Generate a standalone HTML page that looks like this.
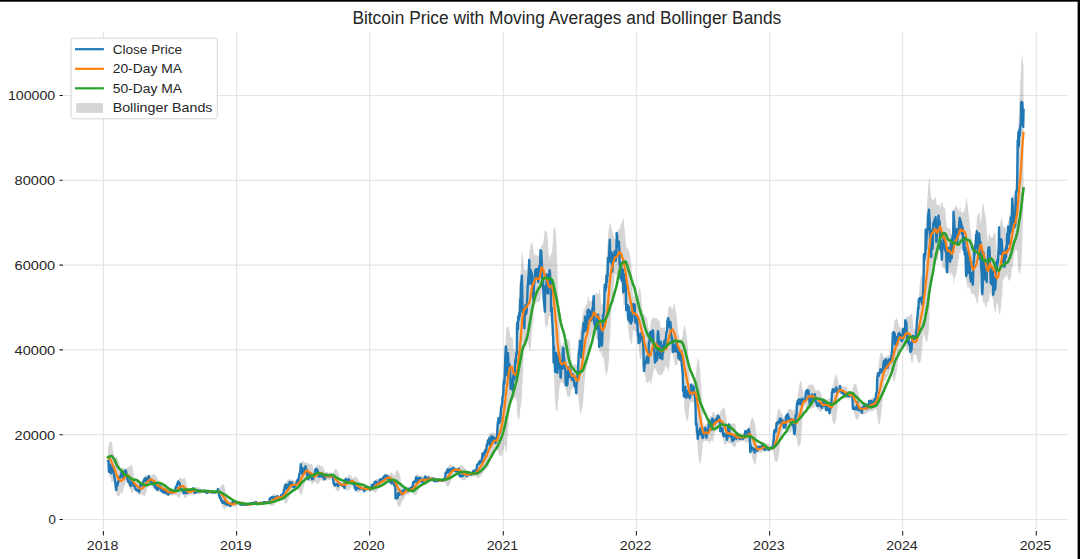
<!DOCTYPE html>
<html><head><meta charset="utf-8"><title>Bitcoin Price with Moving Averages and Bollinger Bands</title>
<style>
html,body{margin:0;padding:0;background:#fff;overflow:hidden}
svg{display:block}
text{font-family:"Liberation Sans",sans-serif;fill:#262626}
</style></head><body>
<svg width="1080" height="559" viewBox="0 0 1080 559">
<rect width="1080" height="559" fill="#fff"/>

<path d="M103.4,31.8V529 M236.6,31.8V529 M369.7,31.8V529 M503.3,31.8V529 M636.4,31.8V529 M769.6,31.8V529 M902.7,31.8V529 M1036.3,31.8V529 M64,519.50H1068 M64,434.70H1068 M64,349.90H1068 M64,265.10H1068 M64,180.30H1068 M64,95.50H1068" stroke="#e5e5e5" stroke-width="1.2" fill="none"/>
<polygon points="108.1,446.2 108.5,446.3 108.9,444.5 109.2,443.1 109.6,442.2 110.0,442.0 110.3,442.0 110.7,441.8 111.1,441.2 111.4,441.2 111.8,441.7 112.2,443.0 112.5,447.0 112.9,449.9 113.3,451.7 113.6,452.8 114.0,454.5 114.3,457.2 114.7,458.0 115.1,457.6 115.4,458.2 115.8,458.5 116.2,456.7 116.5,456.0 116.9,456.0 117.3,456.8 117.6,458.5 118.0,459.9 118.4,460.5 118.7,461.7 119.1,462.9 119.5,463.7 119.8,464.8 120.2,467.2 120.5,468.9 120.9,469.7 121.3,469.6 121.6,468.4 122.0,467.5 122.4,467.1 122.7,466.9 123.1,467.1 123.5,468.2 123.8,468.7 124.2,469.1 124.6,469.7 124.9,469.3 125.3,468.6 125.7,468.2 126.0,468.0 126.4,468.0 126.7,467.9 127.1,468.0 127.5,467.7 127.8,467.4 128.2,466.8 128.6,466.7 128.9,467.0 129.3,467.3 129.7,466.8 130.0,466.1 130.4,465.5 130.8,465.0 131.1,464.9 131.5,464.9 131.9,465.2 132.2,466.6 132.6,468.3 133.0,470.0 133.3,472.5 133.7,474.2 134.0,476.0 134.4,477.9 134.8,478.5 135.1,478.9 135.5,478.9 135.9,479.0 136.2,479.0 136.6,479.7 137.0,479.7 137.3,479.4 137.7,479.2 138.1,479.1 138.4,479.3 138.8,479.4 139.2,480.2 139.5,481.2 139.9,481.9 140.2,482.2 140.6,482.6 141.0,482.6 141.3,482.2 141.7,482.2 142.1,482.1 142.4,481.6 142.8,480.8 143.2,479.8 143.5,478.8 143.9,477.6 144.3,476.7 144.6,475.6 145.0,475.2 145.4,474.9 145.7,474.5 146.1,474.5 146.5,474.8 146.8,475.6 147.2,475.8 147.5,475.4 147.9,474.8 148.3,474.7 148.6,474.5 149.0,474.2 149.4,474.7 149.7,475.3 150.1,475.6 150.5,475.7 150.8,475.8 151.2,475.4 151.6,475.0 151.9,474.7 152.3,474.5 152.7,474.3 153.0,474.3 153.4,474.1 153.7,474.3 154.1,474.3 154.5,474.4 154.8,474.4 155.2,474.9 155.6,474.9 155.9,475.4 156.3,476.8 156.7,477.2 157.0,477.9 157.4,478.8 157.8,479.1 158.1,480.0 158.5,480.4 158.9,480.7 159.2,481.0 159.6,481.5 160.0,481.8 160.3,482.6 160.7,482.8 161.0,483.3 161.4,483.8 161.8,484.3 162.1,484.3 162.5,484.4 162.9,484.0 163.2,484.0 163.6,483.9 164.0,483.8 164.3,483.9 164.7,483.9 165.1,483.9 165.4,484.1 165.8,484.2 166.2,484.8 166.5,485.2 166.9,485.6 167.2,486.8 167.6,487.7 168.0,487.9 168.3,488.9 168.7,488.9 169.1,489.1 169.4,489.5 169.8,489.7 170.2,489.6 170.5,489.5 170.9,489.5 171.3,489.4 171.6,489.5 172.0,489.7 172.4,489.7 172.7,490.0 173.1,490.0 173.4,489.8 173.8,489.7 174.2,489.7 174.5,489.5 174.9,489.4 175.3,489.1 175.6,488.5 176.0,487.4 176.4,486.6 176.7,485.7 177.1,484.2 177.5,482.7 177.8,481.6 178.2,480.0 178.6,479.0 178.9,478.2 179.3,478.0 179.7,477.6 180.0,477.7 180.4,478.0 180.7,478.2 181.1,478.5 181.5,478.9 181.8,479.0 182.2,479.3 182.6,479.2 182.9,479.0 183.3,478.5 183.7,478.0 184.0,477.6 184.4,477.7 184.8,478.1 185.1,478.6 185.5,479.8 185.9,480.9 186.2,482.4 186.6,483.4 186.9,485.1 187.3,486.2 187.7,487.2 188.0,487.8 188.4,488.5 188.8,489.1 189.1,489.5 189.5,490.0 189.9,490.1 190.2,490.1 190.6,489.7 191.0,489.4 191.3,489.3 191.7,488.8 192.1,488.4 192.4,488.1 192.8,487.8 193.2,487.4 193.5,487.1 193.9,487.2 194.2,487.3 194.6,487.2 195.0,487.2 195.3,487.2 195.7,487.2 196.1,487.2 196.4,487.1 196.8,487.1 197.2,487.1 197.5,487.2 197.9,487.2 198.3,487.3 198.6,487.3 199.0,487.5 199.4,487.8 199.7,488.0 200.1,488.4 200.4,489.1 200.8,489.6 201.2,489.7 201.5,489.6 201.9,489.6 202.3,489.9 202.6,490.0 203.0,490.1 203.4,490.1 203.7,490.1 204.1,490.2 204.5,490.3 204.8,490.2 205.2,490.2 205.6,490.2 205.9,490.2 206.3,490.2 206.6,489.8 207.0,489.7 207.4,489.6 207.7,489.6 208.1,489.7 208.5,489.8 208.8,489.9 209.2,490.1 209.6,490.1 209.9,490.1 210.3,490.2 210.7,490.2 211.0,490.3 211.4,490.4 211.8,490.5 212.1,490.5 212.5,490.8 212.9,490.9 213.2,491.0 213.6,491.0 213.9,491.1 214.3,491.1 214.7,491.1 215.0,491.1 215.4,491.2 215.8,491.2 216.1,491.2 216.5,491.2 216.9,491.1 217.2,491.1 217.6,490.7 218.0,489.8 218.3,489.6 218.7,489.6 219.1,489.0 219.4,488.6 219.8,487.7 220.1,487.2 220.5,486.7 220.9,486.3 221.2,485.7 221.6,485.3 222.0,484.8 222.3,484.5 222.7,484.2 223.1,484.3 223.4,484.6 223.8,485.2 224.2,486.1 224.5,486.9 224.9,488.2 225.3,490.2 225.6,492.2 226.0,494.0 226.4,495.0 226.7,496.2 227.1,496.7 227.4,497.7 227.8,498.7 228.2,499.6 228.5,500.0 228.9,500.4 229.3,500.6 229.6,500.6 230.0,500.5 230.4,500.5 230.7,500.8 231.1,501.4 231.5,502.0 231.8,502.2 232.2,502.4 232.6,502.0 232.9,501.8 233.3,501.5 233.6,501.2 234.0,500.9 234.4,500.7 234.7,500.5 235.1,500.5 235.5,500.4 235.8,500.3 236.2,500.2 236.6,500.2 236.9,500.2 237.3,500.6 237.7,501.0 238.0,501.2 238.4,501.4 238.8,501.6 239.1,501.6 239.5,501.5 239.9,501.3 240.2,501.1 240.6,501.0 240.9,500.9 241.3,501.1 241.7,501.1 242.0,501.2 242.4,501.2 242.8,501.2 243.1,501.2 243.5,501.3 243.9,501.4 244.2,501.6 244.6,501.8 245.0,502.0 245.3,502.4 245.7,503.0 246.1,503.5 246.4,503.8 246.8,504.0 247.1,504.0 247.5,504.0 247.9,504.0 248.2,504.0 248.6,504.0 249.0,504.0 249.3,503.9 249.7,503.8 250.1,503.7 250.4,503.7 250.8,503.5 251.2,503.3 251.5,503.1 251.9,503.0 252.3,502.9 252.6,502.7 253.0,502.6 253.3,502.4 253.7,502.4 254.1,502.4 254.4,502.3 254.8,502.2 255.2,502.0 255.5,501.9 255.9,501.7 256.3,501.7 256.6,501.7 257.0,501.8 257.4,501.8 257.7,501.8 258.1,501.8 258.5,501.8 258.8,501.8 259.2,501.8 259.6,501.8 259.9,501.8 260.3,501.8 260.6,501.9 261.0,501.8 261.4,501.8 261.7,501.8 262.1,501.9 262.5,501.9 262.8,502.0 263.2,502.2 263.6,502.1 263.9,502.1 264.3,502.1 264.7,502.0 265.0,501.9 265.4,501.8 265.8,501.8 266.1,501.8 266.5,501.8 266.8,501.8 267.2,501.8 267.6,501.8 267.9,501.8 268.3,501.8 268.7,501.8 269.0,501.8 269.4,501.8 269.8,500.1 270.1,499.0 270.5,498.3 270.9,497.6 271.2,497.0 271.6,496.3 272.0,495.6 272.3,495.1 272.7,494.6 273.1,494.4 273.4,494.2 273.8,494.1 274.1,494.0 274.5,494.1 274.9,494.1 275.2,494.2 275.6,494.3 276.0,494.7 276.3,495.2 276.7,496.2 277.1,496.2 277.4,495.9 277.8,495.9 278.2,495.9 278.5,496.0 278.9,496.0 279.3,496.0 279.6,496.0 280.0,496.0 280.3,496.0 280.7,496.0 281.1,495.6 281.4,495.0 281.8,494.7 282.2,494.5 282.5,494.2 282.9,493.8 283.3,493.1 283.6,492.3 284.0,490.5 284.4,489.3 284.7,487.0 285.1,485.0 285.5,483.2 285.8,482.1 286.2,481.6 286.5,481.4 286.9,480.4 287.3,479.9 287.6,479.6 288.0,479.6 288.4,479.5 288.7,479.3 289.1,479.4 289.5,479.1 289.8,479.0 290.2,479.1 290.6,479.4 290.9,480.2 291.3,480.1 291.7,480.4 292.0,480.1 292.4,480.0 292.8,480.0 293.1,480.0 293.5,480.2 293.8,480.6 294.2,480.6 294.6,480.5 294.9,480.5 295.3,480.6 295.7,480.6 296.0,480.6 296.4,480.4 296.8,480.2 297.1,480.0 297.5,479.3 297.9,479.0 298.2,478.3 298.6,477.5 299.0,476.0 299.3,473.9 299.7,472.0 300.0,470.3 300.4,467.9 300.8,464.3 301.1,463.4 301.5,461.6 301.9,460.7 302.2,460.7 302.6,461.1 303.0,461.4 303.3,461.1 303.7,461.4 304.1,461.7 304.4,462.1 304.8,462.3 305.2,462.3 305.5,462.3 305.9,462.8 306.3,463.2 306.6,463.2 307.0,463.3 307.3,462.9 307.7,462.9 308.1,463.2 308.4,462.7 308.8,463.4 309.2,463.9 309.5,463.9 309.9,463.9 310.3,463.8 310.6,464.1 311.0,464.1 311.4,464.0 311.7,464.1 312.1,464.2 312.5,465.2 312.8,467.0 313.2,468.5 313.5,469.3 313.9,470.8 314.3,471.7 314.6,471.3 315.0,471.2 315.4,469.7 315.7,468.8 316.1,467.6 316.5,466.4 316.8,465.6 317.2,465.3 317.6,464.8 317.9,464.5 318.3,464.5 318.7,464.5 319.0,464.6 319.4,464.9 319.8,465.2 320.1,465.6 320.5,466.0 320.8,466.2 321.2,466.1 321.6,466.0 321.9,466.0 322.3,465.9 322.7,466.4 323.0,466.8 323.4,467.7 323.8,468.7 324.1,469.6 324.5,470.0 324.9,471.0 325.2,472.1 325.6,472.6 326.0,472.3 326.3,472.1 326.7,472.0 327.0,472.0 327.4,471.9 327.8,472.3 328.1,472.7 328.5,472.7 328.9,472.7 329.2,472.7 329.6,472.6 330.0,472.5 330.3,472.5 330.7,472.5 331.1,472.6 331.4,473.0 331.8,473.3 332.2,473.7 332.5,474.0 332.9,473.9 333.2,473.8 333.6,471.9 334.0,470.9 334.3,469.8 334.7,469.3 335.1,469.1 335.4,469.0 335.8,469.0 336.2,469.1 336.5,469.6 336.9,470.1 337.3,470.7 337.6,471.4 338.0,472.1 338.4,473.0 338.7,474.0 339.1,475.3 339.5,476.7 339.8,478.2 340.2,480.2 340.5,482.5 340.9,482.6 341.3,482.7 341.6,482.7 342.0,482.7 342.4,482.6 342.7,482.6 343.1,482.6 343.5,482.6 343.8,482.7 344.2,482.2 344.6,481.9 344.9,481.5 345.3,480.4 345.7,479.1 346.0,478.4 346.4,477.7 346.7,477.3 347.1,476.9 347.5,476.4 347.8,476.0 348.2,475.7 348.6,475.2 348.9,475.0 349.3,474.7 349.7,474.7 350.0,474.9 350.4,474.9 350.8,475.0 351.1,475.2 351.5,476.2 351.9,478.0 352.2,478.0 352.6,477.8 353.0,477.9 353.3,477.9 353.7,477.9 354.0,477.7 354.4,477.6 354.8,477.2 355.1,476.8 355.5,476.6 355.9,476.5 356.2,476.7 356.6,477.2 357.0,477.8 357.3,478.1 357.7,478.5 358.1,479.2 358.4,479.7 358.8,480.4 359.2,481.1 359.5,481.9 359.9,482.5 360.2,483.2 360.6,484.2 361.0,484.8 361.3,485.5 361.7,486.2 362.1,486.4 362.4,486.3 362.8,486.3 363.2,486.4 363.5,486.4 363.9,486.2 364.3,485.8 364.6,485.9 365.0,486.2 365.4,486.4 365.7,486.5 366.1,486.4 366.4,486.4 366.8,486.4 367.2,486.5 367.5,486.7 367.9,486.9 368.3,487.1 368.6,487.1 369.0,487.1 369.4,487.1 369.7,487.1 370.1,487.1 370.5,487.0 370.8,486.9 371.2,486.9 371.6,486.9 371.9,485.7 372.3,485.1 372.7,484.8 373.0,484.2 373.4,483.8 373.7,483.4 374.1,483.0 374.5,481.9 374.8,481.0 375.2,480.4 375.6,479.6 375.9,479.0 376.3,478.7 376.7,478.6 377.0,478.5 377.4,478.8 377.8,479.1 378.1,479.4 378.5,479.9 378.9,480.0 379.2,479.8 379.6,479.2 379.9,479.0 380.3,478.4 380.7,478.2 381.0,478.0 381.4,478.0 381.8,477.8 382.1,477.6 382.5,477.2 382.9,476.7 383.2,476.1 383.6,475.6 384.0,474.9 384.3,474.6 384.7,473.9 385.1,473.6 385.4,473.4 385.8,473.4 386.2,473.8 386.5,474.0 386.9,474.0 387.2,473.9 387.6,473.9 388.0,474.0 388.3,474.1 388.7,474.2 389.1,474.3 389.4,474.7 389.8,474.5 390.2,473.7 390.5,473.2 390.9,472.8 391.3,472.6 391.6,472.4 392.0,472.7 392.4,473.1 392.7,473.6 393.1,474.4 393.4,474.7 393.8,475.1 394.2,475.0 394.5,475.4 394.9,475.4 395.3,475.6 395.6,472.1 396.0,471.1 396.4,470.6 396.7,470.6 397.1,470.4 397.5,470.3 397.8,470.5 398.2,471.1 398.6,471.8 398.9,472.5 399.3,473.6 399.7,474.7 400.0,476.0 400.4,477.7 400.7,479.8 401.1,481.9 401.5,483.3 401.8,484.6 402.2,486.1 402.6,487.9 402.9,487.8 403.3,487.4 403.7,487.4 404.0,487.2 404.4,487.5 404.8,487.5 405.1,487.8 405.5,487.2 405.9,486.8 406.2,486.8 406.6,487.1 406.9,487.0 407.3,487.0 407.7,487.0 408.0,487.0 408.4,486.8 408.8,486.9 409.1,487.3 409.5,487.3 409.9,487.5 410.2,487.6 410.6,487.6 411.0,487.3 411.3,486.9 411.7,486.6 412.1,486.2 412.4,485.7 412.8,485.4 413.1,483.4 413.5,482.2 413.9,480.9 414.2,479.7 414.6,478.9 415.0,478.2 415.3,477.6 415.7,476.9 416.1,475.4 416.4,474.3 416.8,473.7 417.2,474.0 417.5,474.4 417.9,474.8 418.3,474.8 418.6,474.5 419.0,474.8 419.4,475.1 419.7,475.4 420.1,475.9 420.4,475.6 420.8,475.6 421.2,475.7 421.5,475.7 421.9,475.7 422.3,475.7 422.6,475.7 423.0,475.6 423.4,476.1 423.7,476.3 424.1,476.4 424.5,476.2 424.8,476.4 425.2,475.9 425.6,475.8 425.9,475.9 426.3,475.7 426.6,475.6 427.0,475.6 427.4,475.6 427.7,475.6 428.1,475.5 428.5,475.3 428.8,475.3 429.2,475.4 429.6,475.7 429.9,475.9 430.3,476.4 430.7,476.6 431.0,476.6 431.4,476.5 431.8,476.5 432.1,476.5 432.5,477.1 432.9,477.0 433.2,477.0 433.6,477.2 433.9,477.2 434.3,477.2 434.7,477.2 435.0,477.3 435.4,477.6 435.8,478.0 436.1,478.0 436.5,478.1 436.9,478.1 437.2,478.1 437.6,478.2 438.0,478.3 438.3,478.4 438.7,478.4 439.1,478.4 439.4,478.4 439.8,478.4 440.1,478.9 440.5,479.3 440.9,479.4 441.2,479.4 441.6,479.4 442.0,479.5 442.3,479.5 442.7,479.5 443.1,479.5 443.4,479.3 443.8,479.0 444.2,478.7 444.5,478.5 444.9,478.2 445.3,477.6 445.6,474.9 446.0,473.4 446.3,472.0 446.7,470.8 447.1,469.5 447.4,467.8 447.8,467.2 448.2,466.6 448.5,466.2 448.9,465.4 449.3,464.7 449.6,464.4 450.0,464.2 450.4,464.2 450.7,464.1 451.1,464.5 451.5,464.8 451.8,465.5 452.2,466.3 452.6,467.4 452.9,467.2 453.3,466.9 453.6,466.8 454.0,466.9 454.4,466.9 454.7,466.9 455.1,467.2 455.5,467.4 455.8,467.7 456.2,467.5 456.6,467.5 456.9,467.4 457.3,467.4 457.7,467.4 458.0,467.5 458.4,467.5 458.8,467.4 459.1,467.4 459.5,466.0 459.8,465.6 460.2,465.0 460.6,465.2 460.9,465.3 461.3,465.2 461.7,465.4 462.0,465.5 462.4,465.7 462.8,466.1 463.1,466.5 463.5,466.8 463.9,467.1 464.2,467.3 464.6,467.7 465.0,468.0 465.3,468.6 465.7,469.3 466.1,470.8 466.4,471.6 466.8,471.6 467.1,471.6 467.5,471.6 467.9,471.6 468.2,471.5 468.6,471.6 469.0,471.7 469.3,471.7 469.7,471.8 470.1,471.8 470.4,471.9 470.8,471.9 471.2,471.9 471.5,472.1 471.9,472.2 472.3,472.2 472.6,472.2 473.0,471.7 473.3,471.2 473.7,470.4 474.1,470.2 474.4,469.8 474.8,469.4 475.2,469.2 475.5,469.0 475.9,468.7 476.3,468.3 476.6,467.7 477.0,465.9 477.4,464.4 477.7,463.3 478.1,462.1 478.5,461.3 478.8,460.7 479.2,459.6 479.6,459.0 479.9,458.4 480.3,457.7 480.6,456.9 481.0,456.3 481.4,456.1 481.7,455.5 482.1,455.1 482.5,453.2 482.8,451.8 483.2,451.7 483.6,450.9 483.9,450.5 484.3,449.9 484.7,448.9 485.0,447.5 485.4,446.3 485.8,445.7 486.1,445.4 486.5,444.2 486.8,442.4 487.2,440.8 487.6,439.5 487.9,437.4 488.3,435.8 488.7,435.2 489.0,434.7 489.4,433.6 489.8,432.6 490.1,432.6 490.5,433.2 490.9,433.3 491.2,433.5 491.6,432.6 492.0,432.7 492.3,432.2 492.7,431.7 493.0,432.2 493.4,433.0 493.8,433.2 494.1,433.0 494.5,433.1 494.9,433.2 495.2,433.2 495.6,433.2 496.0,433.2 496.3,432.9 496.7,432.9 497.1,432.5 497.4,430.3 497.8,426.1 498.2,422.3 498.5,418.1 498.9,415.2 499.3,413.4 499.6,410.8 500.0,409.1 500.3,407.4 500.7,404.9 501.1,400.7 501.4,397.6 501.8,394.5 502.2,391.8 502.5,388.3 502.9,385.8 503.3,383.4 503.6,378.3 504.0,373.7 504.4,371.4 504.7,366.5 505.1,358.3 505.5,348.2 505.8,338.0 506.2,330.7 506.5,327.3 506.9,326.5 507.3,327.6 507.6,327.3 508.0,325.9 508.4,326.0 508.7,327.5 509.1,329.2 509.5,331.3 509.8,333.2 510.2,335.9 510.6,337.2 510.9,337.6 511.3,337.3 511.7,337.4 512.0,336.9 512.4,336.9 512.8,337.7 513.1,342.2 513.5,346.7 513.8,349.1 514.2,349.6 514.6,349.6 514.9,350.9 515.3,352.9 515.7,352.8 516.0,350.9 516.4,347.4 516.8,345.2 517.1,331.7 517.5,320.9 517.9,314.6 518.2,305.3 518.6,298.3 519.0,293.0 519.3,287.2 519.7,283.2 520.0,280.7 520.4,274.6 520.8,270.1 521.1,262.3 521.5,257.3 521.9,252.5 522.2,251.6 522.6,253.5 523.0,256.8 523.3,260.7 523.7,264.5 524.1,269.7 524.4,269.3 524.8,269.3 525.2,270.3 525.5,270.0 525.9,270.1 526.2,270.3 526.6,270.3 527.0,269.9 527.3,269.0 527.7,267.1 528.1,264.2 528.4,262.7 528.8,260.9 529.2,256.1 529.5,251.9 529.9,249.9 530.3,247.2 530.6,243.9 531.0,242.8 531.4,242.0 531.7,243.5 532.1,243.0 532.5,244.8 532.8,245.6 533.2,248.1 533.5,250.1 533.9,253.4 534.3,255.1 534.6,256.2 535.0,255.7 535.4,254.6 535.7,253.8 536.1,253.3 536.5,255.5 536.8,256.6 537.2,255.9 537.6,254.8 537.9,255.3 538.3,255.7 538.7,255.8 539.0,255.7 539.4,254.1 539.7,252.8 540.1,251.9 540.5,248.5 540.8,248.5 541.2,245.8 541.6,245.2 541.9,245.7 542.3,245.0 542.7,244.1 543.0,243.7 543.4,241.8 543.8,238.6 544.1,235.6 544.5,232.6 544.9,230.0 545.2,230.3 545.6,230.3 546.0,230.8 546.3,231.3 546.7,232.3 547.0,233.3 547.4,234.8 547.8,239.7 548.1,245.3 548.5,251.4 548.9,256.3 549.2,259.2 549.6,257.2 550.0,255.7 550.3,256.0 550.7,255.3 551.1,253.6 551.4,252.8 551.8,252.7 552.2,250.5 552.5,246.8 552.9,241.9 553.2,238.1 553.6,229.6 554.0,229.3 554.3,227.9 554.7,227.7 555.1,227.6 555.4,228.6 555.8,233.5 556.2,238.8 556.5,246.1 556.9,255.8 557.3,266.6 557.6,277.3 558.0,292.5 558.4,298.8 558.7,307.1 559.1,317.7 559.5,325.3 559.8,333.4 560.2,338.8 560.5,343.3 560.9,342.3 561.3,345.4 561.6,345.6 562.0,345.7 562.4,345.9 562.7,345.6 563.1,343.4 563.5,342.5 563.8,342.6 564.2,342.1 564.6,342.4 564.9,342.4 565.3,342.5 565.7,340.0 566.0,339.3 566.4,340.6 566.7,340.9 567.1,339.7 567.5,339.1 567.8,339.3 568.2,339.4 568.6,340.0 568.9,340.4 569.3,341.1 569.7,341.2 570.0,343.7 570.4,348.4 570.8,353.8 571.1,357.1 571.5,360.9 571.9,361.8 572.2,362.7 572.6,363.9 572.9,364.4 573.3,364.7 573.7,364.5 574.0,364.8 574.4,365.0 574.8,364.3 575.1,364.1 575.5,364.2 575.9,365.2 576.2,364.8 576.6,365.0 577.0,365.5 577.3,366.4 577.7,367.5 578.1,365.8 578.4,361.9 578.8,355.2 579.2,348.7 579.5,343.6 579.9,336.2 580.2,330.9 580.6,327.9 581.0,325.9 581.3,324.7 581.7,323.2 582.1,321.3 582.4,318.3 582.8,314.2 583.2,312.7 583.5,310.8 583.9,309.3 584.3,308.9 584.6,309.6 585.0,307.6 585.4,306.7 585.7,305.3 586.1,304.3 586.4,304.1 586.8,304.2 587.2,302.5 587.5,298.8 587.9,297.0 588.3,296.1 588.6,297.2 589.0,299.5 589.4,300.8 589.7,302.0 590.1,301.0 590.5,301.1 590.8,300.4 591.2,300.6 591.6,300.8 591.9,301.5 592.3,300.7 592.7,299.4 593.0,298.3 593.4,295.9 593.7,293.8 594.1,295.7 594.5,295.2 594.8,294.9 595.2,293.7 595.6,293.2 595.9,293.5 596.3,292.8 596.7,293.2 597.0,293.1 597.4,293.5 597.8,294.0 598.1,294.2 598.5,294.2 598.9,292.4 599.2,289.5 599.6,290.1 599.9,291.8 600.3,293.1 600.7,297.3 601.0,304.5 601.4,304.6 601.8,303.9 602.1,304.0 602.5,304.2 602.9,302.2 603.2,301.0 603.6,299.2 604.0,297.6 604.3,294.1 604.7,285.0 605.1,279.4 605.4,274.7 605.8,268.8 606.1,263.9 606.5,257.7 606.9,253.3 607.2,248.0 607.6,244.4 608.0,237.4 608.3,232.6 608.7,229.3 609.1,228.4 609.4,227.0 609.8,223.7 610.2,222.6 610.5,223.9 610.9,225.8 611.3,228.7 611.6,229.1 612.0,229.2 612.4,230.9 612.7,232.6 613.1,233.4 613.4,235.5 613.8,236.0 614.2,238.3 614.5,238.9 614.9,240.6 615.3,240.7 615.6,240.7 616.0,240.7 616.4,240.1 616.7,235.3 617.1,234.0 617.5,232.5 617.8,231.1 618.2,230.3 618.6,229.5 618.9,228.1 619.3,228.2 619.6,229.4 620.0,229.3 620.4,226.1 620.7,224.7 621.1,224.3 621.5,223.6 621.8,221.9 622.2,221.5 622.6,220.7 622.9,220.6 623.3,217.9 623.7,217.5 624.0,222.5 624.4,227.6 624.8,231.0 625.1,235.0 625.5,238.8 625.9,242.6 626.2,245.5 626.6,247.5 626.9,247.9 627.3,249.4 627.7,249.1 628.0,247.8 628.4,248.7 628.8,250.9 629.1,252.0 629.5,252.9 629.9,255.1 630.2,259.9 630.6,260.2 631.0,261.0 631.3,265.0 631.7,270.7 632.1,276.6 632.4,284.5 632.8,293.5 633.1,297.4 633.5,296.7 633.9,295.7 634.2,295.7 634.6,295.6 635.0,296.8 635.3,296.5 635.7,296.5 636.1,296.5 636.4,297.5 636.8,297.7 637.2,297.6 637.5,297.6 637.9,295.6 638.3,293.8 638.6,291.0 639.0,289.0 639.3,287.6 639.7,287.5 640.1,288.0 640.4,291.0 640.8,293.8 641.2,297.8 641.5,302.4 641.9,308.0 642.3,310.1 642.6,311.4 643.0,313.5 643.4,314.8 643.7,314.3 644.1,313.2 644.5,314.2 644.8,315.9 645.2,316.2 645.6,316.7 645.9,316.8 646.3,317.3 646.6,318.0 647.0,318.9 647.4,320.5 647.7,323.5 648.1,325.5 648.5,328.4 648.8,330.0 649.2,331.9 649.6,331.8 649.9,330.0 650.3,327.2 650.7,323.8 651.0,321.0 651.4,320.5 651.8,319.8 652.1,319.4 652.5,318.9 652.8,317.2 653.2,316.4 653.6,317.2 653.9,317.7 654.3,318.5 654.7,318.5 655.0,317.4 655.4,318.3 655.8,318.3 656.1,317.8 656.5,317.8 656.9,318.2 657.2,319.3 657.6,320.0 658.0,319.9 658.3,319.6 658.7,319.5 659.1,320.1 659.4,320.8 659.8,321.8 660.1,325.0 660.5,328.0 660.9,327.3 661.2,327.4 661.6,327.6 662.0,327.6 662.3,327.9 662.7,327.9 663.1,328.3 663.4,327.9 663.8,327.5 664.2,326.7 664.5,326.3 664.9,327.7 665.3,330.9 665.6,332.9 666.0,332.5 666.3,329.3 666.7,326.4 667.1,324.0 667.4,319.3 667.8,315.0 668.2,310.6 668.5,307.6 668.9,306.8 669.3,305.8 669.6,306.6 670.0,306.1 670.4,306.5 670.7,306.7 671.1,307.6 671.5,308.1 671.8,308.2 672.2,309.1 672.6,309.9 672.9,307.4 673.3,305.8 673.6,305.2 674.0,304.0 674.4,303.6 674.7,304.6 675.1,306.1 675.5,308.9 675.8,311.9 676.2,313.5 676.6,316.2 676.9,318.6 677.3,322.5 677.7,327.7 678.0,332.5 678.4,333.3 678.8,335.6 679.1,336.9 679.5,338.8 679.8,339.7 680.2,339.4 680.6,339.3 680.9,339.6 681.3,339.6 681.7,338.8 682.0,337.9 682.4,336.6 682.8,335.2 683.1,330.8 683.5,329.7 683.9,327.0 684.2,325.3 684.6,324.9 685.0,325.7 685.3,328.4 685.7,329.3 686.0,331.7 686.4,334.5 686.8,337.5 687.1,339.9 687.5,343.7 687.9,348.5 688.2,352.8 688.6,361.9 689.0,367.3 689.3,373.0 689.7,379.6 690.1,385.7 690.4,386.0 690.8,385.0 691.2,383.3 691.5,383.3 691.9,383.0 692.3,383.1 692.6,384.1 693.0,384.1 693.3,383.2 693.7,382.7 694.1,382.8 694.4,382.8 694.8,382.7 695.2,382.4 695.5,380.6 695.9,373.3 696.3,368.8 696.6,366.3 697.0,362.3 697.4,359.8 697.7,357.2 698.1,358.2 698.5,360.1 698.8,361.2 699.2,363.0 699.5,365.2 699.9,368.0 700.3,371.3 700.6,376.9 701.0,383.1 701.4,389.3 701.7,396.7 702.1,404.2 702.5,412.8 702.8,421.3 703.2,422.5 703.6,423.8 703.9,426.2 704.3,426.1 704.7,425.3 705.0,425.0 705.4,424.3 705.8,424.2 706.1,424.3 706.5,424.0 706.8,424.3 707.2,424.7 707.6,425.2 707.9,425.1 708.3,425.0 708.7,423.3 709.0,420.4 709.4,418.4 709.8,417.0 710.1,416.4 710.5,416.2 710.9,415.7 711.2,415.9 711.6,415.9 712.0,415.3 712.3,413.8 712.7,412.4 713.0,411.5 713.4,411.4 713.8,412.2 714.1,412.7 714.5,413.2 714.9,413.8 715.2,414.0 715.6,415.1 716.0,415.0 716.3,414.7 716.7,414.7 717.1,414.2 717.4,413.7 717.8,412.8 718.2,412.1 718.5,412.5 718.9,413.9 719.2,413.9 719.6,414.0 720.0,414.1 720.3,411.8 720.7,410.7 721.1,410.2 721.4,409.8 721.8,409.5 722.2,409.1 722.5,409.1 722.9,408.3 723.3,407.7 723.6,407.4 724.0,407.5 724.4,407.9 724.7,408.8 725.1,410.4 725.5,412.4 725.8,414.7 726.2,417.2 726.5,420.0 726.9,421.9 727.3,424.6 727.6,424.7 728.0,424.4 728.4,424.1 728.7,423.7 729.1,422.7 729.5,423.2 729.8,423.9 730.2,424.0 730.6,424.0 730.9,424.0 731.3,424.0 731.7,423.9 732.0,423.8 732.4,423.4 732.7,423.4 733.1,423.4 733.5,423.4 733.8,423.3 734.2,423.4 734.6,423.3 734.9,423.4 735.3,424.3 735.7,426.0 736.0,428.0 736.4,432.3 736.8,433.0 737.1,432.8 737.5,432.4 737.9,432.3 738.2,432.7 738.6,432.7 739.0,432.8 739.3,432.8 739.7,433.1 740.0,433.1 740.4,433.1 740.8,433.2 741.1,433.3 741.5,433.3 741.9,433.3 742.2,433.3 742.6,433.4 743.0,433.4 743.3,433.4 743.7,433.4 744.1,433.4 744.4,434.3 744.8,434.5 745.2,432.9 745.5,432.2 745.9,431.2 746.2,430.1 746.6,429.5 747.0,429.1 747.3,428.7 747.7,428.5 748.1,428.4 748.4,427.6 748.8,426.8 749.2,426.4 749.5,426.3 749.9,425.8 750.3,421.9 750.6,421.1 751.0,420.0 751.4,419.0 751.7,417.9 752.1,417.5 752.5,417.8 752.8,418.0 753.2,418.6 753.5,419.5 753.9,420.5 754.3,421.6 754.6,422.7 755.0,423.9 755.4,425.5 755.7,428.4 756.1,432.4 756.5,436.8 756.8,442.7 757.2,445.1 757.6,445.3 757.9,446.0 758.3,446.0 758.7,445.7 759.0,445.5 759.4,445.2 759.7,445.1 760.1,444.9 760.5,444.9 760.8,444.6 761.2,444.4 761.6,444.2 761.9,444.6 762.3,444.6 762.7,443.8 763.0,443.1 763.4,443.0 763.8,443.0 764.1,443.1 764.5,443.5 764.9,443.5 765.2,443.6 765.6,443.6 765.9,443.6 766.3,443.6 766.7,443.6 767.0,443.6 767.4,443.7 767.8,443.6 768.1,443.7 768.5,443.7 768.9,443.8 769.2,443.8 769.6,444.0 770.0,445.0 770.3,446.3 770.7,447.2 771.1,447.1 771.4,447.0 771.8,446.9 772.2,446.8 772.5,446.4 772.9,445.8 773.2,444.4 773.6,441.6 774.0,437.7 774.3,433.2 774.7,429.9 775.1,426.9 775.4,424.4 775.8,422.9 776.2,421.2 776.5,418.1 776.9,415.5 777.3,413.5 777.6,411.7 778.0,410.5 778.4,409.4 778.7,408.8 779.1,408.6 779.4,408.9 779.8,409.1 780.2,410.6 780.5,412.2 780.9,413.1 781.3,413.5 781.6,413.4 782.0,413.6 782.4,414.0 782.7,414.7 783.1,416.2 783.5,418.2 783.8,417.3 784.2,416.5 784.6,416.1 784.9,415.8 785.3,415.5 785.7,415.5 786.0,414.4 786.4,414.2 786.7,412.9 787.1,412.1 787.5,411.4 787.8,410.2 788.2,409.7 788.6,409.3 788.9,409.1 789.3,409.1 789.7,409.1 790.0,409.0 790.4,408.9 790.8,408.9 791.1,409.1 791.5,409.6 791.9,409.9 792.2,410.3 792.6,410.8 792.9,411.0 793.3,411.0 793.7,410.4 794.0,409.4 794.4,408.9 794.8,409.0 795.1,410.5 795.5,410.8 795.9,410.2 796.2,409.8 796.6,408.3 797.0,403.7 797.3,400.7 797.7,396.7 798.1,393.6 798.4,390.5 798.8,388.5 799.1,385.9 799.5,384.3 799.9,383.0 800.2,381.6 800.6,381.1 801.0,381.1 801.3,381.9 801.7,384.2 802.1,387.1 802.4,389.6 802.8,390.5 803.2,391.6 803.5,393.9 803.9,396.5 804.3,396.4 804.6,396.8 805.0,396.8 805.4,396.6 805.7,394.8 806.1,392.4 806.4,391.1 806.8,389.3 807.2,387.8 807.5,386.6 807.9,385.9 808.3,386.1 808.6,385.2 809.0,385.3 809.4,385.3 809.7,384.8 810.1,384.7 810.5,384.6 810.8,384.4 811.2,384.4 811.6,384.5 811.9,384.4 812.3,384.4 812.6,384.3 813.0,384.5 813.4,385.0 813.7,385.5 814.1,386.3 814.5,387.4 814.8,388.2 815.2,389.3 815.6,389.7 815.9,391.2 816.3,391.2 816.7,391.1 817.0,390.8 817.4,390.3 817.8,389.9 818.1,389.6 818.5,389.5 818.9,389.4 819.2,390.2 819.6,390.8 819.9,391.6 820.3,392.6 820.7,392.6 821.0,393.2 821.4,394.3 821.8,395.1 822.1,397.5 822.5,399.5 822.9,401.1 823.2,400.5 823.6,400.4 824.0,400.3 824.3,400.3 824.7,400.3 825.1,400.2 825.4,400.2 825.8,400.2 826.1,399.5 826.5,399.6 826.9,399.5 827.2,399.4 827.6,399.5 828.0,399.1 828.3,399.0 828.7,399.0 829.1,398.8 829.4,398.2 829.8,398.0 830.2,398.1 830.5,399.3 830.9,400.2 831.3,401.0 831.6,399.5 832.0,395.1 832.4,392.2 832.7,388.6 833.1,385.8 833.4,383.5 833.8,381.7 834.2,379.7 834.5,378.5 834.9,377.2 835.3,376.2 835.6,375.5 836.0,375.0 836.4,374.4 836.7,375.2 837.1,376.3 837.5,377.5 837.8,378.9 838.2,381.5 838.6,385.0 838.9,387.2 839.3,387.2 839.6,387.4 840.0,386.4 840.4,386.4 840.7,386.5 841.1,386.5 841.5,386.5 841.8,386.4 842.2,386.3 842.6,386.2 842.9,386.2 843.3,386.3 843.7,387.0 844.0,386.8 844.4,386.6 844.8,386.4 845.1,386.3 845.5,386.4 845.8,386.4 846.2,386.5 846.6,386.9 846.9,387.2 847.3,389.3 847.7,389.7 848.0,390.1 848.4,390.6 848.8,391.1 849.1,391.4 849.5,391.5 849.9,391.7 850.2,392.0 850.6,392.3 851.0,393.1 851.3,393.1 851.7,393.1 852.1,393.1 852.4,392.8 852.8,389.2 853.1,386.7 853.5,385.3 853.9,384.4 854.2,384.1 854.6,383.8 855.0,383.9 855.3,384.0 855.7,384.2 856.1,384.5 856.4,385.1 856.8,386.4 857.2,387.7 857.5,389.0 857.9,390.5 858.3,392.2 858.6,394.2 859.0,396.9 859.3,400.0 859.7,403.1 860.1,403.3 860.4,403.3 860.8,403.3 861.2,403.3 861.5,403.3 861.9,403.0 862.3,403.2 862.6,403.2 863.0,403.0 863.4,402.7 863.7,402.5 864.1,402.4 864.5,403.7 864.8,403.8 865.2,403.0 865.6,402.9 865.9,402.7 866.3,402.6 866.6,402.6 867.0,402.7 867.4,402.8 867.7,402.8 868.1,402.4 868.5,402.2 868.8,402.1 869.2,401.6 869.6,401.2 869.9,400.8 870.3,400.1 870.7,399.8 871.0,399.1 871.4,398.4 871.8,397.9 872.1,397.7 872.5,397.6 872.8,397.7 873.2,397.7 873.6,397.8 873.9,398.0 874.3,398.3 874.7,397.6 875.0,397.3 875.4,396.8 875.8,396.0 876.1,394.0 876.5,392.0 876.9,390.3 877.2,383.7 877.6,377.6 878.0,372.1 878.3,368.0 878.7,364.8 879.0,361.9 879.4,359.0 879.8,356.8 880.1,355.1 880.5,353.3 880.9,352.6 881.2,352.6 881.6,352.9 882.0,352.8 882.3,353.4 882.7,354.5 883.1,356.1 883.4,356.6 883.8,357.3 884.2,359.7 884.5,358.9 884.9,358.4 885.3,358.4 885.6,356.6 886.0,356.8 886.3,356.7 886.7,356.6 887.1,356.1 887.4,355.5 887.8,355.6 888.2,355.2 888.5,355.2 888.9,354.8 889.3,354.6 889.6,355.0 890.0,355.3 890.4,355.3 890.7,354.9 891.1,354.7 891.5,353.5 891.8,351.4 892.2,349.1 892.5,344.5 892.9,336.9 893.3,332.1 893.6,328.7 894.0,324.8 894.4,322.0 894.7,319.5 895.1,319.9 895.5,319.7 895.8,319.0 896.2,318.2 896.6,318.4 896.9,318.8 897.3,320.0 897.7,320.8 898.0,322.1 898.4,323.7 898.8,324.9 899.1,325.8 899.5,326.9 899.8,327.0 900.2,327.3 900.6,327.7 900.9,327.6 901.3,328.4 901.7,328.9 902.0,329.5 902.4,329.9 902.8,329.3 903.1,327.5 903.5,327.6 903.9,327.0 904.2,326.6 904.6,326.9 905.0,326.7 905.3,322.7 905.7,320.8 906.0,318.5 906.4,316.9 906.8,316.8 907.1,316.8 907.5,316.4 907.9,316.4 908.2,316.4 908.6,316.5 909.0,316.1 909.3,315.8 909.7,315.6 910.1,315.5 910.4,314.7 910.8,313.8 911.2,313.6 911.5,313.7 911.9,314.2 912.3,314.8 912.6,318.5 913.0,321.0 913.3,325.1 913.7,329.9 914.1,329.7 914.4,329.5 914.8,328.9 915.2,328.9 915.5,329.2 915.9,329.0 916.3,327.2 916.6,324.5 917.0,319.6 917.4,314.9 917.7,311.2 918.1,305.9 918.5,302.1 918.8,296.6 919.2,291.3 919.5,286.7 919.9,283.5 920.3,280.2 920.6,277.8 921.0,275.8 921.4,274.5 921.7,274.1 922.1,274.6 922.5,275.8 922.8,277.9 923.2,278.5 923.6,275.8 923.9,264.3 924.3,257.0 924.7,249.4 925.0,243.8 925.4,237.5 925.7,225.6 926.1,220.8 926.5,214.5 926.8,208.3 927.2,202.1 927.6,196.6 927.9,192.1 928.3,185.4 928.7,181.2 929.0,177.5 929.4,177.7 929.8,180.6 930.1,187.5 930.5,192.5 930.9,196.9 931.2,196.6 931.6,198.0 932.0,199.1 932.3,200.2 932.7,200.7 933.0,200.9 933.4,200.6 933.8,199.8 934.1,199.2 934.5,198.1 934.9,197.6 935.2,197.3 935.6,198.0 936.0,199.1 936.3,202.5 936.7,204.6 937.1,205.1 937.4,205.1 937.8,204.9 938.2,204.3 938.5,205.1 938.9,204.8 939.2,204.3 939.6,206.1 940.0,208.8 940.3,205.8 940.7,205.6 941.1,203.9 941.4,203.0 941.8,201.5 942.2,201.9 942.5,202.6 942.9,205.4 943.3,207.1 943.6,206.9 944.0,206.8 944.4,207.7 944.7,208.3 945.1,209.6 945.5,211.6 945.8,216.9 946.2,219.7 946.5,224.1 946.9,226.6 947.3,227.2 947.6,227.4 948.0,228.4 948.4,228.2 948.7,228.4 949.1,228.4 949.5,228.3 949.8,228.4 950.2,228.9 950.6,229.8 950.9,231.5 951.3,234.1 951.7,234.9 952.0,233.1 952.4,231.9 952.7,228.9 953.1,227.5 953.5,216.9 953.8,210.6 954.2,208.5 954.6,208.4 954.9,207.2 955.3,206.9 955.7,206.3 956.0,206.3 956.4,205.1 956.8,206.1 957.1,206.3 957.5,208.3 957.9,208.8 958.2,208.5 958.6,209.6 958.9,212.1 959.3,210.9 959.7,209.1 960.0,207.5 960.4,207.5 960.8,209.9 961.1,212.1 961.5,212.5 961.9,212.6 962.2,212.6 962.6,212.5 963.0,212.1 963.3,212.5 963.7,210.5 964.1,210.5 964.4,210.5 964.8,207.9 965.2,206.3 965.5,205.9 965.9,200.9 966.2,197.1 966.6,197.9 967.0,200.5 967.3,203.7 967.7,204.7 968.1,209.0 968.4,211.9 968.8,216.3 969.2,217.9 969.5,221.2 969.9,226.9 970.3,228.3 970.6,230.4 971.0,230.5 971.4,235.2 971.7,238.6 972.1,240.1 972.4,242.2 972.8,245.3 973.2,245.3 973.5,244.5 973.9,244.2 974.3,241.0 974.6,239.9 975.0,236.7 975.4,234.7 975.7,234.1 976.1,229.2 976.5,226.0 976.8,220.1 977.2,216.4 977.6,215.3 977.9,213.9 978.3,215.3 978.7,214.0 979.0,212.9 979.4,212.3 979.7,213.3 980.1,218.7 980.5,222.3 980.8,222.7 981.2,221.3 981.6,217.8 981.9,210.5 982.3,204.8 982.7,202.8 983.0,203.3 983.4,205.3 983.8,206.3 984.1,209.6 984.5,212.2 984.9,213.4 985.2,215.3 985.6,215.5 985.9,218.9 986.3,224.3 986.7,229.4 987.0,233.4 987.4,237.4 987.8,242.9 988.1,241.3 988.5,237.6 988.9,234.5 989.2,232.9 989.6,233.8 990.0,235.6 990.3,236.2 990.7,236.7 991.1,238.1 991.4,238.2 991.8,237.3 992.2,236.9 992.5,237.2 992.9,237.2 993.2,234.8 993.6,233.5 994.0,232.9 994.3,232.8 994.7,233.1 995.1,233.0 995.4,235.9 995.8,240.7 996.2,244.0 996.5,249.0 996.9,254.0 997.3,252.3 997.6,251.6 998.0,249.0 998.4,244.9 998.7,240.3 999.1,229.1 999.4,226.9 999.8,224.5 1000.2,222.7 1000.5,222.7 1000.9,220.2 1001.3,218.5 1001.6,217.9 1002.0,217.5 1002.4,220.4 1002.7,224.1 1003.1,226.6 1003.5,226.6 1003.8,227.1 1004.2,227.5 1004.6,226.9 1004.9,227.3 1005.3,227.4 1005.6,227.2 1006.0,227.6 1006.4,232.8 1006.7,232.7 1007.1,229.7 1007.5,226.3 1007.8,223.9 1008.2,220.7 1008.6,219.4 1008.9,220.0 1009.3,216.7 1009.7,214.8 1010.0,212.2 1010.4,210.6 1010.8,206.8 1011.1,205.3 1011.5,206.4 1011.9,207.9 1012.2,199.8 1012.6,197.4 1012.9,193.5 1013.3,194.7 1013.7,194.3 1014.0,195.4 1014.4,195.7 1014.8,195.5 1015.1,195.9 1015.5,195.5 1015.9,189.6 1016.2,186.1 1016.6,181.9 1017.0,177.8 1017.3,170.2 1017.7,151.2 1018.1,137.7 1018.4,123.7 1018.8,116.8 1019.1,106.7 1019.5,98.2 1019.9,91.4 1020.2,83.5 1020.6,77.3 1021.0,70.6 1021.3,62.1 1021.7,57.7 1022.1,54.9 1022.4,55.8 1022.8,61.6 1023.2,64.3 1023.5,66.4 1023.5,199.2 1023.2,209.3 1022.8,218.7 1022.4,234.1 1022.1,247.3 1021.7,256.3 1021.3,264.4 1021.0,267.0 1020.6,270.2 1020.2,273.3 1019.9,273.1 1019.5,273.7 1019.1,271.7 1018.8,271.2 1018.4,272.6 1018.1,268.2 1017.7,262.1 1017.3,252.0 1017.0,249.6 1016.6,250.1 1016.2,249.5 1015.9,251.3 1015.5,249.5 1015.1,249.9 1014.8,251.3 1014.4,252.4 1014.0,253.5 1013.7,258.5 1013.3,261.1 1012.9,266.3 1012.6,266.9 1012.2,269.1 1011.9,266.7 1011.5,272.2 1011.1,276.9 1010.8,278.0 1010.4,278.7 1010.0,280.4 1009.7,281.3 1009.3,281.1 1008.9,279.7 1008.6,279.8 1008.2,279.2 1007.8,277.3 1007.5,276.7 1007.1,275.3 1006.7,273.8 1006.4,273.9 1006.0,277.3 1005.6,276.7 1005.3,276.9 1004.9,277.4 1004.6,278.6 1004.2,277.4 1003.8,278.2 1003.5,279.8 1003.1,279.8 1002.7,284.0 1002.4,290.2 1002.0,297.0 1001.6,299.7 1001.3,304.0 1000.9,307.2 1000.5,309.8 1000.2,313.9 999.8,314.0 999.4,314.1 999.1,314.6 998.7,309.1 998.4,306.6 998.0,304.6 997.6,304.2 997.3,303.8 996.9,302.8 996.5,306.0 996.2,309.1 995.8,311.1 995.4,312.8 995.1,312.2 994.7,309.8 994.3,309.2 994.0,306.5 993.6,305.3 993.2,302.0 992.9,297.7 992.5,298.0 992.2,298.6 991.8,297.5 991.4,294.9 991.1,294.8 990.7,294.4 990.3,291.8 990.0,291.5 989.6,295.2 989.2,300.4 988.9,303.1 988.5,302.4 988.1,300.7 987.8,299.8 987.4,302.8 987.0,304.4 986.7,306.3 986.3,306.9 985.9,308.5 985.6,308.2 985.2,306.7 984.9,304.8 984.5,303.2 984.1,302.7 983.8,302.4 983.4,302.2 983.0,302.5 982.7,302.0 982.3,295.9 981.9,285.5 981.6,274.6 981.2,268.6 980.8,266.6 980.5,267.3 980.1,274.1 979.7,283.4 979.4,287.6 979.0,290.6 978.7,294.2 978.3,296.5 977.9,300.1 977.6,302.5 977.2,304.6 976.8,303.7 976.5,301.5 976.1,301.2 975.7,298.2 975.4,297.8 975.0,296.7 974.6,296.0 974.3,295.6 973.9,293.8 973.5,293.7 973.2,294.3 972.8,294.1 972.4,293.4 972.1,293.4 971.7,293.0 971.4,292.9 971.0,293.8 970.6,290.7 970.3,288.9 969.9,286.5 969.5,288.5 969.2,288.3 968.8,286.0 968.4,287.6 968.1,288.2 967.7,289.3 967.3,285.5 967.0,284.6 966.6,282.8 966.2,279.5 965.9,270.8 965.5,262.2 965.2,260.3 964.8,256.7 964.4,252.5 964.1,252.5 963.7,252.4 963.3,248.3 963.0,248.9 962.6,248.2 962.2,249.2 961.9,249.2 961.5,248.9 961.1,249.1 960.8,250.1 960.4,251.5 960.0,253.0 959.7,253.1 959.3,253.7 958.9,254.0 958.6,259.5 958.2,262.5 957.9,263.3 957.5,265.7 957.1,270.1 956.8,271.1 956.4,274.3 956.0,275.1 955.7,276.1 955.3,276.7 954.9,277.3 954.6,278.3 954.2,282.1 953.8,284.9 953.5,283.2 953.1,276.3 952.7,276.0 952.4,274.6 952.0,274.1 951.7,273.0 951.3,272.6 950.9,273.7 950.6,274.8 950.2,274.8 949.8,273.5 949.5,273.5 949.1,272.3 948.7,273.5 948.4,273.4 948.0,273.4 947.6,273.7 947.3,273.5 946.9,270.7 946.5,268.2 946.2,268.4 945.8,269.0 945.5,270.6 945.1,270.1 944.7,269.2 944.4,268.4 944.0,267.5 943.6,267.6 943.3,268.0 942.9,267.6 942.5,267.8 942.2,266.0 941.8,263.7 941.4,258.1 941.1,254.8 940.7,250.4 940.3,248.4 940.0,244.0 939.6,248.0 939.2,252.4 938.9,254.1 938.5,254.3 938.2,259.3 937.8,259.4 937.4,259.4 937.1,260.5 936.7,260.6 936.3,260.4 936.0,260.6 935.6,260.9 935.2,261.2 934.9,261.3 934.5,261.4 934.1,261.3 933.8,261.8 933.4,262.6 933.0,264.9 932.7,264.7 932.3,265.5 932.0,267.4 931.6,269.8 931.2,274.0 930.9,273.5 930.5,282.4 930.1,293.2 929.8,305.8 929.4,316.4 929.0,325.3 928.7,330.8 928.3,335.0 927.9,336.7 927.6,339.4 927.2,341.0 926.8,341.7 926.5,341.8 926.1,341.5 925.7,341.8 925.4,337.9 925.0,337.1 924.7,337.3 924.3,336.0 923.9,334.7 923.6,330.4 923.2,333.1 922.8,338.6 922.5,344.5 922.1,349.5 921.7,353.4 921.4,356.4 921.0,358.8 920.6,360.9 920.3,362.3 919.9,362.6 919.5,363.6 919.2,363.2 918.8,362.2 918.5,361.8 918.1,362.1 917.7,361.1 917.4,361.0 917.0,358.9 916.6,356.4 916.3,355.2 915.9,354.8 915.5,354.7 915.2,354.8 914.8,354.8 914.4,354.7 914.1,354.6 913.7,354.5 913.3,357.8 913.0,360.3 912.6,361.7 912.3,363.2 911.9,363.0 911.5,362.7 911.2,360.9 910.8,359.0 910.4,356.9 910.1,353.7 909.7,352.5 909.3,352.0 909.0,351.6 908.6,350.8 908.2,350.9 907.9,350.8 907.5,350.8 907.1,349.7 906.8,349.6 906.4,349.1 906.0,348.5 905.7,347.4 905.3,346.5 905.0,344.5 904.6,344.8 904.2,346.3 903.9,346.6 903.5,347.1 903.1,347.0 902.8,346.1 902.4,346.7 902.0,347.6 901.7,347.5 901.3,347.2 900.9,347.4 900.6,347.3 900.2,347.2 899.8,347.4 899.5,347.9 899.1,350.6 898.8,353.4 898.4,356.8 898.0,360.9 897.7,364.1 897.3,366.9 896.9,369.9 896.6,372.3 896.2,374.2 895.8,375.7 895.5,377.3 895.1,378.8 894.7,381.5 894.4,381.7 894.0,381.6 893.6,381.0 893.3,380.4 892.9,378.7 892.5,373.9 892.2,372.0 891.8,371.1 891.5,370.1 891.1,369.5 890.7,369.5 890.4,369.5 890.0,370.5 889.6,371.6 889.3,373.0 888.9,374.0 888.5,374.7 888.2,375.8 887.8,376.5 887.4,376.7 887.1,377.3 886.7,378.0 886.3,378.7 886.0,379.8 885.6,380.9 885.3,380.6 884.9,381.0 884.5,381.7 884.2,382.5 883.8,388.0 883.4,391.8 883.1,395.3 882.7,399.8 882.3,403.9 882.0,407.3 881.6,410.0 881.2,413.6 880.9,417.0 880.5,419.7 880.1,421.6 879.8,423.2 879.4,424.0 879.0,424.1 878.7,423.8 878.3,423.2 878.0,421.7 877.6,419.1 877.2,415.6 876.9,411.4 876.5,410.7 876.1,409.6 875.8,408.7 875.4,408.7 875.0,408.8 874.7,409.3 874.3,409.6 873.9,410.2 873.6,410.7 873.2,410.9 872.8,411.0 872.5,411.2 872.1,411.2 871.8,411.2 871.4,411.2 871.0,411.2 870.7,411.0 870.3,411.1 869.9,410.9 869.6,411.0 869.2,411.4 868.8,412.0 868.5,412.4 868.1,412.6 867.7,412.8 867.4,412.8 867.0,413.1 866.6,413.3 866.3,413.6 865.9,413.7 865.6,413.8 865.2,414.0 864.8,413.7 864.5,413.8 864.1,414.8 863.7,414.8 863.4,414.8 863.0,414.8 862.6,414.8 862.3,414.8 861.9,414.7 861.5,414.0 861.2,413.9 860.8,413.8 860.4,413.8 860.1,413.8 859.7,413.6 859.3,415.5 859.0,417.2 858.6,418.4 858.3,418.9 857.9,419.2 857.5,419.2 857.2,419.6 856.8,420.1 856.4,419.8 856.1,419.1 855.7,418.2 855.3,417.1 855.0,415.9 854.6,414.9 854.2,413.2 853.9,411.4 853.5,409.3 853.1,406.5 852.8,402.6 852.4,397.9 852.1,397.3 851.7,397.3 851.3,397.3 851.0,397.3 850.6,397.9 850.2,398.0 849.9,398.2 849.5,398.2 849.1,398.3 848.8,398.3 848.4,398.3 848.0,398.3 847.7,398.2 847.3,398.1 846.9,399.2 846.6,399.2 846.2,399.0 845.8,398.7 845.5,398.4 845.1,397.9 844.8,397.4 844.4,397.0 844.0,396.3 843.7,395.4 843.3,395.6 842.9,395.3 842.6,395.1 842.2,394.7 841.8,394.4 841.5,394.1 841.1,394.0 840.7,394.0 840.4,393.9 840.0,393.8 839.6,393.1 839.3,393.5 838.9,393.8 838.6,396.9 838.2,401.8 837.8,406.1 837.5,409.1 837.1,411.8 836.7,415.0 836.4,418.2 836.0,419.9 835.6,421.4 835.3,422.6 834.9,423.6 834.5,424.0 834.2,424.3 833.8,424.1 833.4,423.6 833.1,423.3 832.7,422.0 832.4,419.9 832.0,418.1 831.6,415.1 831.3,414.1 830.9,414.5 830.5,414.8 830.2,415.3 829.8,415.2 829.4,414.6 829.1,413.3 828.7,413.0 828.3,412.5 828.0,411.9 827.6,411.2 827.2,410.9 826.9,410.7 826.5,410.4 826.1,410.5 825.8,409.2 825.4,409.2 825.1,409.3 824.7,409.4 824.3,409.4 824.0,409.4 823.6,409.4 823.2,409.3 822.9,408.9 822.5,409.8 822.1,410.8 821.8,411.9 821.4,411.7 821.0,412.0 820.7,411.8 820.3,411.3 819.9,411.4 819.6,411.2 819.2,410.7 818.9,410.7 818.5,410.0 818.1,409.4 817.8,408.9 817.4,408.1 817.0,407.1 816.7,406.8 816.3,406.4 815.9,405.9 815.6,406.3 815.2,406.2 814.8,406.8 814.5,407.1 814.1,407.5 813.7,407.8 813.4,407.8 813.0,407.4 812.6,407.4 812.3,407.7 811.9,408.3 811.6,408.9 811.2,409.1 810.8,409.2 810.5,408.7 810.1,408.5 809.7,408.2 809.4,407.3 809.0,407.1 808.6,407.6 808.3,407.6 807.9,408.6 807.5,409.3 807.2,409.2 806.8,408.9 806.4,408.4 806.1,407.7 805.7,406.6 805.4,405.3 805.0,405.4 804.6,405.3 804.3,406.1 803.9,406.3 803.5,410.3 803.2,414.1 802.8,416.5 802.4,419.1 802.1,424.3 801.7,430.6 801.3,436.2 801.0,440.4 800.6,442.7 800.2,444.3 799.9,445.2 799.5,446.1 799.1,446.7 798.8,446.6 798.4,446.3 798.1,445.1 797.7,443.9 797.3,441.8 797.0,440.3 796.6,437.5 796.2,436.8 795.9,436.6 795.5,436.3 795.1,436.4 794.8,436.7 794.4,435.3 794.0,432.9 793.7,430.1 793.3,428.8 792.9,427.9 792.6,428.2 792.2,428.9 791.9,429.5 791.5,430.1 791.1,431.4 790.8,432.4 790.4,432.4 790.0,432.5 789.7,432.7 789.3,432.8 788.9,432.7 788.6,432.7 788.2,432.7 787.8,432.5 787.5,432.0 787.1,431.9 786.7,431.4 786.4,430.8 786.0,430.8 785.7,430.2 785.3,429.9 784.9,429.3 784.6,428.5 784.2,427.7 783.8,426.4 783.5,425.2 783.1,427.9 782.7,430.5 782.4,431.8 782.0,433.0 781.6,434.3 781.3,435.2 780.9,437.2 780.5,440.1 780.2,443.9 779.8,447.7 779.4,450.7 779.1,453.5 778.7,455.9 778.4,457.8 778.0,459.4 777.6,460.7 777.3,461.5 776.9,462.0 776.5,462.0 776.2,461.6 775.8,461.8 775.4,462.0 775.1,461.5 774.7,460.4 774.3,458.8 774.0,456.0 773.6,453.4 773.2,451.6 772.9,450.7 772.5,450.2 772.2,450.1 771.8,450.2 771.4,450.2 771.1,450.1 770.7,450.2 770.3,450.8 770.0,451.7 769.6,452.2 769.2,452.1 768.9,451.9 768.5,451.7 768.1,451.6 767.8,451.3 767.4,451.2 767.0,451.2 766.7,451.1 766.3,451.0 765.9,450.9 765.6,450.8 765.2,450.7 764.9,450.6 764.5,450.6 764.1,451.3 763.8,451.5 763.4,451.6 763.0,451.9 762.7,451.7 762.3,451.4 761.9,451.8 761.6,452.7 761.2,452.9 760.8,452.9 760.5,452.8 760.1,452.8 759.7,452.8 759.4,452.7 759.0,452.7 758.7,452.7 758.3,452.6 757.9,452.6 757.6,453.0 757.2,453.4 756.8,454.9 756.5,459.0 756.1,461.6 755.7,463.5 755.4,464.6 755.0,464.6 754.6,464.2 754.3,463.3 753.9,462.5 753.5,461.9 753.2,461.1 752.8,460.0 752.5,458.6 752.1,457.3 751.7,455.4 751.4,453.1 751.0,451.0 750.6,448.9 750.3,447.5 749.9,442.2 749.5,441.5 749.2,441.9 748.8,442.1 748.4,442.1 748.1,442.2 747.7,442.5 747.3,442.7 747.0,442.8 746.6,443.1 746.2,443.0 745.9,442.5 745.5,442.0 745.2,441.7 744.8,440.5 744.4,440.6 744.1,441.1 743.7,441.1 743.3,441.3 743.0,441.2 742.6,441.0 742.2,440.9 741.9,440.8 741.5,441.0 741.1,441.0 740.8,441.3 740.4,441.5 740.0,441.5 739.7,441.5 739.3,442.0 739.0,442.1 738.6,442.0 738.2,442.0 737.9,442.2 737.5,442.2 737.1,441.9 736.8,441.8 736.4,442.2 736.0,445.1 735.7,446.1 735.3,446.7 734.9,446.9 734.6,446.9 734.2,446.8 733.8,447.1 733.5,446.6 733.1,446.1 732.7,445.8 732.4,445.6 732.0,444.6 731.7,444.0 731.3,443.8 730.9,443.4 730.6,443.7 730.2,443.6 729.8,443.4 729.5,443.5 729.1,443.6 728.7,443.0 728.4,442.7 728.0,442.5 727.6,442.4 727.3,441.8 726.9,442.9 726.5,442.9 726.2,443.9 725.8,444.7 725.5,445.1 725.1,445.2 724.7,445.0 724.4,444.2 724.0,443.0 723.6,441.8 723.3,439.7 722.9,437.7 722.5,435.8 722.2,435.0 721.8,434.2 721.4,433.3 721.1,432.2 720.7,431.0 720.3,428.9 720.0,425.4 719.6,425.3 719.2,425.1 718.9,425.5 718.5,428.2 718.2,429.9 717.8,429.9 717.4,429.8 717.1,429.8 716.7,429.7 716.3,429.7 716.0,429.5 715.6,429.8 715.2,431.7 714.9,432.8 714.5,434.2 714.1,435.7 713.8,437.4 713.4,439.9 713.0,441.1 712.7,441.4 712.3,441.0 712.0,440.5 711.6,440.3 711.2,440.7 710.9,441.3 710.5,441.8 710.1,443.0 709.8,443.9 709.4,444.1 709.0,443.6 708.7,442.1 708.3,441.2 707.9,441.2 707.6,441.1 707.2,441.4 706.8,441.4 706.5,441.4 706.1,440.8 705.8,440.6 705.4,440.6 705.0,440.4 704.7,441.2 704.3,440.8 703.9,440.8 703.6,442.1 703.2,442.6 702.8,442.5 702.5,447.8 702.1,452.5 701.7,456.1 701.4,459.2 701.0,461.2 700.6,463.0 700.3,464.1 699.9,463.9 699.5,463.1 699.2,461.6 698.8,459.0 698.5,456.2 698.1,453.3 697.7,449.6 697.4,442.6 697.0,436.5 696.6,429.0 696.3,423.6 695.9,416.1 695.5,405.7 695.2,402.9 694.8,401.8 694.4,401.6 694.1,402.0 693.7,402.0 693.3,402.6 693.0,402.1 692.6,402.1 692.3,402.5 691.9,402.4 691.5,402.6 691.2,403.0 690.8,402.4 690.4,401.7 690.1,401.6 689.7,405.6 689.3,409.2 689.0,412.1 688.6,414.6 688.2,419.4 687.9,420.1 687.5,421.4 687.1,421.4 686.8,420.1 686.4,419.6 686.0,417.8 685.7,416.5 685.3,413.8 685.0,412.7 684.6,409.5 684.2,404.8 683.9,398.6 683.5,391.0 683.1,385.4 682.8,376.3 682.4,372.1 682.0,369.0 681.7,366.2 681.3,363.7 680.9,363.7 680.6,362.5 680.2,361.7 679.8,361.0 679.5,359.9 679.1,360.1 678.8,360.3 678.4,360.8 678.0,359.4 677.7,362.1 677.3,364.3 676.9,365.2 676.6,365.0 676.2,365.2 675.8,365.2 675.5,365.8 675.1,365.7 674.7,364.0 674.4,362.4 674.0,360.3 673.6,357.3 673.3,355.4 672.9,352.6 672.6,348.9 672.2,350.3 671.8,351.8 671.5,351.9 671.1,353.1 670.7,354.9 670.4,357.0 670.0,360.5 669.6,362.8 669.3,367.1 668.9,369.3 668.5,371.3 668.2,371.5 667.8,369.5 667.4,368.8 667.1,367.8 666.7,368.0 666.3,367.1 666.0,366.1 665.6,365.8 665.3,367.1 664.9,368.9 664.5,369.5 664.2,370.9 663.8,371.3 663.4,371.7 663.1,372.5 662.7,373.7 662.3,374.3 662.0,375.0 661.6,375.1 661.2,374.8 660.9,374.7 660.5,374.4 660.1,375.2 659.8,375.7 659.4,374.9 659.1,374.5 658.7,373.8 658.3,373.7 658.0,373.6 657.6,373.5 657.2,373.9 656.9,372.3 656.5,371.3 656.1,370.4 655.8,368.5 655.4,368.5 655.0,370.0 654.7,368.2 654.3,368.1 653.9,369.8 653.6,371.2 653.2,373.1 652.8,375.2 652.5,376.8 652.1,378.7 651.8,380.6 651.4,382.4 651.0,385.0 650.7,385.2 650.3,383.3 649.9,381.6 649.6,380.4 649.2,380.3 648.8,381.5 648.5,382.5 648.1,382.9 647.7,382.4 647.4,383.2 647.0,383.1 646.6,382.3 646.3,381.5 645.9,380.3 645.6,378.5 645.2,376.2 644.8,373.7 644.5,371.5 644.1,368.3 643.7,361.9 643.4,356.7 643.0,355.6 642.6,355.4 642.3,355.0 641.9,354.9 641.5,357.3 641.2,358.7 640.8,359.5 640.4,358.9 640.1,359.0 639.7,357.0 639.3,353.9 639.0,350.3 638.6,346.2 638.3,341.2 637.9,338.2 637.5,334.4 637.2,333.1 636.8,332.3 636.4,332.6 636.1,332.6 635.7,331.4 635.3,331.4 635.0,330.6 634.6,330.5 634.2,330.4 633.9,330.4 633.5,330.0 633.1,329.8 632.8,332.5 632.4,338.2 632.1,342.6 631.7,344.2 631.3,345.2 631.0,344.7 630.6,341.9 630.2,339.7 629.9,340.2 629.5,338.7 629.1,335.0 628.8,333.4 628.4,331.7 628.0,327.2 627.7,321.6 627.3,318.5 626.9,315.8 626.6,312.2 626.2,308.2 625.9,304.2 625.5,303.4 625.1,304.0 624.8,304.7 624.4,304.8 624.0,306.1 623.7,306.6 623.3,302.6 622.9,296.5 622.6,295.6 622.2,293.0 621.8,290.3 621.5,285.7 621.1,284.0 620.7,283.0 620.4,280.0 620.0,274.5 619.6,274.3 619.3,276.2 618.9,277.6 618.6,277.3 618.2,278.0 617.8,278.4 617.5,278.8 617.1,278.4 616.7,277.5 616.4,274.2 616.0,274.1 615.6,274.1 615.3,274.1 614.9,274.0 614.5,278.1 614.2,281.2 613.8,285.6 613.4,287.8 613.1,292.9 612.7,296.7 612.4,301.3 612.0,304.9 611.6,307.2 611.3,312.5 610.9,320.4 610.5,327.9 610.2,334.7 609.8,339.5 609.4,345.6 609.1,353.9 608.7,361.8 608.3,366.7 608.0,369.5 607.6,370.5 607.2,373.1 606.9,373.1 606.5,373.9 606.1,374.9 605.8,374.9 605.4,372.3 605.1,369.9 604.7,367.1 604.3,361.3 604.0,359.1 603.6,358.3 603.2,357.9 602.9,357.5 602.5,356.8 602.1,356.5 601.8,354.5 601.4,351.7 601.0,349.8 600.7,353.0 600.3,353.3 599.9,351.6 599.6,351.2 599.2,349.3 598.9,343.0 598.5,339.4 598.1,339.5 597.8,339.5 597.4,339.3 597.0,339.2 596.7,339.6 596.3,339.2 595.9,337.3 595.6,336.2 595.2,334.0 594.8,331.0 594.5,329.5 594.1,328.8 593.7,331.5 593.4,332.9 593.0,333.0 592.7,333.1 592.3,333.0 591.9,332.9 591.6,335.4 591.2,336.3 590.8,337.1 590.5,337.4 590.1,339.7 589.7,340.7 589.4,343.7 589.0,348.3 588.6,354.0 588.3,359.9 587.9,363.3 587.5,365.3 587.2,364.9 586.8,365.1 586.4,367.2 586.1,368.9 585.7,370.7 585.4,373.5 585.0,377.5 584.6,381.2 584.3,386.5 583.9,391.8 583.5,395.9 583.2,401.0 582.8,405.0 582.4,406.4 582.1,408.2 581.7,410.4 581.3,412.1 581.0,413.3 580.6,414.0 580.2,413.8 579.9,411.6 579.5,408.0 579.2,405.5 578.8,402.1 578.4,397.6 578.1,395.0 577.7,394.1 577.3,394.8 577.0,395.2 576.6,395.0 576.2,394.6 575.9,392.0 575.5,390.8 575.1,389.8 574.8,388.2 574.4,387.2 574.0,387.4 573.7,386.9 573.3,386.3 572.9,386.8 572.6,388.5 572.2,388.7 571.9,388.9 571.5,388.7 571.1,390.6 570.8,392.2 570.4,394.9 570.0,397.3 569.7,398.0 569.3,397.4 568.9,396.5 568.6,396.2 568.2,396.2 567.8,396.7 567.5,397.3 567.1,395.2 566.7,392.3 566.4,391.7 566.0,390.7 565.7,387.8 565.3,383.2 564.9,382.6 564.6,382.5 564.2,383.3 563.8,383.9 563.5,383.9 563.1,383.3 562.7,382.0 562.4,381.9 562.0,382.4 561.6,382.4 561.3,382.4 560.9,384.0 560.5,381.5 560.2,382.1 559.8,384.2 559.5,387.9 559.1,391.3 558.7,397.3 558.4,400.5 558.0,401.5 557.6,408.5 557.3,410.6 556.9,411.4 556.5,411.3 556.2,410.5 555.8,408.6 555.4,405.4 555.1,400.3 554.7,390.7 554.3,382.4 554.0,372.3 553.6,364.8 553.2,349.2 552.9,340.4 552.5,330.7 552.2,323.5 551.8,320.5 551.4,320.3 551.1,318.8 550.7,316.1 550.3,316.6 550.0,316.7 549.6,316.2 549.2,315.3 548.9,317.1 548.5,319.7 548.1,323.3 547.8,324.7 547.4,327.0 547.0,327.1 546.7,327.2 546.3,327.4 546.0,325.9 545.6,325.0 545.2,324.6 544.9,323.1 544.5,316.2 544.1,309.9 543.8,304.3 543.4,298.0 543.0,294.0 542.7,292.6 542.3,290.3 541.9,289.0 541.6,291.4 541.2,293.2 540.8,294.0 540.5,298.8 540.1,300.0 539.7,301.5 539.4,302.5 539.0,301.9 538.7,301.9 538.3,301.9 537.9,301.6 537.6,301.7 537.2,301.5 536.8,302.0 536.5,302.2 536.1,303.5 535.7,303.4 535.4,303.3 535.0,303.4 534.6,304.1 534.3,306.7 533.9,310.3 533.5,316.3 533.2,319.6 532.8,323.9 532.5,326.3 532.1,330.6 531.7,333.5 531.4,340.4 531.0,344.8 530.6,348.5 530.3,350.2 529.9,350.5 529.5,351.5 529.2,349.3 528.8,346.0 528.4,344.9 528.1,344.1 527.7,343.0 527.3,342.2 527.0,342.7 526.6,343.8 526.2,343.8 525.9,344.8 525.5,345.3 525.2,346.1 524.8,348.5 524.4,349.9 524.1,349.0 523.7,357.2 523.3,364.0 523.0,371.8 522.6,380.5 522.2,387.1 521.9,394.1 521.5,399.5 521.1,404.2 520.8,405.6 520.4,408.4 520.0,410.2 519.7,415.6 519.3,418.1 519.0,419.2 518.6,420.2 518.2,419.7 517.9,416.7 517.5,416.5 517.1,410.3 516.8,401.1 516.4,399.9 516.0,397.9 515.7,396.8 515.3,396.8 514.9,398.1 514.6,398.7 514.2,398.5 513.8,398.0 513.5,398.7 513.1,400.7 512.8,402.0 512.4,399.1 512.0,397.3 511.7,396.1 511.3,396.4 510.9,395.7 510.6,396.5 510.2,398.4 509.8,403.9 509.5,408.8 509.1,414.8 508.7,420.3 508.4,425.9 508.0,430.5 507.6,435.2 507.3,440.6 506.9,446.2 506.5,450.3 506.2,453.6 505.8,453.3 505.5,450.4 505.1,447.1 504.7,444.9 504.4,445.4 504.0,448.4 503.6,449.5 503.3,450.0 502.9,452.0 502.5,454.2 502.2,455.2 501.8,456.2 501.4,456.8 501.1,456.7 500.7,455.6 500.3,455.4 500.0,455.8 499.6,455.7 499.3,455.0 498.9,455.0 498.5,453.7 498.2,451.9 497.8,450.4 497.4,448.6 497.1,448.2 496.7,448.1 496.3,448.1 496.0,448.1 495.6,448.2 495.2,448.0 494.9,447.8 494.5,448.2 494.1,448.6 493.8,449.0 493.4,450.3 493.0,452.4 492.7,454.1 492.3,454.9 492.0,455.7 491.6,457.0 491.2,458.0 490.9,459.4 490.5,460.4 490.1,462.0 489.8,462.7 489.4,463.0 489.0,464.1 488.7,465.4 488.3,466.9 487.9,467.4 487.6,467.4 487.2,467.9 486.8,468.1 486.5,468.2 486.1,468.3 485.8,469.2 485.4,469.9 485.0,470.0 484.7,470.1 484.3,470.3 483.9,470.6 483.6,471.7 483.2,472.6 482.8,473.8 482.5,474.2 482.1,474.1 481.7,474.8 481.4,475.4 481.0,476.0 480.6,476.3 480.3,476.6 479.9,476.8 479.6,477.2 479.2,477.7 478.8,477.8 478.5,478.3 478.1,478.4 477.7,478.3 477.4,478.2 477.0,477.6 476.6,476.8 476.3,476.7 475.9,476.6 475.5,476.7 475.2,476.7 474.8,476.8 474.4,476.7 474.1,476.6 473.7,476.9 473.3,476.6 473.0,476.4 472.6,476.1 472.3,476.1 471.9,476.1 471.5,476.1 471.2,476.1 470.8,476.1 470.4,476.1 470.1,476.3 469.7,476.4 469.3,476.6 469.0,476.8 468.6,477.1 468.2,477.5 467.9,477.6 467.5,477.7 467.1,478.0 466.8,478.0 466.4,478.0 466.1,478.4 465.7,479.3 465.3,479.7 465.0,480.0 464.6,480.1 464.2,480.3 463.9,480.3 463.5,480.3 463.1,480.3 462.8,480.1 462.4,480.0 462.0,479.7 461.7,479.3 461.3,478.8 460.9,478.0 460.6,477.4 460.2,476.7 459.8,475.5 459.5,474.5 459.1,472.5 458.8,472.3 458.4,472.3 458.0,472.5 457.7,472.5 457.3,472.4 456.9,472.3 456.6,472.1 456.2,471.9 455.8,471.6 455.5,472.1 455.1,472.5 454.7,473.0 454.4,472.9 454.0,473.1 453.6,473.5 453.3,473.8 452.9,474.1 452.6,474.3 452.2,476.2 451.8,477.9 451.5,479.5 451.1,480.7 450.7,481.8 450.4,482.8 450.0,483.9 449.6,484.7 449.3,485.4 448.9,485.9 448.5,486.2 448.2,486.6 447.8,486.8 447.4,487.0 447.1,486.4 446.7,486.0 446.3,485.6 446.0,484.9 445.6,484.1 445.3,482.1 444.9,481.7 444.5,481.7 444.2,481.7 443.8,481.6 443.4,481.5 443.1,481.4 442.7,481.4 442.3,481.5 442.0,481.5 441.6,481.6 441.2,481.6 440.9,481.6 440.5,481.6 440.1,481.9 439.8,482.2 439.4,482.2 439.1,482.2 438.7,482.2 438.3,482.2 438.0,482.2 437.6,482.2 437.2,482.1 436.9,482.0 436.5,481.9 436.1,481.8 435.8,481.7 435.4,481.9 435.0,481.9 434.7,481.8 434.3,481.4 433.9,481.2 433.6,481.1 433.2,481.0 432.9,481.0 432.5,481.0 432.1,481.2 431.8,481.1 431.4,480.9 431.0,480.9 430.7,480.8 430.3,481.1 429.9,481.9 429.6,482.3 429.2,482.9 428.8,483.1 428.5,483.2 428.1,483.3 427.7,483.3 427.4,483.3 427.0,483.3 426.6,483.3 426.3,483.4 425.9,483.3 425.6,483.4 425.2,483.4 424.8,483.4 424.5,484.0 424.1,484.2 423.7,484.3 423.4,484.4 423.0,484.5 422.6,484.3 422.3,484.3 421.9,484.2 421.5,484.3 421.2,484.4 420.8,484.6 420.4,484.9 420.1,485.1 419.7,486.4 419.4,487.4 419.0,488.5 418.6,489.5 418.3,490.2 417.9,491.0 417.5,492.1 417.2,493.3 416.8,494.4 416.4,494.7 416.1,494.8 415.7,494.4 415.3,494.6 415.0,495.1 414.6,495.3 414.2,495.3 413.9,494.9 413.5,494.5 413.1,494.1 412.8,492.7 412.4,492.5 412.1,492.3 411.7,492.1 411.3,492.1 411.0,492.0 410.6,492.0 410.2,492.1 409.9,492.3 409.5,492.7 409.1,493.1 408.8,494.1 408.4,494.5 408.0,494.6 407.7,494.6 407.3,494.6 406.9,494.6 406.6,494.8 406.2,495.5 405.9,495.8 405.5,495.9 405.1,495.8 404.8,496.9 404.4,497.7 404.0,498.8 403.7,499.3 403.3,499.9 402.9,500.0 402.6,500.7 402.2,501.8 401.8,502.6 401.5,503.2 401.1,503.7 400.7,504.8 400.4,505.9 400.0,506.6 399.7,507.0 399.3,507.1 398.9,506.9 398.6,506.7 398.2,506.3 397.8,505.9 397.5,504.5 397.1,503.0 396.7,501.0 396.4,499.1 396.0,496.6 395.6,493.9 395.3,488.4 394.9,487.8 394.5,487.1 394.2,486.5 393.8,485.7 393.4,485.7 393.1,485.7 392.7,486.0 392.4,485.8 392.0,485.6 391.6,485.3 391.3,484.5 390.9,483.7 390.5,482.7 390.2,481.8 389.8,480.6 389.4,480.3 389.1,480.8 388.7,481.3 388.3,481.5 388.0,481.7 387.6,481.9 387.2,482.0 386.9,482.2 386.5,482.4 386.2,483.0 385.8,483.9 385.4,484.8 385.1,485.4 384.7,485.9 384.3,485.9 384.0,486.1 383.6,486.0 383.2,486.0 382.9,485.8 382.5,485.6 382.1,485.6 381.8,485.6 381.4,485.6 381.0,486.1 380.7,486.4 380.3,486.8 379.9,486.7 379.6,487.1 379.2,487.1 378.9,487.2 378.5,487.7 378.1,488.6 377.8,489.3 377.4,490.0 377.0,491.1 376.7,491.7 376.3,492.2 375.9,492.5 375.6,492.5 375.2,492.4 374.8,492.4 374.5,492.2 374.1,491.8 373.7,491.8 373.4,491.7 373.0,491.6 372.7,491.4 372.3,491.4 371.9,491.1 371.6,490.3 371.2,490.8 370.8,491.0 370.5,491.0 370.1,491.1 369.7,491.0 369.4,491.0 369.0,491.0 368.6,491.0 368.3,491.0 367.9,491.1 367.5,491.1 367.2,491.2 366.8,491.2 366.4,491.2 366.1,491.2 365.7,491.2 365.4,491.1 365.0,491.2 364.6,491.3 364.3,491.3 363.9,490.5 363.5,490.2 363.2,490.2 362.8,490.3 362.4,490.3 362.1,490.2 361.7,490.2 361.3,490.5 361.0,490.8 360.6,491.2 360.2,491.7 359.9,492.1 359.5,492.3 359.2,492.4 358.8,492.5 358.4,492.6 358.1,492.5 357.7,492.6 357.3,492.6 357.0,492.3 356.6,492.2 356.2,491.8 355.9,491.0 355.5,489.9 355.1,488.9 354.8,487.6 354.4,486.5 354.0,486.0 353.7,485.3 353.3,484.8 353.0,484.5 352.6,484.2 352.2,483.6 351.9,483.6 351.5,486.0 351.1,487.5 350.8,488.1 350.4,488.5 350.0,488.8 349.7,489.3 349.3,489.8 348.9,490.1 348.6,490.4 348.2,490.5 347.8,490.5 347.5,490.5 347.1,490.4 346.7,490.4 346.4,490.2 346.0,489.8 345.7,489.6 345.3,488.9 344.9,488.3 344.6,488.2 344.2,487.5 343.8,486.7 343.5,486.6 343.1,486.6 342.7,486.6 342.4,486.5 342.0,486.3 341.6,486.3 341.3,486.2 340.9,486.2 340.5,486.3 340.2,488.0 339.8,489.3 339.5,490.1 339.1,490.8 338.7,491.4 338.4,491.6 338.0,491.6 337.6,491.3 337.3,491.1 336.9,490.8 336.5,490.4 336.2,490.0 335.8,489.4 335.4,488.6 335.1,487.5 334.7,486.3 334.3,484.9 334.0,482.9 333.6,481.0 333.2,478.2 332.9,477.6 332.5,477.4 332.2,477.8 331.8,478.5 331.4,479.1 331.1,479.7 330.7,480.0 330.3,480.0 330.0,480.0 329.6,480.1 329.2,480.1 328.9,480.1 328.5,480.1 328.1,480.1 327.8,480.2 327.4,480.5 327.0,480.4 326.7,480.5 326.3,480.4 326.0,480.4 325.6,480.4 325.2,480.6 324.9,481.0 324.5,481.2 324.1,480.9 323.8,480.8 323.4,480.8 323.0,481.0 322.7,480.9 322.3,480.7 321.9,480.3 321.6,480.1 321.2,479.8 320.8,479.6 320.5,480.0 320.1,481.0 319.8,481.8 319.4,482.4 319.0,483.0 318.7,483.3 318.3,483.3 317.9,483.8 317.6,484.1 317.2,484.1 316.8,484.1 316.5,483.7 316.1,483.2 315.7,482.5 315.4,482.4 315.0,481.8 314.6,481.7 314.3,481.6 313.9,482.2 313.5,483.1 313.2,483.3 312.8,483.7 312.5,484.2 312.1,484.1 311.7,483.4 311.4,482.9 311.0,482.4 310.6,481.8 310.3,481.2 309.9,481.0 309.5,481.0 309.2,480.9 308.8,480.8 308.4,480.8 308.1,479.6 307.7,478.4 307.3,478.1 307.0,477.3 306.6,477.7 306.3,478.1 305.9,479.1 305.5,480.6 305.2,482.0 304.8,483.4 304.4,484.5 304.1,485.8 303.7,487.1 303.3,488.4 303.0,489.8 302.6,491.1 302.2,492.6 301.9,493.8 301.5,494.8 301.1,494.9 300.8,495.4 300.4,493.9 300.0,493.2 299.7,492.9 299.3,492.1 299.0,490.9 298.6,490.0 298.2,489.6 297.9,489.4 297.5,489.2 297.1,488.8 296.8,488.7 296.4,488.6 296.0,488.6 295.7,488.7 295.3,488.8 294.9,489.1 294.6,489.1 294.2,488.9 293.8,488.8 293.5,489.4 293.1,489.9 292.8,489.8 292.4,489.6 292.0,489.7 291.7,489.7 291.3,490.6 290.9,491.3 290.6,492.8 290.2,494.2 289.8,495.5 289.5,496.6 289.1,497.6 288.7,498.6 288.4,499.4 288.0,500.2 287.6,501.2 287.3,501.9 286.9,502.6 286.5,502.9 286.2,503.6 285.8,504.1 285.5,504.1 285.1,503.5 284.7,502.6 284.4,501.3 284.0,500.8 283.6,499.7 283.3,499.3 282.9,499.1 282.5,498.9 282.2,498.9 281.8,498.9 281.4,498.9 281.1,498.6 280.7,498.4 280.3,498.5 280.0,498.7 279.6,498.7 279.3,498.7 278.9,498.7 278.5,498.7 278.2,498.8 277.8,498.9 277.4,499.1 277.1,499.0 276.7,499.2 276.3,500.7 276.0,501.7 275.6,502.6 275.2,503.3 274.9,503.9 274.5,504.4 274.1,504.9 273.8,505.2 273.4,505.6 273.1,505.8 272.7,506.0 272.3,506.0 272.0,506.0 271.6,505.9 271.2,505.7 270.9,505.5 270.5,505.2 270.1,504.9 269.8,504.3 269.4,503.0 269.0,503.1 268.7,503.1 268.3,503.1 267.9,503.2 267.6,503.3 267.2,503.4 266.8,503.5 266.5,503.6 266.1,503.6 265.8,503.8 265.4,503.9 265.0,503.9 264.7,504.0 264.3,504.0 263.9,504.1 263.6,504.3 263.2,504.2 262.8,504.4 262.5,504.4 262.1,504.4 261.7,504.5 261.4,504.5 261.0,504.5 260.6,504.5 260.3,504.5 259.9,504.5 259.6,504.5 259.2,504.5 258.8,504.5 258.5,504.5 258.1,504.5 257.7,504.5 257.4,504.6 257.0,504.6 256.6,504.7 256.3,504.7 255.9,504.8 255.5,504.8 255.2,504.9 254.8,504.9 254.4,505.0 254.1,505.1 253.7,505.2 253.3,505.4 253.0,505.4 252.6,505.4 252.3,505.4 251.9,505.4 251.5,505.4 251.2,505.4 250.8,505.2 250.4,505.1 250.1,505.1 249.7,505.1 249.3,505.1 249.0,505.0 248.6,505.0 248.2,505.0 247.9,505.0 247.5,505.0 247.1,505.0 246.8,505.1 246.4,505.1 246.1,505.3 245.7,505.6 245.3,505.9 245.0,506.0 244.6,506.1 244.2,506.1 243.9,506.0 243.5,506.0 243.1,505.9 242.8,505.8 242.4,505.6 242.0,505.5 241.7,505.3 241.3,505.2 240.9,505.1 240.6,504.8 240.2,504.5 239.9,504.1 239.5,503.7 239.1,503.5 238.8,503.6 238.4,503.9 238.0,504.3 237.7,504.7 237.3,505.5 236.9,506.2 236.6,506.4 236.2,506.6 235.8,506.7 235.5,506.7 235.1,506.8 234.7,506.8 234.4,506.8 234.0,506.9 233.6,506.8 233.3,506.7 232.9,506.5 232.6,506.4 232.2,506.2 231.8,506.3 231.5,506.4 231.1,506.8 230.7,507.1 230.4,507.1 230.0,506.8 229.6,506.3 229.3,506.1 228.9,506.0 228.5,506.0 228.2,506.1 227.8,506.5 227.4,506.9 227.1,507.2 226.7,507.0 226.4,507.2 226.0,507.4 225.6,508.1 225.3,508.8 224.9,509.4 224.5,509.5 224.2,509.1 223.8,508.9 223.4,508.6 223.1,507.9 222.7,507.0 222.3,505.7 222.0,504.4 221.6,503.0 221.2,501.7 220.9,500.3 220.5,499.1 220.1,498.1 219.8,497.1 219.4,495.6 219.1,494.9 218.7,494.0 218.3,494.0 218.0,494.0 217.6,493.3 217.2,493.1 216.9,493.0 216.5,493.0 216.1,493.0 215.8,493.0 215.4,492.9 215.0,492.9 214.7,492.9 214.3,492.9 213.9,493.0 213.6,493.2 213.2,493.2 212.9,493.2 212.5,493.2 212.1,493.3 211.8,493.3 211.4,493.3 211.0,493.2 210.7,493.3 210.3,493.3 209.9,493.2 209.6,493.2 209.2,493.2 208.8,493.3 208.5,493.3 208.1,493.3 207.7,493.3 207.4,493.1 207.0,492.9 206.6,492.6 206.3,492.0 205.9,492.0 205.6,491.9 205.2,491.8 204.8,491.8 204.5,491.8 204.1,491.8 203.7,492.0 203.4,492.1 203.0,492.2 202.6,492.4 202.3,492.6 201.9,493.0 201.5,493.3 201.2,493.3 200.8,493.3 200.4,493.6 200.1,494.1 199.7,494.2 199.4,494.3 199.0,494.4 198.6,494.4 198.3,494.4 197.9,494.4 197.5,494.4 197.2,494.3 196.8,494.2 196.4,494.1 196.1,494.1 195.7,494.0 195.3,494.0 195.0,493.9 194.6,493.9 194.2,493.8 193.9,494.0 193.5,494.3 193.2,494.4 192.8,494.3 192.4,494.5 192.1,494.4 191.7,494.3 191.3,494.2 191.0,494.3 190.6,494.4 190.2,494.2 189.9,494.2 189.5,494.2 189.1,494.6 188.8,494.8 188.4,495.2 188.0,495.5 187.7,495.7 187.3,496.1 186.9,496.6 186.6,497.3 186.2,497.5 185.9,498.0 185.5,498.2 185.1,498.2 184.8,497.8 184.4,497.3 184.0,496.5 183.7,495.5 183.3,494.3 182.9,493.3 182.6,492.9 182.2,492.8 181.8,493.1 181.5,493.4 181.1,494.1 180.7,494.8 180.4,495.2 180.0,496.0 179.7,496.8 179.3,497.3 178.9,497.8 178.6,498.1 178.2,498.0 177.8,497.4 177.5,497.0 177.1,496.3 176.7,495.6 176.4,495.3 176.0,495.1 175.6,494.8 175.3,494.8 174.9,494.8 174.5,495.0 174.2,495.0 173.8,495.1 173.4,495.2 173.1,495.2 172.7,495.2 172.4,495.3 172.0,495.3 171.6,495.4 171.3,495.3 170.9,495.4 170.5,495.3 170.2,495.3 169.8,495.3 169.4,495.4 169.1,495.6 168.7,495.5 168.3,495.2 168.0,495.5 167.6,495.3 167.2,495.5 166.9,496.0 166.5,495.8 166.2,495.5 165.8,495.5 165.4,495.2 165.1,495.1 164.7,494.9 164.3,494.8 164.0,494.4 163.6,493.9 163.2,493.3 162.9,493.1 162.5,492.3 162.1,492.0 161.8,491.7 161.4,491.5 161.0,491.3 160.7,491.5 160.3,491.2 160.0,491.5 159.6,491.7 159.2,491.7 158.9,491.8 158.5,491.8 158.1,491.8 157.8,491.9 157.4,491.4 157.0,491.2 156.7,491.1 156.3,490.8 155.9,491.0 155.6,490.4 155.2,489.5 154.8,489.1 154.5,488.2 154.1,487.8 153.7,487.6 153.4,487.1 153.0,486.4 152.7,486.1 152.3,485.6 151.9,485.2 151.6,484.3 151.2,483.6 150.8,483.0 150.5,483.2 150.1,483.4 149.7,484.1 149.4,485.2 149.0,486.3 148.6,486.9 148.3,487.3 147.9,487.8 147.5,487.9 147.2,488.3 146.8,489.4 146.5,491.2 146.1,492.7 145.7,493.9 145.4,494.6 145.0,495.3 144.6,495.9 144.3,495.9 143.9,496.0 143.5,495.7 143.2,495.5 142.8,495.3 142.4,495.0 142.1,494.8 141.7,494.8 141.3,494.8 141.0,494.5 140.6,494.5 140.2,494.8 139.9,494.9 139.5,495.2 139.2,495.4 138.8,495.2 138.4,494.7 138.1,494.3 137.7,493.7 137.3,493.0 137.0,492.2 136.6,491.6 136.2,491.4 135.9,490.6 135.5,489.8 135.1,489.0 134.8,488.7 134.4,488.7 134.0,489.5 133.7,490.2 133.3,490.8 133.0,492.0 132.6,492.4 132.2,492.8 131.9,493.0 131.5,492.7 131.1,491.9 130.8,491.1 130.4,489.9 130.0,488.5 129.7,487.0 129.3,485.9 128.9,485.4 128.6,484.6 128.2,483.9 127.8,482.7 127.5,482.1 127.1,481.6 126.7,481.7 126.4,481.9 126.0,482.4 125.7,483.3 125.3,483.9 124.9,484.4 124.6,485.3 124.2,486.9 123.8,488.1 123.5,489.6 123.1,491.8 122.7,493.0 122.4,493.3 122.0,493.4 121.6,493.0 121.3,492.3 120.9,492.2 120.5,492.7 120.2,493.7 119.8,495.1 119.5,495.7 119.1,495.9 118.7,496.3 118.4,496.3 118.0,496.0 117.6,496.0 117.3,495.8 116.9,494.7 116.5,493.2 116.2,491.2 115.8,487.4 115.4,485.0 115.1,483.5 114.7,481.2 114.3,480.2 114.0,480.8 113.6,480.6 113.3,480.3 112.9,480.6 112.5,481.9 112.2,483.3 111.8,482.6 111.4,481.6 111.1,480.4 110.7,478.3 110.3,477.5 110.0,477.0 109.6,476.0 109.2,474.1 108.9,471.2 108.5,468.5 108.1,468.1" fill="#808080" fill-opacity="0.33" stroke="none"/>
<polyline points="108.1,461.1 108.5,460.9 108.9,470.8 109.2,472.1 109.6,470.9 110.0,467.1 110.3,464.6 110.7,467.8 111.1,473.2 111.4,470.0 111.8,470.4 112.2,471.8 112.5,470.2 112.9,467.1 113.3,469.5 113.6,472.4 114.0,474.7 114.3,476.2 114.7,478.4 115.1,482.1 115.4,482.8 115.8,487.2 116.2,490.0 116.5,486.6 116.9,485.1 117.3,485.6 117.6,484.4 118.0,482.3 118.4,481.4 118.7,481.7 119.1,478.7 119.5,476.9 119.8,476.4 120.2,477.3 120.5,476.1 120.9,475.6 121.3,474.4 121.6,471.2 122.0,473.3 122.4,477.1 122.7,477.6 123.1,477.6 123.5,478.5 123.8,477.6 124.2,477.2 124.6,475.4 124.9,470.8 125.3,470.4 125.7,471.2 126.0,470.7 126.4,473.6 126.7,474.1 127.1,475.6 127.5,479.7 127.8,479.6 128.2,481.9 128.6,480.3 128.9,481.7 129.3,480.6 129.7,483.8 130.0,485.3 130.4,485.9 130.8,486.0 131.1,484.5 131.5,484.6 131.9,481.8 132.2,482.4 132.6,483.6 133.0,484.7 133.3,483.0 133.7,484.9 134.0,486.1 134.4,485.3 134.8,485.7 135.1,487.6 135.5,488.4 135.9,489.9 136.2,490.0 136.6,489.4 137.0,489.8 137.3,490.6 137.7,490.6 138.1,490.7 138.4,490.1 138.8,491.0 139.2,491.9 139.5,490.5 139.9,488.3 140.2,485.9 140.6,484.1 141.0,485.0 141.3,484.2 141.7,485.3 142.1,485.3 142.4,484.8 142.8,483.3 143.2,481.9 143.5,481.6 143.9,480.3 144.3,480.8 144.6,478.5 145.0,481.0 145.4,480.5 145.7,479.8 146.1,479.7 146.5,478.2 146.8,481.3 147.2,479.2 147.5,477.7 147.9,477.2 148.3,479.1 148.6,477.7 149.0,476.2 149.4,480.3 149.7,479.5 150.1,478.9 150.5,481.3 150.8,480.8 151.2,482.9 151.6,483.6 151.9,484.1 152.3,483.5 152.7,483.7 153.0,482.7 153.4,484.6 153.7,484.4 154.1,483.4 154.5,484.3 154.8,487.1 155.2,486.6 155.6,488.1 155.9,488.3 156.3,488.1 156.7,487.1 157.0,487.7 157.4,489.7 157.8,489.7 158.1,487.7 158.5,487.8 158.9,486.3 159.2,486.6 159.6,487.4 160.0,485.7 160.3,486.9 160.7,489.6 161.0,487.4 161.4,491.1 161.8,490.7 162.1,490.1 162.5,490.6 162.9,492.3 163.2,490.5 163.6,492.1 164.0,492.6 164.3,492.0 164.7,490.9 165.1,491.1 165.4,490.8 165.8,492.1 166.2,492.4 166.5,493.5 166.9,493.4 167.2,492.9 167.6,493.6 168.0,493.5 168.3,494.5 168.7,494.1 169.1,493.2 169.4,492.7 169.8,491.4 170.2,491.6 170.5,490.3 170.9,491.6 171.3,492.0 171.6,492.8 172.0,492.2 172.4,491.5 172.7,492.4 173.1,492.0 173.4,491.2 173.8,491.6 174.2,491.9 174.5,490.7 174.9,491.0 175.3,489.9 175.6,488.2 176.0,486.8 176.4,486.9 176.7,486.3 177.1,484.3 177.5,483.2 177.8,483.8 178.2,481.4 178.6,482.4 178.9,482.3 179.3,484.6 179.7,483.5 180.0,485.7 180.4,486.5 180.7,488.5 181.1,488.4 181.5,488.9 181.8,489.5 182.2,489.6 182.6,490.4 182.9,490.3 183.3,491.9 183.7,493.3 184.0,493.3 184.4,492.8 184.8,492.4 185.1,492.3 185.5,492.9 185.9,492.5 186.2,492.1 186.6,492.4 186.9,492.7 187.3,492.5 187.7,492.7 188.0,492.2 188.4,492.0 188.8,491.3 189.1,491.2 189.5,491.3 189.9,490.7 190.2,490.2 190.6,490.3 191.0,490.1 191.3,490.3 191.7,489.2 192.1,489.1 192.4,489.3 192.8,489.1 193.2,488.3 193.5,489.0 193.9,490.4 194.2,491.4 194.6,493.0 195.0,493.0 195.3,492.3 195.7,492.0 196.1,492.0 196.4,491.5 196.8,491.9 197.2,491.8 197.5,491.2 197.9,490.7 198.3,491.1 198.6,490.6 199.0,491.0 199.4,490.8 199.7,490.9 200.1,491.4 200.4,491.0 200.8,490.6 201.2,490.9 201.5,490.9 201.9,490.5 202.3,491.1 202.6,491.4 203.0,491.3 203.4,491.5 203.7,490.8 204.1,491.0 204.5,491.4 204.8,491.5 205.2,490.6 205.6,491.4 205.9,491.7 206.3,491.6 206.6,493.0 207.0,492.7 207.4,492.6 207.7,492.4 208.1,491.5 208.5,491.6 208.8,492.1 209.2,491.5 209.6,491.4 209.9,491.8 210.3,491.9 210.7,491.8 211.0,492.1 211.4,492.4 211.8,492.0 212.1,492.4 212.5,492.0 212.9,492.4 213.2,492.2 213.6,492.1 213.9,491.6 214.3,492.3 214.7,492.6 215.0,492.5 215.4,492.6 215.8,492.5 216.1,492.0 216.5,491.6 216.9,491.1 217.2,491.5 217.6,490.5 218.0,489.1 218.3,490.5 218.7,492.5 219.1,495.2 219.4,495.5 219.8,497.7 220.1,497.3 220.5,497.9 220.9,498.8 221.2,500.6 221.6,500.7 222.0,501.9 222.3,502.2 222.7,503.0 223.1,502.5 223.4,501.8 223.8,501.2 224.2,501.4 224.5,503.0 224.9,502.4 225.3,503.8 225.6,503.7 226.0,503.3 226.4,503.9 226.7,504.6 227.1,505.0 227.4,503.9 227.8,504.2 228.2,504.0 228.5,503.9 228.9,504.3 229.3,504.6 229.6,505.0 230.0,506.1 230.4,505.8 230.7,504.8 231.1,504.4 231.5,503.8 231.8,503.6 232.2,503.1 232.6,502.3 232.9,502.6 233.3,502.0 233.6,502.2 234.0,501.9 234.4,502.3 234.7,502.7 235.1,502.9 235.5,502.8 235.8,502.9 236.2,502.7 236.6,503.0 236.9,502.6 237.3,502.5 237.7,502.7 238.0,502.1 238.4,502.2 238.8,502.6 239.1,503.4 239.5,503.7 239.9,504.1 240.2,504.5 240.6,504.7 240.9,504.5 241.3,504.2 241.7,504.3 242.0,504.4 242.4,504.2 242.8,504.7 243.1,504.5 243.5,504.5 243.9,504.3 244.2,504.5 244.6,504.6 245.0,504.6 245.3,504.8 245.7,504.7 246.1,504.8 246.4,504.8 246.8,504.8 247.1,504.4 247.5,504.5 247.9,504.3 248.2,504.2 248.6,504.4 249.0,504.1 249.3,504.0 249.7,504.0 250.1,504.0 250.4,504.0 250.8,503.7 251.2,503.2 251.5,503.6 251.9,503.4 252.3,503.4 252.6,503.1 253.0,503.0 253.3,502.8 253.7,503.4 254.1,503.0 254.4,502.9 254.8,502.6 255.2,502.5 255.5,502.4 255.9,501.9 256.3,503.3 256.6,504.1 257.0,503.8 257.4,503.6 257.7,503.5 258.1,503.5 258.5,503.7 258.8,503.6 259.2,503.2 259.6,503.0 259.9,503.1 260.3,503.2 260.6,503.1 261.0,503.0 261.4,502.8 261.7,502.8 262.1,502.9 262.5,502.8 262.8,502.9 263.2,502.6 263.6,502.3 263.9,502.7 264.3,502.4 264.7,502.6 265.0,502.2 265.4,502.1 265.8,502.3 266.1,502.1 266.5,502.3 266.8,502.4 267.2,502.4 267.6,502.3 267.9,502.3 268.3,502.2 268.7,502.4 269.0,502.1 269.4,501.9 269.8,498.7 270.1,498.4 270.5,498.7 270.9,498.1 271.2,498.0 271.6,497.5 272.0,497.0 272.3,497.6 272.7,497.0 273.1,498.2 273.4,498.0 273.8,498.0 274.1,497.7 274.5,498.1 274.9,497.5 275.2,497.3 275.6,497.1 276.0,497.2 276.3,496.9 276.7,497.1 277.1,496.7 277.4,496.1 277.8,496.6 278.2,497.5 278.5,497.3 278.9,497.5 279.3,497.6 279.6,497.5 280.0,497.2 280.3,496.9 280.7,496.6 281.1,495.4 281.4,494.8 281.8,495.1 282.2,495.2 282.5,495.0 282.9,494.3 283.3,493.4 283.6,492.6 284.0,489.4 284.4,489.9 284.7,486.4 285.1,485.6 285.5,484.7 285.8,486.1 286.2,488.3 286.5,488.5 286.9,484.7 287.3,485.6 287.6,485.8 288.0,487.1 288.4,486.1 288.7,485.6 289.1,485.4 289.5,482.7 289.8,482.1 290.2,482.5 290.6,482.8 290.9,484.4 291.3,483.2 291.7,483.2 292.0,482.4 292.4,484.7 292.8,486.9 293.1,486.3 293.5,486.3 293.8,485.6 294.2,485.9 294.6,487.1 294.9,485.5 295.3,485.8 295.7,484.6 296.0,484.6 296.4,482.7 296.8,482.0 297.1,481.4 297.5,479.9 297.9,481.0 298.2,480.2 298.6,479.1 299.0,476.5 299.3,474.1 299.7,473.5 300.0,472.8 300.4,469.6 300.8,464.3 301.1,472.1 301.5,466.9 301.9,468.6 302.2,473.6 302.6,474.6 303.0,473.7 303.3,468.8 303.7,471.9 304.1,472.9 304.4,471.8 304.8,471.0 305.2,467.4 305.5,466.2 305.9,468.2 306.3,471.4 306.6,469.5 307.0,471.2 307.3,476.0 307.7,473.4 308.1,479.3 308.4,478.2 308.8,474.2 309.2,474.8 309.5,473.9 309.9,474.6 310.3,475.7 310.6,477.5 311.0,477.7 311.4,477.1 311.7,477.5 312.1,479.2 312.5,479.1 312.8,479.1 313.2,478.8 313.5,476.7 313.9,475.4 314.3,474.9 314.6,473.6 315.0,473.1 315.4,469.4 315.7,470.9 316.1,468.7 316.5,468.8 316.8,469.2 317.2,471.6 317.6,470.6 317.9,471.2 318.3,473.3 318.7,476.9 319.0,475.8 319.4,475.6 319.8,476.1 320.1,475.7 320.5,473.2 320.8,473.9 321.2,476.5 321.6,476.5 321.9,475.4 322.3,476.5 322.7,476.5 323.0,475.5 323.4,476.3 323.8,478.3 324.1,479.2 324.5,478.8 324.9,478.7 325.2,478.1 325.6,475.6 326.0,474.5 326.3,474.6 326.7,474.6 327.0,475.7 327.4,475.1 327.8,475.4 328.1,475.7 328.5,476.6 328.9,476.4 329.2,475.3 329.6,475.6 330.0,475.6 330.3,475.8 330.7,476.0 331.1,476.3 331.4,476.4 331.8,476.0 332.2,476.3 332.5,477.0 332.9,477.0 333.2,478.4 333.6,483.3 334.0,483.8 334.3,485.3 334.7,484.8 335.1,484.7 335.4,485.4 335.8,484.4 336.2,484.1 336.5,483.9 336.9,484.5 337.3,484.7 337.6,484.9 338.0,486.1 338.4,484.6 338.7,484.7 339.1,483.1 339.5,483.1 339.8,484.4 340.2,484.2 340.5,484.1 340.9,484.0 341.3,484.7 341.6,485.4 342.0,485.3 342.4,485.7 342.7,485.7 343.1,484.6 343.5,484.6 343.8,485.5 344.2,487.8 344.6,488.0 344.9,482.8 345.3,480.2 345.7,479.0 346.0,480.4 346.4,479.5 346.7,480.5 347.1,480.5 347.5,480.2 347.8,480.0 348.2,480.6 348.6,479.6 348.9,480.0 349.3,479.8 349.7,480.5 350.0,482.4 350.4,482.1 350.8,481.2 351.1,482.5 351.5,482.1 351.9,482.2 352.2,482.8 352.6,483.5 353.0,483.5 353.3,483.4 353.7,484.7 354.0,485.1 354.4,485.2 354.8,487.2 355.1,488.6 355.5,488.5 355.9,489.9 356.2,489.4 356.6,489.0 357.0,487.6 357.3,488.0 357.7,486.7 358.1,487.4 358.4,488.0 358.8,488.5 359.2,488.5 359.5,488.8 359.9,487.9 360.2,487.5 360.6,487.7 361.0,487.6 361.3,488.3 361.7,488.9 362.1,489.0 362.4,489.0 362.8,488.8 363.2,489.5 363.5,489.4 363.9,490.3 364.3,491.4 364.6,488.6 365.0,489.2 365.4,489.0 365.7,489.2 366.1,487.7 366.4,488.5 366.8,488.7 367.2,488.9 367.5,489.0 367.9,488.8 368.3,488.5 368.6,488.2 369.0,488.9 369.4,489.0 369.7,489.0 370.1,489.9 370.5,488.4 370.8,488.1 371.2,488.1 371.6,486.6 371.9,484.9 372.3,485.4 372.7,486.3 373.0,484.7 373.4,485.5 373.7,484.8 374.1,485.1 374.5,482.1 374.8,482.1 375.2,482.5 375.6,481.6 375.9,481.7 376.3,482.6 376.7,482.8 377.0,482.4 377.4,482.8 377.8,484.0 378.1,483.7 378.5,484.0 378.9,483.0 379.2,481.7 379.6,479.8 379.9,480.1 380.3,479.2 380.7,479.9 381.0,479.7 381.4,479.9 381.8,480.1 382.1,480.6 382.5,478.8 382.9,478.2 383.2,477.9 383.6,477.5 384.0,476.4 384.3,477.7 384.7,476.0 385.1,475.6 385.4,476.0 385.8,475.6 386.2,477.5 386.5,477.4 386.9,478.4 387.2,476.3 387.6,478.8 388.0,478.8 388.3,478.4 388.7,478.5 389.1,477.4 389.4,478.6 389.8,480.0 390.2,482.2 390.5,482.2 390.9,482.7 391.3,483.0 391.6,483.3 392.0,481.7 392.4,482.4 392.7,482.4 393.1,481.0 393.4,480.8 393.8,481.8 394.2,485.1 394.5,485.9 394.9,486.0 395.3,486.0 395.6,498.4 396.0,495.9 396.4,497.5 396.7,496.6 397.1,498.3 397.5,497.3 397.8,497.3 398.2,493.3 398.6,493.2 398.9,493.3 399.3,494.8 399.7,492.3 400.0,490.9 400.4,491.2 400.7,491.0 401.1,492.1 401.5,493.0 401.8,494.4 402.2,492.2 402.6,492.2 402.9,491.3 403.3,490.7 403.7,491.0 404.0,490.4 404.4,490.7 404.8,488.7 405.1,489.1 405.5,488.4 405.9,488.5 406.2,490.4 406.6,490.3 406.9,490.2 407.3,490.4 407.7,490.4 408.0,491.4 408.4,489.3 408.8,489.4 409.1,488.7 409.5,489.0 409.9,490.3 410.2,490.3 410.6,489.3 411.0,487.8 411.3,487.7 411.7,487.5 412.1,486.9 412.4,486.6 412.8,486.5 413.1,482.2 413.5,482.8 413.9,481.9 414.2,481.4 414.6,481.7 415.0,481.8 415.3,481.2 415.7,480.7 416.1,477.1 416.4,477.9 416.8,478.8 417.2,482.4 417.5,483.0 417.9,482.1 418.3,480.0 418.6,478.0 419.0,480.0 419.4,479.7 419.7,478.5 420.1,478.2 420.4,478.0 420.8,479.2 421.2,481.1 421.5,480.6 421.9,480.6 422.3,482.2 422.6,481.7 423.0,482.0 423.4,480.5 423.7,478.9 424.1,479.5 424.5,478.4 424.8,479.4 425.2,476.4 425.6,479.1 425.9,478.5 426.3,477.9 426.6,478.6 427.0,478.1 427.4,478.5 427.7,478.2 428.1,478.1 428.5,477.6 428.8,480.0 429.2,479.3 429.6,479.3 429.9,479.7 430.3,479.5 430.7,479.1 431.0,479.4 431.4,479.7 431.8,480.1 432.1,479.8 432.5,480.1 432.9,478.4 433.2,478.7 433.6,480.1 433.9,480.3 434.3,480.7 434.7,481.3 435.0,480.8 435.4,480.5 435.8,480.7 436.1,480.4 436.5,481.0 436.9,481.0 437.2,480.8 437.6,481.0 438.0,479.9 438.3,480.3 438.7,479.5 439.1,480.4 439.4,480.1 439.8,480.3 440.1,480.1 440.5,480.3 440.9,480.2 441.2,480.5 441.6,480.8 442.0,480.7 442.3,480.6 442.7,480.4 443.1,480.7 443.4,479.7 443.8,479.1 444.2,478.8 444.5,479.0 444.9,478.3 445.3,477.4 445.6,472.7 446.0,473.2 446.3,472.4 446.7,472.4 447.1,471.5 447.4,469.5 447.8,472.6 448.2,471.9 448.5,472.1 448.9,469.7 449.3,469.6 449.6,470.3 450.0,469.7 450.4,470.0 450.7,469.1 451.1,471.1 451.5,470.4 451.8,469.6 452.2,469.6 452.6,469.2 452.9,469.0 453.3,467.6 453.6,468.7 454.0,469.6 454.4,469.2 454.7,470.7 455.1,470.1 455.5,470.1 455.8,469.7 456.2,471.5 456.6,470.9 456.9,471.5 457.3,470.6 457.7,470.7 458.0,469.8 458.4,470.0 458.8,468.7 459.1,471.1 459.5,476.0 459.8,474.9 460.2,476.4 460.6,475.9 460.9,475.5 461.3,476.5 461.7,476.1 462.0,475.6 462.4,475.4 462.8,475.2 463.1,475.7 463.5,474.2 463.9,473.8 464.2,473.0 464.6,473.1 465.0,473.2 465.3,472.5 465.7,473.2 466.1,475.3 466.4,474.8 466.8,476.0 467.1,473.9 467.5,474.2 467.9,474.0 468.2,473.8 468.6,474.1 469.0,473.5 469.3,473.8 469.7,474.5 470.1,474.6 470.4,474.7 470.8,474.3 471.2,473.8 471.5,474.6 471.9,474.3 472.3,473.2 472.6,472.6 473.0,471.6 473.3,471.2 473.7,470.5 474.1,471.0 474.4,471.0 474.8,470.7 475.2,471.5 475.5,471.3 475.9,470.8 476.3,469.7 476.6,469.0 477.0,465.1 477.4,464.5 477.7,464.7 478.1,463.9 478.5,464.3 478.8,464.1 479.2,461.7 479.6,463.2 479.9,462.4 480.3,462.0 480.6,461.1 481.0,461.2 481.4,462.0 481.7,460.0 482.1,459.6 482.5,453.4 482.8,453.5 483.2,456.6 483.6,453.9 483.9,454.5 484.3,454.6 484.7,452.9 485.0,450.5 485.4,450.3 485.8,451.4 486.1,451.8 486.5,448.6 486.8,444.7 487.2,444.0 487.6,443.9 487.9,440.3 488.3,440.2 488.7,441.4 489.0,441.6 489.4,438.2 489.8,440.1 490.1,446.8 490.5,446.8 490.9,444.4 491.2,442.4 491.6,436.3 492.0,439.8 492.3,438.1 492.7,437.0 493.0,440.2 493.4,438.3 493.8,437.4 494.1,438.2 494.5,441.8 494.9,440.8 495.2,442.1 495.6,442.9 496.0,439.8 496.3,438.3 496.7,437.9 497.1,437.1 497.4,429.1 497.8,422.8 498.2,421.4 498.5,418.3 498.9,419.9 499.3,423.0 499.6,418.5 500.0,421.0 500.3,418.9 500.7,414.7 501.1,407.4 501.4,408.1 501.8,404.7 502.2,403.5 502.5,397.2 502.9,396.5 503.3,394.8 503.6,383.4 504.0,380.4 504.4,383.8 504.7,375.3 505.1,363.5 505.5,352.4 505.8,346.5 506.2,348.6 506.5,357.5 506.9,369.0 507.3,375.8 507.6,361.3 508.0,353.3 508.4,363.5 508.7,366.4 509.1,367.7 509.5,364.3 509.8,366.4 510.2,369.0 510.6,388.9 510.9,379.6 511.3,383.4 511.7,382.6 512.0,382.1 512.4,381.3 512.8,390.6 513.1,377.5 513.5,374.1 513.8,374.1 514.2,379.2 514.6,377.5 514.9,369.0 515.3,359.7 515.7,363.0 516.0,358.0 516.4,352.9 516.8,354.1 517.1,323.6 517.5,322.3 517.9,329.1 518.2,316.4 518.6,318.1 519.0,319.8 519.3,313.0 519.7,316.4 520.0,311.3 520.4,298.6 520.8,300.7 521.1,282.5 521.5,281.6 521.9,275.7 522.2,289.7 522.6,312.6 523.0,308.8 523.3,319.8 523.7,323.2 524.1,323.6 524.4,328.3 524.8,309.2 525.2,314.3 525.5,305.4 525.9,314.3 526.2,312.6 526.6,312.2 527.0,302.4 527.3,297.3 527.7,286.7 528.1,282.5 528.4,276.5 528.8,274.4 529.2,260.0 529.5,269.3 529.9,283.8 530.3,278.2 530.6,269.8 531.0,275.3 531.4,272.3 531.7,273.2 532.1,276.1 532.5,288.4 532.8,289.7 533.2,295.6 533.5,300.3 533.9,285.9 534.3,282.9 534.6,282.5 535.0,274.4 535.4,269.8 535.7,270.2 536.1,270.6 536.5,269.3 536.8,277.4 537.2,272.7 537.6,268.9 537.9,273.6 538.3,282.1 538.7,273.2 539.0,272.3 539.4,265.9 539.7,265.9 540.1,265.1 540.5,250.3 540.8,252.0 541.2,251.1 541.6,258.3 541.9,263.8 542.3,281.2 542.7,283.3 543.0,279.9 543.4,291.4 543.8,300.3 544.1,302.8 544.5,307.1 544.9,311.7 545.2,290.5 545.6,286.3 546.0,287.1 546.3,292.2 546.7,274.4 547.0,274.4 547.4,279.5 547.8,277.0 548.1,293.5 548.5,276.1 548.9,280.4 549.2,276.1 549.6,270.2 550.0,272.7 550.3,282.5 550.7,279.1 551.1,310.9 551.4,308.8 551.8,307.9 552.2,321.1 552.5,324.0 552.9,335.1 553.2,337.6 553.6,362.6 554.0,346.5 554.3,361.3 554.7,360.5 555.1,371.9 555.4,355.0 555.8,356.7 556.2,352.9 556.5,356.7 556.9,368.1 557.3,372.8 557.6,368.1 558.0,361.3 558.4,363.9 558.7,360.1 559.1,353.3 559.5,363.0 559.8,368.6 560.2,367.7 560.5,377.0 560.9,377.5 561.3,361.3 561.6,363.9 562.0,361.3 562.4,368.6 562.7,353.7 563.1,347.8 563.5,349.1 563.8,357.1 564.2,358.0 564.6,367.7 564.9,369.0 565.3,368.6 565.7,385.1 566.0,381.7 566.4,376.6 566.7,372.4 567.1,385.5 567.5,383.0 567.8,372.4 568.2,373.2 568.6,367.3 568.9,371.1 569.3,377.0 569.7,375.8 570.0,372.4 570.4,369.8 570.8,376.6 571.1,374.5 571.5,375.8 571.9,380.0 572.2,376.2 572.6,377.5 572.9,374.1 573.3,379.2 573.7,380.9 574.0,380.4 574.4,384.7 574.8,386.4 575.1,385.9 575.5,384.7 575.9,388.9 576.2,393.1 576.6,383.4 577.0,382.6 577.3,377.0 577.7,374.1 578.1,369.4 578.4,361.3 578.8,352.4 579.2,349.9 579.5,349.9 579.9,340.6 580.2,343.1 580.6,350.3 581.0,353.3 581.3,357.5 581.7,351.2 582.1,346.1 582.4,338.0 582.8,330.4 583.2,333.8 583.5,323.2 583.9,326.2 584.3,326.2 584.6,331.2 585.0,316.8 585.4,319.8 585.7,320.2 586.1,324.9 586.4,330.0 586.8,330.4 587.2,321.1 587.5,310.5 587.9,312.2 588.3,310.5 588.6,309.6 589.0,317.3 589.4,312.2 589.7,320.2 590.1,311.3 590.5,312.2 590.8,312.6 591.2,320.2 591.6,319.4 591.9,312.6 592.3,310.5 592.7,307.5 593.0,307.9 593.4,299.9 593.7,296.1 594.1,321.1 594.5,324.0 594.8,322.8 595.2,329.1 595.6,327.9 595.9,324.0 596.3,329.1 596.7,319.8 597.0,315.1 597.4,316.8 597.8,318.9 598.1,314.7 598.5,318.9 598.9,337.2 599.2,346.9 599.6,334.6 599.9,329.1 600.3,338.0 600.7,338.5 601.0,336.3 601.4,340.6 601.8,345.7 602.1,343.5 602.5,333.8 602.9,315.1 603.2,316.8 603.6,315.1 604.0,311.3 604.3,301.1 604.7,284.6 605.1,291.4 605.4,291.0 605.8,286.3 606.1,287.6 606.5,275.7 606.9,282.1 607.2,276.1 607.6,276.5 608.0,257.9 608.3,261.3 608.7,258.7 609.1,256.6 609.4,246.9 609.8,239.7 610.2,255.8 610.5,262.1 610.9,259.2 611.3,261.3 611.6,252.4 612.0,263.4 612.4,271.5 612.7,262.6 613.1,255.8 613.4,257.0 613.8,259.6 614.2,260.9 614.5,251.5 614.9,252.8 615.3,259.2 615.6,260.9 616.0,258.7 616.4,251.1 616.7,232.9 617.1,235.8 617.5,244.3 617.8,244.3 618.2,247.3 618.6,246.0 618.9,241.8 619.3,249.8 619.6,264.7 620.0,263.4 620.4,278.2 620.7,273.2 621.1,266.4 621.5,270.6 621.8,280.8 622.2,275.3 622.6,277.0 622.9,269.8 623.3,292.2 623.7,287.1 624.0,277.0 624.4,274.4 624.8,277.8 625.1,277.0 625.5,279.9 625.9,292.2 626.2,310.0 626.6,310.0 626.9,305.0 627.3,305.4 627.7,305.0 628.0,317.7 628.4,319.8 628.8,310.0 629.1,307.1 629.5,321.5 629.9,314.3 630.2,312.2 630.6,317.7 631.0,323.6 631.3,321.1 631.7,321.5 632.1,320.6 632.4,311.7 632.8,313.4 633.1,304.1 633.5,305.8 633.9,304.1 634.2,305.0 634.6,305.0 635.0,317.7 635.3,322.3 635.7,319.8 636.1,323.2 636.4,317.3 636.8,318.9 637.2,322.3 637.5,324.9 637.9,335.1 638.3,336.3 638.6,343.1 639.0,342.3 639.3,342.3 639.7,342.3 640.1,338.5 640.4,333.4 640.8,338.9 641.2,336.8 641.5,336.3 641.9,336.8 642.3,340.1 642.6,339.7 643.0,342.7 643.4,346.9 643.7,364.7 644.1,371.1 644.5,365.6 644.8,363.9 645.2,363.0 645.6,363.5 645.9,361.8 646.3,359.7 646.6,357.5 647.0,358.8 647.4,356.3 647.7,355.4 648.1,363.0 648.5,361.3 648.8,343.1 649.2,344.0 649.6,339.7 649.9,333.8 650.3,332.5 650.7,331.7 651.0,334.6 651.4,339.7 651.8,340.6 652.1,341.0 652.5,338.9 652.8,330.4 653.2,333.4 653.6,347.4 653.9,349.9 654.3,349.5 654.7,356.7 655.0,362.6 655.4,357.5 655.8,361.3 656.1,357.1 656.5,353.3 656.9,353.7 657.2,359.7 657.6,336.3 658.0,331.2 658.3,332.9 658.7,339.3 659.1,353.7 659.4,352.4 659.8,356.7 660.1,358.0 660.5,355.4 660.9,341.8 661.2,352.4 661.6,355.0 662.0,355.0 662.3,359.2 662.7,351.2 663.1,352.9 663.4,345.2 663.8,345.7 664.2,342.3 664.5,340.6 664.9,344.8 665.3,345.7 665.6,339.7 666.0,337.6 666.3,332.9 666.7,331.7 667.1,330.8 667.4,321.1 667.8,319.8 668.2,318.1 668.5,319.8 668.9,326.6 669.3,323.2 669.6,325.3 670.0,322.3 670.4,321.9 670.7,326.6 671.1,336.3 671.5,335.5 671.8,340.1 672.2,338.0 672.6,340.6 672.9,352.0 673.3,349.5 673.6,345.2 674.0,350.3 674.4,347.4 674.7,348.2 675.1,351.2 675.5,346.5 675.8,343.5 676.2,344.0 676.6,347.8 676.9,351.2 677.3,352.0 677.7,352.0 678.0,348.2 678.4,358.0 678.8,353.3 679.1,351.2 679.5,355.8 679.8,359.7 680.2,356.3 680.6,356.3 680.9,359.7 681.3,351.2 681.7,364.3 682.0,366.9 682.4,369.0 682.8,374.9 683.1,391.0 683.5,388.1 683.9,396.5 684.2,396.5 684.6,395.3 685.0,391.9 685.3,386.8 685.7,392.7 686.0,390.6 686.4,397.8 686.8,391.0 687.1,395.7 687.5,394.8 687.9,391.0 688.2,396.1 688.6,393.6 689.0,394.0 689.3,395.3 689.7,398.2 690.1,396.5 690.4,394.8 690.8,385.1 691.2,384.7 691.5,393.1 691.9,390.2 692.3,393.6 692.6,392.7 693.0,392.7 693.3,386.4 693.7,387.6 694.1,391.5 694.4,391.9 694.8,396.1 695.2,399.1 695.5,405.9 695.9,424.1 696.3,425.4 696.6,423.7 697.0,433.0 697.4,432.6 697.7,438.9 698.1,432.2 698.5,432.2 698.8,431.7 699.2,434.7 699.5,430.0 699.9,429.6 700.3,428.3 700.6,430.5 701.0,431.7 701.4,433.4 701.7,434.3 702.1,435.5 702.5,437.7 702.8,437.7 703.2,437.7 703.6,433.9 703.9,433.9 704.3,432.6 704.7,427.9 705.0,427.9 705.4,427.9 705.8,431.3 706.1,434.7 706.5,437.7 706.8,433.9 707.2,432.2 707.6,431.3 707.9,429.6 708.3,431.3 708.7,424.5 709.0,420.3 709.4,421.1 709.8,421.1 710.1,423.3 710.5,424.1 710.9,423.7 711.2,429.2 711.6,429.6 712.0,422.4 712.3,418.6 712.7,418.6 713.0,419.4 713.4,420.7 713.8,420.7 714.1,422.0 714.5,422.8 714.9,423.7 715.2,420.7 715.6,422.0 716.0,421.1 716.3,418.6 716.7,421.1 717.1,418.2 717.4,418.2 717.8,416.0 718.2,416.0 718.5,416.5 718.9,417.3 719.2,418.2 719.6,420.7 720.0,421.1 720.3,431.3 720.7,430.0 721.1,428.3 721.4,428.8 721.8,428.3 722.2,428.8 722.5,428.3 722.9,433.4 723.3,434.7 723.6,436.4 724.0,433.4 724.4,435.5 724.7,434.7 725.1,434.3 725.5,434.7 725.8,435.5 726.2,434.7 726.5,435.5 726.9,439.8 727.3,437.7 727.6,437.7 728.0,428.8 728.4,427.1 728.7,427.1 729.1,424.5 729.5,433.4 729.8,433.9 730.2,436.0 730.6,435.5 730.9,434.3 731.3,437.2 731.7,436.8 732.0,438.9 732.4,441.1 732.7,437.2 733.1,437.7 733.5,439.4 733.8,439.8 734.2,438.1 734.6,438.5 734.9,437.2 735.3,436.4 735.7,437.2 736.0,437.7 736.4,438.9 736.8,436.4 737.1,433.4 737.5,433.9 737.9,435.1 738.2,436.8 738.6,437.2 739.0,437.2 739.3,438.5 739.7,438.9 740.0,438.1 740.4,437.2 740.8,438.1 741.1,438.5 741.5,437.7 741.9,436.8 742.2,437.7 742.6,438.5 743.0,438.9 743.3,438.1 743.7,438.1 744.1,436.4 744.4,437.7 744.8,434.3 745.2,431.3 745.5,433.4 745.9,432.2 746.2,431.3 746.6,432.2 747.0,432.6 747.3,432.6 747.7,433.9 748.1,433.9 748.4,430.0 748.8,429.2 749.2,430.9 749.5,432.2 749.9,441.1 750.3,452.1 750.6,444.9 751.0,447.4 751.4,448.3 751.7,450.0 752.1,449.1 752.5,447.8 752.8,448.7 753.2,448.7 753.5,448.7 753.9,448.7 754.3,450.4 754.6,452.5 755.0,450.8 755.4,449.1 755.7,449.1 756.1,449.5 756.5,449.5 756.8,449.5 757.2,450.8 757.6,450.0 757.9,446.6 758.3,447.4 758.7,447.0 759.0,447.4 759.4,447.0 759.7,447.4 760.1,447.0 760.5,448.3 760.8,446.6 761.2,447.0 761.6,447.0 761.9,447.0 762.3,446.6 762.7,444.0 763.0,444.0 763.4,445.7 763.8,449.1 764.1,448.3 764.5,448.3 764.9,450.0 765.2,447.8 765.6,448.3 765.9,448.3 766.3,448.3 766.7,448.3 767.0,448.3 767.4,447.8 767.8,448.7 768.1,449.5 768.5,449.1 768.9,449.1 769.2,449.5 769.6,449.1 770.0,448.7 770.3,448.7 770.7,448.1 771.1,448.1 771.4,447.6 771.8,447.7 772.2,447.0 772.5,446.7 772.9,445.6 773.2,443.4 773.6,439.6 774.0,435.0 774.3,430.7 774.7,431.0 775.1,429.7 775.4,429.8 775.8,431.8 776.2,430.1 776.5,423.3 776.9,422.9 777.3,423.2 777.6,422.3 778.0,423.5 778.4,421.7 778.7,421.9 779.1,421.6 779.4,421.9 779.8,418.7 780.2,422.7 780.5,421.4 780.9,418.9 781.3,420.0 781.6,420.2 782.0,420.6 782.4,422.3 782.7,423.0 783.1,420.9 783.5,422.1 783.8,427.1 784.2,427.8 784.6,426.8 784.9,427.1 785.3,427.1 785.7,425.4 786.0,416.4 786.4,419.8 786.7,415.3 787.1,415.1 787.5,416.6 787.8,414.2 788.2,415.9 788.6,416.9 788.9,418.0 789.3,421.1 789.7,421.3 790.0,419.6 790.4,419.9 790.8,421.3 791.1,419.2 791.5,419.9 791.9,424.7 792.2,424.7 792.6,424.4 792.9,424.5 793.3,425.4 793.7,427.5 794.0,433.2 794.4,433.9 794.8,432.0 795.1,425.5 795.5,416.9 795.9,414.6 796.2,416.1 796.6,413.3 797.0,403.2 797.3,405.1 797.7,400.6 798.1,401.8 798.4,400.0 798.8,403.7 799.1,399.4 799.5,402.9 799.9,402.9 800.2,400.8 800.6,404.4 801.0,403.9 801.3,399.3 801.7,400.7 802.1,398.7 802.4,398.9 802.8,399.9 803.2,401.7 803.5,400.1 803.9,400.0 804.3,400.6 804.6,401.1 805.0,401.0 805.4,399.4 805.7,393.8 806.1,391.3 806.4,392.8 806.8,390.6 807.2,390.2 807.5,390.9 807.9,390.9 808.3,394.6 808.6,390.6 809.0,397.3 809.4,399.7 809.7,403.8 810.1,401.5 810.5,402.5 810.8,402.8 811.2,399.5 811.6,399.0 811.9,394.5 812.3,395.1 812.6,395.5 813.0,395.4 813.4,400.4 813.7,397.9 814.1,396.4 814.5,397.2 814.8,394.3 815.2,397.0 815.6,398.9 815.9,402.1 816.3,402.2 816.7,402.4 817.0,405.0 817.4,405.9 817.8,406.0 818.1,405.3 818.5,404.2 818.9,404.9 819.2,403.3 819.6,405.7 819.9,405.5 820.3,404.5 820.7,406.1 821.0,405.7 821.4,404.0 821.8,407.9 822.1,407.3 822.5,406.2 822.9,405.6 823.2,400.4 823.6,401.8 824.0,402.1 824.3,404.1 824.7,405.8 825.1,404.0 825.4,404.7 825.8,404.5 826.1,410.3 826.5,404.0 826.9,407.8 827.2,407.1 827.6,407.2 828.0,409.9 828.3,409.5 828.7,409.7 829.1,409.6 829.4,413.0 829.8,411.0 830.2,407.9 830.5,407.1 830.9,407.8 831.3,405.7 831.6,399.4 832.0,392.2 832.4,392.7 832.7,389.3 833.1,390.0 833.4,390.3 833.8,391.2 834.2,389.4 834.5,391.9 834.9,390.4 835.3,390.3 835.6,389.8 836.0,389.7 836.4,387.4 836.7,389.0 837.1,390.1 837.5,392.7 837.8,390.8 838.2,391.1 838.6,391.6 838.9,390.6 839.3,389.7 839.6,390.6 840.0,386.0 840.4,390.9 840.7,391.0 841.1,391.2 841.5,391.7 841.8,392.9 842.2,392.7 842.6,393.1 842.9,392.7 843.3,393.2 843.7,392.0 844.0,395.8 844.4,395.6 844.8,395.1 845.1,395.6 845.5,395.2 845.8,395.0 846.2,395.4 846.6,395.6 846.9,393.7 847.3,395.8 847.7,395.8 848.0,396.2 848.4,396.4 848.8,396.4 849.1,395.8 849.5,393.3 849.9,394.1 850.2,394.7 850.6,394.8 851.0,394.8 851.3,395.4 851.7,394.8 852.1,395.8 852.4,397.8 852.8,406.5 853.1,409.0 853.5,408.8 853.9,408.5 854.2,408.8 854.6,409.1 855.0,407.4 855.3,408.6 855.7,409.0 856.1,409.2 856.4,408.9 856.8,408.8 857.2,401.9 857.5,403.7 857.9,409.6 858.3,410.1 858.6,409.8 859.0,409.4 859.3,410.1 859.7,410.2 860.1,410.3 860.4,408.2 860.8,409.6 861.2,409.7 861.5,409.9 861.9,412.8 862.3,409.9 862.6,408.3 863.0,407.0 863.4,406.7 863.7,406.8 864.1,407.0 864.5,406.0 864.8,404.1 865.2,404.5 865.6,406.8 865.9,406.8 866.3,406.8 866.6,408.2 867.0,408.0 867.4,408.3 867.7,407.8 868.1,404.9 868.5,405.4 868.8,405.1 869.2,400.9 869.6,402.5 869.9,403.2 870.3,401.6 870.7,403.3 871.0,401.0 871.4,400.9 871.8,401.0 872.1,402.5 872.5,403.4 872.8,405.6 873.2,406.0 873.6,405.6 873.9,405.6 874.3,404.3 874.7,398.6 875.0,399.0 875.4,399.4 875.8,397.7 876.1,393.7 876.5,392.6 876.9,392.3 877.2,379.2 877.6,375.8 878.0,373.2 878.3,374.7 878.7,375.7 879.0,375.0 879.4,373.1 879.8,373.2 880.1,372.5 880.5,369.2 880.9,371.4 881.2,372.2 881.6,370.8 882.0,370.9 882.3,370.9 882.7,369.3 883.1,368.4 883.4,363.9 883.8,361.3 884.2,362.1 884.5,362.3 884.9,364.8 885.3,368.8 885.6,359.0 886.0,366.2 886.3,364.3 886.7,364.4 887.1,361.0 887.4,360.6 887.8,367.7 888.2,360.8 888.5,361.4 888.9,359.6 889.3,359.2 889.6,360.6 890.0,361.6 890.4,359.1 890.7,359.0 891.1,359.6 891.5,355.5 891.8,352.2 892.2,350.0 892.5,341.5 892.9,332.6 893.3,334.0 893.6,336.0 894.0,332.2 894.4,334.2 894.7,333.8 895.1,344.6 895.5,343.8 895.8,337.6 896.2,337.1 896.6,341.7 896.9,340.4 897.3,344.1 897.7,338.6 898.0,340.3 898.4,334.4 898.8,333.5 899.1,333.0 899.5,334.0 899.8,337.1 900.2,334.6 900.6,339.2 900.9,335.3 901.3,339.0 901.7,341.1 902.0,340.8 902.4,340.3 902.8,332.2 903.1,328.9 903.5,337.8 903.9,332.2 904.2,332.3 904.6,333.1 905.0,333.2 905.3,320.3 905.7,324.0 906.0,321.8 906.4,322.9 906.8,337.8 907.1,337.9 907.5,342.3 907.9,339.3 908.2,336.5 908.6,338.3 909.0,344.6 909.3,343.0 909.7,342.9 910.1,343.3 910.4,352.0 910.8,350.5 911.2,349.6 911.5,350.2 911.9,342.2 912.3,340.9 912.6,341.3 913.0,335.9 913.3,337.4 913.7,339.0 914.1,336.8 914.4,336.4 914.8,337.2 915.2,339.0 915.5,338.6 915.9,336.8 916.3,331.6 916.6,327.4 917.0,319.6 917.4,317.0 917.7,314.8 918.1,307.7 918.5,308.8 918.8,299.8 919.2,299.3 919.5,298.3 919.9,300.5 920.3,298.5 920.6,300.0 921.0,297.8 921.4,299.7 921.7,302.0 922.1,304.4 922.5,300.8 922.8,300.2 923.2,288.3 923.6,277.4 923.9,254.5 924.3,260.0 924.7,254.8 925.0,256.5 925.4,251.7 925.7,229.8 926.1,249.0 926.5,239.2 926.8,235.7 927.2,229.9 927.6,229.1 927.9,226.9 928.3,213.7 928.7,216.4 929.0,209.6 929.4,216.8 929.8,225.2 930.1,242.5 930.5,229.5 930.9,232.8 931.2,256.9 931.6,231.9 932.0,241.8 932.3,249.0 932.7,247.9 933.0,234.4 933.4,222.9 933.8,222.7 934.1,225.0 934.5,219.4 934.9,223.2 935.2,224.2 935.6,217.1 936.0,224.0 936.3,242.0 936.7,239.7 937.1,229.0 937.4,231.9 937.8,227.4 938.2,225.4 938.5,215.8 938.9,226.3 939.2,220.2 939.6,222.4 940.0,234.6 940.3,248.9 940.7,240.8 941.1,250.6 941.4,248.9 941.8,259.7 942.2,250.2 942.5,248.8 942.9,243.9 943.3,244.2 943.6,236.1 944.0,237.9 944.4,247.0 944.7,246.0 945.1,249.2 945.5,250.6 945.8,251.9 946.2,248.8 946.5,262.4 946.9,272.3 947.3,268.9 947.6,252.8 948.0,248.2 948.4,247.9 948.7,251.5 949.1,248.9 949.5,260.0 949.8,250.5 950.2,261.7 950.6,252.7 950.9,243.4 951.3,252.8 951.7,258.3 952.0,238.4 952.4,242.2 952.7,235.4 953.1,240.8 953.5,211.8 953.8,216.8 954.2,222.3 954.6,230.4 954.9,231.6 955.3,238.4 955.7,235.6 956.0,242.2 956.4,229.1 956.8,237.0 957.1,243.1 957.5,238.2 957.9,233.3 958.2,232.1 958.6,234.7 958.9,227.8 959.3,222.8 959.7,218.0 960.0,219.5 960.4,225.7 960.8,221.1 961.1,228.9 961.5,224.4 961.9,234.1 962.2,231.5 962.6,227.4 963.0,239.7 963.3,239.6 963.7,250.0 964.1,237.5 964.4,243.1 964.8,254.6 965.2,252.8 965.5,247.7 965.9,271.1 966.2,276.1 966.6,263.8 967.0,262.2 967.3,260.9 967.7,273.5 968.1,253.0 968.4,251.3 968.8,253.7 969.2,272.0 969.5,267.3 969.9,264.3 970.3,277.8 970.6,279.1 971.0,281.6 971.4,274.8 971.7,279.1 972.1,273.0 972.4,274.0 972.8,284.8 973.2,274.0 973.5,261.6 973.9,261.7 974.3,247.7 974.6,254.8 975.0,247.7 975.4,244.7 975.7,248.5 976.1,234.6 976.5,243.4 976.8,231.2 977.2,236.4 977.6,245.7 977.9,240.5 978.3,259.0 978.7,238.6 979.0,233.4 979.4,236.3 979.7,242.2 980.1,245.6 980.5,242.2 980.8,259.2 981.2,267.6 981.6,273.2 981.9,290.5 982.3,294.2 982.7,286.3 983.0,257.9 983.4,252.2 983.8,254.3 984.1,267.3 984.5,267.6 984.9,273.3 985.2,279.6 985.6,275.3 985.9,275.8 986.3,271.1 986.7,282.1 987.0,263.2 987.4,269.3 987.8,266.9 988.1,252.1 988.5,247.7 988.9,249.5 989.2,247.3 989.6,250.9 990.0,267.2 990.3,267.3 990.7,282.9 991.1,272.8 991.4,269.8 991.8,284.5 992.2,280.7 992.5,275.7 992.9,272.0 993.2,294.7 993.6,291.0 994.0,288.4 994.3,289.8 994.7,277.8 995.1,289.9 995.4,286.8 995.8,279.0 996.2,262.6 996.5,265.8 996.9,269.6 997.3,260.1 997.6,263.8 998.0,260.7 998.4,252.8 998.7,248.1 999.1,227.5 999.4,253.8 999.8,251.1 1000.2,252.9 1000.5,253.9 1000.9,239.2 1001.3,240.5 1001.6,239.7 1002.0,247.2 1002.4,251.1 1002.7,261.7 1003.1,261.8 1003.5,262.6 1003.8,254.1 1004.2,266.5 1004.6,266.7 1004.9,255.3 1005.3,256.4 1005.6,249.1 1006.0,257.5 1006.4,245.9 1006.7,252.2 1007.1,235.4 1007.5,233.3 1007.8,235.6 1008.2,226.5 1008.6,233.9 1008.9,244.0 1009.3,228.2 1009.7,233.6 1010.0,227.4 1010.4,229.5 1010.8,217.4 1011.1,227.9 1011.5,230.8 1011.9,226.1 1012.2,198.6 1012.6,209.6 1012.9,204.9 1013.3,217.1 1013.7,215.5 1014.0,213.5 1014.4,227.4 1014.8,220.4 1015.1,225.7 1015.5,218.9 1015.9,192.6 1016.2,191.3 1016.6,192.2 1017.0,187.8 1017.3,175.2 1017.7,140.4 1018.1,143.4 1018.4,132.4 1018.8,146.4 1019.1,130.3 1019.5,134.1 1019.9,135.8 1020.2,126.7 1020.6,125.2 1021.0,116.7 1021.3,102.3 1021.7,101.9 1022.1,103.6 1022.4,102.7 1022.8,121.8 1023.2,126.9 1023.5,109.9" fill="none" stroke="#1f77b4" stroke-width="2.4" stroke-linejoin="round" stroke-linecap="square"/>
<polyline points="108.1,457.2 108.5,457.4 108.9,457.9 109.2,458.6 109.6,459.1 110.0,459.5 110.3,459.7 110.7,460.0 111.1,460.8 111.4,461.4 111.8,462.2 112.2,463.2 112.5,464.4 112.9,465.3 113.3,466.0 113.6,466.7 114.0,467.6 114.3,468.7 114.7,469.6 115.1,470.6 115.4,471.6 115.8,472.9 116.2,473.9 116.5,474.6 116.9,475.4 117.3,476.3 117.6,477.3 118.0,478.0 118.4,478.4 118.7,479.0 119.1,479.4 119.5,479.7 119.8,480.0 120.2,480.5 120.5,480.8 120.9,481.0 121.3,481.0 121.6,480.7 122.0,480.4 122.4,480.2 122.7,479.9 123.1,479.5 123.5,478.9 123.8,478.4 124.2,478.0 124.6,477.5 124.9,476.8 125.3,476.3 125.7,475.7 126.0,475.2 126.4,474.9 126.7,474.8 127.1,474.8 127.5,474.9 127.8,475.1 128.2,475.4 128.6,475.7 128.9,476.2 129.3,476.6 129.7,476.9 130.0,477.3 130.4,477.7 130.8,478.1 131.1,478.4 131.5,478.8 131.9,479.1 132.2,479.7 132.6,480.3 133.0,481.0 133.3,481.6 133.7,482.2 134.0,482.8 134.4,483.3 134.8,483.6 135.1,484.0 135.5,484.3 135.9,484.8 136.2,485.2 136.6,485.6 137.0,485.9 137.3,486.2 137.7,486.4 138.1,486.7 138.4,487.0 138.8,487.3 139.2,487.8 139.5,488.2 139.9,488.4 140.2,488.5 140.6,488.6 141.0,488.6 141.3,488.5 141.7,488.5 142.1,488.4 142.4,488.3 142.8,488.0 143.2,487.6 143.5,487.2 143.9,486.8 144.3,486.3 144.6,485.7 145.0,485.2 145.4,484.7 145.7,484.2 146.1,483.6 146.5,483.0 146.8,482.5 147.2,482.0 147.5,481.6 147.9,481.3 148.3,481.0 148.6,480.7 149.0,480.2 149.4,480.0 149.7,479.7 150.1,479.5 150.5,479.4 150.8,479.4 151.2,479.5 151.6,479.7 151.9,479.9 152.3,480.1 152.7,480.2 153.0,480.4 153.4,480.6 153.7,480.9 154.1,481.0 154.5,481.3 154.8,481.8 155.2,482.2 155.6,482.7 155.9,483.2 156.3,483.8 156.7,484.1 157.0,484.6 157.4,485.1 157.8,485.5 158.1,485.9 158.5,486.1 158.9,486.3 159.2,486.4 159.6,486.6 160.0,486.7 160.3,486.9 160.7,487.1 161.0,487.3 161.4,487.7 161.8,488.0 162.1,488.1 162.5,488.3 162.9,488.5 163.2,488.7 163.6,488.9 164.0,489.1 164.3,489.3 164.7,489.4 165.1,489.5 165.4,489.6 165.8,489.8 166.2,490.1 166.5,490.5 166.9,490.8 167.2,491.2 167.6,491.5 168.0,491.7 168.3,492.0 168.7,492.2 169.1,492.3 169.4,492.4 169.8,492.5 170.2,492.4 170.5,492.4 170.9,492.4 171.3,492.4 171.6,492.4 172.0,492.5 172.4,492.5 172.7,492.6 173.1,492.6 173.4,492.5 173.8,492.4 174.2,492.4 174.5,492.2 174.9,492.1 175.3,491.9 175.6,491.6 176.0,491.2 176.4,490.9 176.7,490.6 177.1,490.3 177.5,489.8 177.8,489.5 178.2,489.0 178.6,488.5 178.9,488.0 179.3,487.6 179.7,487.2 180.0,486.9 180.4,486.6 180.7,486.5 181.1,486.3 181.5,486.2 181.8,486.1 182.2,486.0 182.6,486.0 182.9,486.1 183.3,486.4 183.7,486.7 184.0,487.1 184.4,487.5 184.8,488.0 185.1,488.4 185.5,489.0 185.9,489.5 186.2,490.0 186.6,490.4 186.9,490.8 187.3,491.2 187.7,491.5 188.0,491.7 188.4,491.8 188.8,492.0 189.1,492.0 189.5,492.1 189.9,492.1 190.2,492.1 190.6,492.1 191.0,491.9 191.3,491.8 191.7,491.6 192.1,491.4 192.4,491.3 192.8,491.1 193.2,490.9 193.5,490.7 193.9,490.6 194.2,490.5 194.6,490.6 195.0,490.6 195.3,490.6 195.7,490.6 196.1,490.6 196.4,490.6 196.8,490.7 197.2,490.7 197.5,490.8 197.9,490.8 198.3,490.8 198.6,490.8 199.0,490.9 199.4,491.0 199.7,491.1 200.1,491.2 200.4,491.4 200.8,491.4 201.2,491.5 201.5,491.4 201.9,491.3 202.3,491.2 202.6,491.2 203.0,491.1 203.4,491.1 203.7,491.1 204.1,491.0 204.5,491.0 204.8,491.0 205.2,491.0 205.6,491.0 205.9,491.1 206.3,491.1 206.6,491.2 207.0,491.3 207.4,491.4 207.7,491.5 208.1,491.5 208.5,491.5 208.8,491.6 209.2,491.6 209.6,491.7 209.9,491.7 210.3,491.7 210.7,491.7 211.0,491.8 211.4,491.9 211.8,491.9 212.1,491.9 212.5,492.0 212.9,492.1 213.2,492.1 213.6,492.1 213.9,492.0 214.3,492.0 214.7,492.0 215.0,492.0 215.4,492.1 215.8,492.1 216.1,492.1 216.5,492.1 216.9,492.1 217.2,492.1 217.6,492.0 218.0,491.9 218.3,491.8 218.7,491.8 219.1,492.0 219.4,492.1 219.8,492.4 220.1,492.6 220.5,492.9 220.9,493.3 221.2,493.7 221.6,494.1 222.0,494.6 222.3,495.1 222.7,495.6 223.1,496.1 223.4,496.6 223.8,497.1 224.2,497.6 224.5,498.2 224.9,498.8 225.3,499.5 225.6,500.2 226.0,500.7 226.4,501.1 226.7,501.6 227.1,502.0 227.4,502.3 227.8,502.6 228.2,502.9 228.5,503.0 228.9,503.2 229.3,503.3 229.6,503.5 230.0,503.6 230.4,503.8 230.7,503.9 231.1,504.1 231.5,504.2 231.8,504.3 232.2,504.3 232.6,504.2 232.9,504.2 233.3,504.1 233.6,504.0 234.0,503.9 234.4,503.7 234.7,503.7 235.1,503.6 235.5,503.5 235.8,503.5 236.2,503.4 236.6,503.3 236.9,503.2 237.3,503.0 237.7,502.9 238.0,502.7 238.4,502.6 238.8,502.6 239.1,502.6 239.5,502.6 239.9,502.7 240.2,502.8 240.6,502.9 240.9,503.0 241.3,503.1 241.7,503.2 242.0,503.3 242.4,503.4 242.8,503.5 243.1,503.6 243.5,503.7 243.9,503.7 244.2,503.8 244.6,503.9 245.0,504.0 245.3,504.2 245.7,504.3 246.1,504.4 246.4,504.5 246.8,504.5 247.1,504.5 247.5,504.5 247.9,504.5 248.2,504.5 248.6,504.5 249.0,504.5 249.3,504.5 249.7,504.5 250.1,504.4 250.4,504.4 250.8,504.4 251.2,504.3 251.5,504.3 251.9,504.2 252.3,504.1 252.6,504.1 253.0,504.0 253.3,503.9 253.7,503.8 254.1,503.7 254.4,503.6 254.8,503.5 255.2,503.5 255.5,503.4 255.9,503.2 256.3,503.2 256.6,503.2 257.0,503.2 257.4,503.2 257.7,503.2 258.1,503.1 258.5,503.2 258.8,503.2 259.2,503.2 259.6,503.1 259.9,503.1 260.3,503.2 260.6,503.2 261.0,503.2 261.4,503.1 261.7,503.1 262.1,503.2 262.5,503.2 262.8,503.2 263.2,503.2 263.6,503.2 263.9,503.1 264.3,503.0 264.7,503.0 265.0,502.9 265.4,502.9 265.8,502.8 266.1,502.7 266.5,502.7 266.8,502.6 267.2,502.6 267.6,502.6 267.9,502.5 268.3,502.5 268.7,502.5 269.0,502.4 269.4,502.4 269.8,502.2 270.1,502.0 270.5,501.8 270.9,501.5 271.2,501.3 271.6,501.1 272.0,500.8 272.3,500.6 272.7,500.3 273.1,500.1 273.4,499.9 273.8,499.7 274.1,499.4 274.5,499.2 274.9,499.0 275.2,498.7 275.6,498.5 276.0,498.2 276.3,497.9 276.7,497.7 277.1,497.6 277.4,497.5 277.8,497.4 278.2,497.4 278.5,497.3 278.9,497.3 279.3,497.3 279.6,497.3 280.0,497.4 280.3,497.3 280.7,497.2 281.1,497.1 281.4,496.9 281.8,496.8 282.2,496.7 282.5,496.6 282.9,496.4 283.3,496.2 283.6,496.0 284.0,495.6 284.4,495.3 284.7,494.8 285.1,494.3 285.5,493.6 285.8,493.1 286.2,492.6 286.5,492.1 286.9,491.5 287.3,490.9 287.6,490.4 288.0,489.9 288.4,489.4 288.7,489.0 289.1,488.5 289.5,487.9 289.8,487.2 290.2,486.6 290.6,486.1 290.9,485.7 291.3,485.4 291.7,485.1 292.0,484.9 292.4,484.8 292.8,484.9 293.1,484.9 293.5,484.8 293.8,484.7 294.2,484.7 294.6,484.8 294.9,484.8 295.3,484.7 295.7,484.7 296.0,484.6 296.4,484.5 296.8,484.4 297.1,484.4 297.5,484.3 297.9,484.2 298.2,484.0 298.6,483.8 299.0,483.4 299.3,483.0 299.7,482.5 300.0,481.8 300.4,480.9 300.8,479.8 301.1,479.1 301.5,478.2 301.9,477.3 302.2,476.7 302.6,476.1 303.0,475.6 303.3,474.8 303.7,474.2 304.1,473.8 304.4,473.3 304.8,472.9 305.2,472.2 305.5,471.5 305.9,470.9 306.3,470.7 306.6,470.4 307.0,470.3 307.3,470.5 307.7,470.7 308.1,471.4 308.4,471.7 308.8,472.1 309.2,472.4 309.5,472.4 309.9,472.4 310.3,472.5 310.6,473.0 311.0,473.2 311.4,473.5 311.7,473.7 312.1,474.1 312.5,474.7 312.8,475.4 313.2,475.9 313.5,476.2 313.9,476.5 314.3,476.7 314.6,476.5 315.0,476.5 315.4,476.0 315.7,475.7 316.1,475.4 316.5,475.1 316.8,474.8 317.2,474.7 317.6,474.4 317.9,474.1 318.3,473.9 318.7,473.9 319.0,473.8 319.4,473.6 319.8,473.5 320.1,473.3 320.5,473.0 320.8,472.9 321.2,473.0 321.6,473.0 321.9,473.1 322.3,473.3 322.7,473.6 323.0,473.9 323.4,474.3 323.8,474.7 324.1,475.2 324.5,475.6 324.9,476.0 325.2,476.3 325.6,476.5 326.0,476.3 326.3,476.3 326.7,476.2 327.0,476.2 327.4,476.2 327.8,476.3 328.1,476.4 328.5,476.4 328.9,476.4 329.2,476.4 329.6,476.3 330.0,476.3 330.3,476.3 330.7,476.3 331.1,476.2 331.4,476.0 331.8,475.9 332.2,475.8 332.5,475.7 332.9,475.8 333.2,476.0 333.6,476.4 334.0,476.9 334.3,477.4 334.7,477.8 335.1,478.3 335.4,478.8 335.8,479.2 336.2,479.6 336.5,480.0 336.9,480.4 337.3,480.9 337.6,481.4 338.0,481.9 338.4,482.3 338.7,482.7 339.1,483.1 339.5,483.4 339.8,483.8 340.2,484.1 340.5,484.4 340.9,484.4 341.3,484.5 341.6,484.5 342.0,484.5 342.4,484.6 342.7,484.6 343.1,484.6 343.5,484.6 343.8,484.7 344.2,484.9 344.6,485.0 344.9,484.9 345.3,484.6 345.7,484.4 346.0,484.1 346.4,484.0 346.7,483.8 347.1,483.6 347.5,483.4 347.8,483.2 348.2,483.1 348.6,482.8 348.9,482.5 349.3,482.3 349.7,482.0 350.0,481.8 350.4,481.7 350.8,481.5 351.1,481.4 351.5,481.1 351.9,480.8 352.2,480.8 352.6,481.0 353.0,481.2 353.3,481.3 353.7,481.6 354.0,481.8 354.4,482.1 354.8,482.4 355.1,482.8 355.5,483.2 355.9,483.8 356.2,484.2 356.6,484.7 357.0,485.0 357.3,485.3 357.7,485.6 358.1,485.9 358.4,486.1 358.8,486.5 359.2,486.8 359.5,487.1 359.9,487.3 360.2,487.5 360.6,487.7 361.0,487.8 361.3,488.0 361.7,488.2 362.1,488.3 362.4,488.3 362.8,488.3 363.2,488.3 363.5,488.3 363.9,488.4 364.3,488.6 364.6,488.6 365.0,488.7 365.4,488.8 365.7,488.8 366.1,488.8 366.4,488.8 366.8,488.8 367.2,488.9 367.5,488.9 367.9,489.0 368.3,489.0 368.6,489.0 369.0,489.0 369.4,489.0 369.7,489.0 370.1,489.1 370.5,489.0 370.8,489.0 371.2,488.8 371.6,488.6 371.9,488.4 372.3,488.2 372.7,488.1 373.0,487.9 373.4,487.8 373.7,487.6 374.1,487.4 374.5,487.1 374.8,486.7 375.2,486.4 375.6,486.1 375.9,485.7 376.3,485.4 376.7,485.1 377.0,484.8 377.4,484.4 377.8,484.2 378.1,484.0 378.5,483.8 378.9,483.6 379.2,483.4 379.6,483.2 379.9,482.9 380.3,482.6 380.7,482.3 381.0,482.0 381.4,481.8 381.8,481.7 382.1,481.6 382.5,481.4 382.9,481.2 383.2,481.1 383.6,480.8 384.0,480.5 384.3,480.3 384.7,479.9 385.1,479.5 385.4,479.1 385.8,478.7 386.2,478.4 386.5,478.2 386.9,478.1 387.2,477.9 387.6,477.9 388.0,477.9 388.3,477.8 388.7,477.7 389.1,477.6 389.4,477.5 389.8,477.5 390.2,477.7 390.5,478.0 390.9,478.2 391.3,478.6 391.6,478.8 392.0,479.1 392.4,479.5 392.7,479.8 393.1,480.1 393.4,480.2 393.8,480.4 394.2,480.8 394.5,481.3 394.9,481.6 395.3,482.0 395.6,483.0 396.0,483.8 396.4,484.8 396.7,485.8 397.1,486.7 397.5,487.4 397.8,488.2 398.2,488.7 398.6,489.2 398.9,489.7 399.3,490.4 399.7,490.9 400.0,491.3 400.4,491.8 400.7,492.3 401.1,492.8 401.5,493.2 401.8,493.6 402.2,493.9 402.6,494.3 402.9,493.9 403.3,493.6 403.7,493.3 404.0,493.0 404.4,492.6 404.8,492.2 405.1,491.8 405.5,491.5 405.9,491.3 406.2,491.2 406.6,490.9 406.9,490.8 407.3,490.8 407.7,490.8 408.0,490.8 408.4,490.7 408.8,490.5 409.1,490.2 409.5,490.0 409.9,489.9 410.2,489.9 410.6,489.8 411.0,489.7 411.3,489.5 411.7,489.4 412.1,489.3 412.4,489.1 412.8,489.0 413.1,488.7 413.5,488.3 413.9,487.9 414.2,487.5 414.6,487.1 415.0,486.6 415.3,486.1 415.7,485.7 416.1,485.1 416.4,484.5 416.8,484.0 417.2,483.6 417.5,483.3 417.9,482.9 418.3,482.5 418.6,482.0 419.0,481.6 419.4,481.3 419.7,480.9 420.1,480.5 420.4,480.3 420.8,480.1 421.2,480.0 421.5,480.0 421.9,480.0 422.3,480.0 422.6,480.0 423.0,480.1 423.4,480.2 423.7,480.3 424.1,480.3 424.5,480.1 424.8,479.9 425.2,479.6 425.6,479.6 425.9,479.6 426.3,479.5 426.6,479.5 427.0,479.5 427.4,479.5 427.7,479.5 428.1,479.4 428.5,479.2 428.8,479.2 429.2,479.1 429.6,479.0 429.9,478.9 430.3,478.8 430.7,478.7 431.0,478.7 431.4,478.7 431.8,478.8 432.1,478.8 432.5,479.0 432.9,479.0 433.2,479.0 433.6,479.1 433.9,479.2 434.3,479.3 434.7,479.5 435.0,479.6 435.4,479.7 435.8,479.9 436.1,479.9 436.5,480.0 436.9,480.1 437.2,480.1 437.6,480.2 438.0,480.2 438.3,480.3 438.7,480.3 439.1,480.3 439.4,480.3 439.8,480.3 440.1,480.4 440.5,480.5 440.9,480.5 441.2,480.5 441.6,480.5 442.0,480.5 442.3,480.5 442.7,480.5 443.1,480.4 443.4,480.4 443.8,480.3 444.2,480.2 444.5,480.1 444.9,480.0 445.3,479.9 445.6,479.5 446.0,479.2 446.3,478.8 446.7,478.4 447.1,477.9 447.4,477.4 447.8,477.0 448.2,476.6 448.5,476.2 448.9,475.6 449.3,475.1 449.6,474.6 450.0,474.0 450.4,473.5 450.7,473.0 451.1,472.6 451.5,472.1 451.8,471.7 452.2,471.2 452.6,470.8 452.9,470.6 453.3,470.4 453.6,470.2 454.0,470.0 454.4,469.9 454.7,470.0 455.1,469.9 455.5,469.8 455.8,469.6 456.2,469.7 456.6,469.8 456.9,469.9 457.3,469.9 457.7,469.9 458.0,470.0 458.4,469.9 458.8,469.8 459.1,469.9 459.5,470.2 459.8,470.5 460.2,470.9 460.6,471.3 460.9,471.7 461.3,472.0 461.7,472.3 462.0,472.6 462.4,472.9 462.8,473.1 463.1,473.4 463.5,473.5 463.9,473.7 464.2,473.8 464.6,473.9 465.0,474.0 465.3,474.1 465.7,474.3 466.1,474.6 466.4,474.8 466.8,474.8 467.1,474.8 467.5,474.7 467.9,474.6 468.2,474.5 468.6,474.4 469.0,474.2 469.3,474.1 469.7,474.1 470.1,474.1 470.4,474.0 470.8,474.0 471.2,474.0 471.5,474.1 471.9,474.1 472.3,474.2 472.6,474.2 473.0,474.1 473.3,473.9 473.7,473.7 474.1,473.4 474.4,473.3 474.8,473.1 475.2,473.0 475.5,472.8 475.9,472.7 476.3,472.5 476.6,472.2 477.0,471.8 477.4,471.3 477.7,470.8 478.1,470.3 478.5,469.8 478.8,469.3 479.2,468.6 479.6,468.1 479.9,467.6 480.3,467.1 480.6,466.6 481.0,466.2 481.4,465.7 481.7,465.2 482.1,464.6 482.5,463.7 482.8,462.8 483.2,462.1 483.6,461.3 483.9,460.6 484.3,460.1 484.7,459.5 485.0,458.8 485.4,458.1 485.8,457.4 486.1,456.8 486.5,456.2 486.8,455.3 487.2,454.3 487.6,453.4 487.9,452.4 488.3,451.3 488.7,450.3 489.0,449.4 489.4,448.3 489.8,447.7 490.1,447.3 490.5,446.8 490.9,446.4 491.2,445.8 491.6,444.8 492.0,444.2 492.3,443.6 492.7,442.9 493.0,442.3 493.4,441.7 493.8,441.1 494.1,440.8 494.5,440.7 494.9,440.5 495.2,440.6 495.6,440.7 496.0,440.7 496.3,440.5 496.7,440.5 497.1,440.3 497.4,439.4 497.8,438.2 498.2,437.1 498.5,435.9 498.9,435.1 499.3,434.2 499.6,433.3 500.0,432.4 500.3,431.4 500.7,430.2 501.1,428.7 501.4,427.2 501.8,425.3 502.2,423.5 502.5,421.2 502.9,418.9 503.3,416.7 503.6,413.9 504.0,411.0 504.4,408.4 504.7,405.7 505.1,402.7 505.5,399.3 505.8,395.7 506.2,392.1 506.5,388.8 506.9,386.4 507.3,384.1 507.6,381.2 508.0,378.2 508.4,376.0 508.7,373.9 509.1,372.0 509.5,370.1 509.8,368.5 510.2,367.2 510.6,366.9 510.9,366.7 511.3,366.8 511.7,366.8 512.0,367.1 512.4,368.0 512.8,369.9 513.1,371.4 513.5,372.7 513.8,373.5 514.2,374.0 514.6,374.1 514.9,374.5 515.3,374.8 515.7,374.8 516.0,374.4 516.4,373.6 516.8,373.1 517.1,371.0 517.5,368.7 517.9,365.7 518.2,362.5 518.6,359.2 519.0,356.1 519.3,352.7 519.7,349.4 520.0,345.4 520.4,341.5 520.8,337.8 521.1,333.3 521.5,328.4 521.9,323.3 522.2,319.3 522.6,317.0 523.0,314.3 523.3,312.4 523.7,310.9 524.1,309.3 524.4,309.6 524.8,308.9 525.2,308.2 525.5,307.6 525.9,307.4 526.2,307.1 526.6,307.0 527.0,306.3 527.3,305.6 527.7,305.0 528.1,304.1 528.4,303.8 528.8,303.5 529.2,302.7 529.5,301.7 529.9,300.2 530.3,298.7 530.6,296.2 531.0,293.8 531.4,291.2 531.7,288.5 532.1,286.8 532.5,285.5 532.8,284.8 533.2,283.8 533.5,283.2 533.9,281.9 534.3,280.9 534.6,280.2 535.0,279.6 535.4,278.9 535.7,278.6 536.1,278.4 536.5,278.9 536.8,279.3 537.2,278.7 537.6,278.3 537.9,278.5 538.3,278.8 538.7,278.8 539.0,278.8 539.4,278.3 539.7,277.2 540.1,275.9 540.5,273.7 540.8,271.2 541.2,269.5 541.6,268.3 541.9,267.3 542.3,267.7 542.7,268.4 543.0,268.9 543.4,269.9 543.8,271.4 544.1,272.7 544.5,274.4 544.9,276.6 545.2,277.4 545.6,277.6 546.0,278.3 546.3,279.3 546.7,279.7 547.0,280.2 547.4,280.9 547.8,282.2 548.1,284.3 548.5,285.6 548.9,286.7 549.2,287.3 549.6,286.7 550.0,286.2 550.3,286.3 550.7,285.7 551.1,286.2 551.4,286.5 551.8,286.6 552.2,287.0 552.5,288.7 552.9,291.2 553.2,293.7 553.6,297.2 554.0,300.8 554.3,305.1 554.7,309.2 555.1,313.9 555.4,317.0 555.8,321.0 556.2,324.7 556.5,328.7 556.9,333.6 557.3,338.6 557.6,342.9 558.0,347.0 558.4,349.6 558.7,352.2 559.1,354.5 559.5,356.6 559.8,358.8 560.2,360.4 560.5,362.4 560.9,363.2 561.3,363.9 561.6,364.0 562.0,364.1 562.4,363.9 562.7,363.8 563.1,363.4 563.5,363.2 563.8,363.2 564.2,362.7 564.6,362.5 564.9,362.5 565.3,362.9 565.7,363.9 566.0,365.0 566.4,366.2 566.7,366.6 567.1,367.5 567.5,368.2 567.8,368.0 568.2,367.8 568.6,368.1 568.9,368.5 569.3,369.2 569.7,369.6 570.0,370.5 570.4,371.6 570.8,373.0 571.1,373.9 571.5,374.8 571.9,375.4 572.2,375.7 572.6,376.2 572.9,375.6 573.3,375.5 573.7,375.7 574.0,376.1 574.4,376.1 574.8,376.3 575.1,376.9 575.5,377.5 575.9,378.6 576.2,379.7 576.6,380.0 577.0,380.3 577.3,380.6 577.7,380.8 578.1,380.4 578.4,379.8 578.8,378.6 579.2,377.1 579.5,375.8 579.9,373.9 580.2,372.4 580.6,371.0 581.0,369.6 581.3,368.4 581.7,366.8 582.1,364.7 582.4,362.3 582.8,359.6 583.2,356.9 583.5,353.4 583.9,350.5 584.3,347.7 584.6,345.4 585.0,342.5 585.4,340.1 585.7,338.0 586.1,336.6 586.4,335.6 586.8,334.7 587.2,333.7 587.5,332.0 587.9,330.1 588.3,328.0 588.6,325.6 589.0,323.9 589.4,322.2 589.7,321.3 590.1,320.4 590.5,319.3 590.8,318.8 591.2,318.5 591.6,318.1 591.9,317.2 592.3,316.9 592.7,316.3 593.0,315.6 593.4,314.4 593.7,312.7 594.1,312.2 594.5,312.4 594.8,313.0 595.2,313.8 595.6,314.7 595.9,315.4 596.3,316.0 596.7,316.4 597.0,316.1 597.4,316.4 597.8,316.8 598.1,316.9 598.5,316.8 598.9,317.7 599.2,319.4 599.6,320.6 599.9,321.7 600.3,323.2 600.7,325.1 601.0,327.2 601.4,328.1 601.8,329.2 602.1,330.2 602.5,330.5 602.9,329.8 603.2,329.5 603.6,328.8 604.0,328.4 604.3,327.7 604.7,326.1 605.1,324.7 605.4,323.5 605.8,321.9 606.1,319.4 606.5,315.8 606.9,313.2 607.2,310.5 607.6,307.5 608.0,303.4 608.3,299.7 608.7,295.6 609.1,291.1 609.4,286.3 609.8,281.6 610.2,278.6 610.5,275.9 610.9,273.1 611.3,270.6 611.6,268.2 612.0,267.1 612.4,266.1 612.7,264.7 613.1,263.1 613.4,261.6 613.8,260.8 614.2,259.8 614.5,258.5 614.9,257.3 615.3,257.4 615.6,257.4 616.0,257.4 616.4,257.1 616.7,256.4 617.1,256.2 617.5,255.6 617.8,254.8 618.2,254.2 618.6,253.4 618.9,252.9 619.3,252.2 619.6,251.9 620.0,251.9 620.4,253.0 620.7,253.8 621.1,254.2 621.5,254.6 621.8,256.1 622.2,257.2 622.6,258.1 622.9,258.6 623.3,260.2 623.7,262.0 624.0,264.3 624.4,266.2 624.8,267.9 625.1,269.5 625.5,271.1 625.9,273.4 626.2,276.8 626.6,279.9 626.9,281.9 627.3,284.0 627.7,285.3 628.0,287.5 628.4,290.2 628.8,292.2 629.1,293.5 629.5,295.8 629.9,297.7 630.2,299.8 630.6,301.1 631.0,302.9 631.3,305.1 631.7,307.4 632.1,309.6 632.4,311.3 632.8,313.0 633.1,313.6 633.5,313.4 633.9,313.1 634.2,313.1 634.6,313.1 635.0,313.7 635.3,313.9 635.7,313.9 636.1,314.6 636.4,315.1 636.8,315.0 637.2,315.4 637.5,316.0 637.9,316.9 638.3,317.5 638.6,318.6 639.0,319.6 639.3,320.7 639.7,322.3 640.1,323.5 640.4,325.0 640.8,326.6 641.2,328.3 641.5,329.8 641.9,331.4 642.3,332.5 642.6,333.4 643.0,334.6 643.4,335.7 643.7,338.1 644.1,340.7 644.5,342.9 644.8,344.8 645.2,346.2 645.6,347.6 645.9,348.5 646.3,349.4 646.6,350.2 647.0,351.0 647.4,351.9 647.7,353.0 648.1,354.2 648.5,355.4 648.8,355.8 649.2,356.1 649.6,356.1 649.9,355.8 650.3,355.3 650.7,354.5 651.0,353.0 651.4,351.4 651.8,350.2 652.1,349.1 652.5,347.8 652.8,346.2 653.2,344.8 653.6,344.2 653.9,343.8 654.3,343.3 654.7,343.3 655.0,343.7 655.4,343.4 655.8,343.4 656.1,344.1 656.5,344.6 656.9,345.3 657.2,346.6 657.6,346.8 658.0,346.7 658.3,346.7 658.7,346.6 659.1,347.3 659.4,347.9 659.8,348.8 660.1,350.1 660.5,351.2 660.9,351.0 661.2,351.1 661.6,351.4 662.0,351.3 662.3,351.1 662.7,350.8 663.1,350.4 663.4,349.8 663.8,349.4 664.2,348.8 664.5,347.9 664.9,348.3 665.3,349.0 665.6,349.3 666.0,349.3 666.3,348.2 666.7,347.2 667.1,345.9 667.4,344.0 667.8,342.3 668.2,341.1 668.5,339.4 668.9,338.0 669.3,336.4 669.6,334.7 670.0,333.3 670.4,331.8 670.7,330.8 671.1,330.4 671.5,330.0 671.8,330.0 672.2,329.7 672.6,329.4 672.9,330.0 673.3,330.6 673.6,331.2 674.0,332.2 674.4,333.0 674.7,334.3 675.1,335.9 675.5,337.3 675.8,338.5 676.2,339.4 676.6,340.6 676.9,341.9 677.3,343.4 677.7,344.9 678.0,346.0 678.4,347.1 678.8,347.9 679.1,348.5 679.5,349.4 679.8,350.3 680.2,350.6 680.6,350.9 680.9,351.6 681.3,351.7 681.7,352.5 682.0,353.4 682.4,354.3 682.8,355.8 683.1,358.1 683.5,360.3 683.9,362.8 684.2,365.0 684.6,367.2 685.0,369.2 685.3,371.1 685.7,372.9 686.0,374.7 686.4,377.1 686.8,378.8 687.1,380.6 687.5,382.5 687.9,384.3 688.2,386.1 688.6,388.2 689.0,389.7 689.3,391.1 689.7,392.6 690.1,393.7 690.4,393.9 690.8,393.7 691.2,393.1 691.5,393.0 691.9,392.7 692.3,392.8 692.6,393.1 693.0,393.1 693.3,392.9 693.7,392.4 694.1,392.4 694.4,392.2 694.8,392.3 695.2,392.7 695.5,393.1 695.9,394.7 696.3,396.2 696.6,397.7 697.0,399.4 697.4,401.2 697.7,403.4 698.1,405.8 698.5,408.1 698.8,410.1 699.2,412.3 699.5,414.1 699.9,416.0 700.3,417.7 700.6,419.9 701.0,422.1 701.4,424.2 701.7,426.4 702.1,428.3 702.5,430.3 702.8,431.9 703.2,432.5 703.6,433.0 703.9,433.5 704.3,433.4 704.7,433.2 705.0,432.7 705.4,432.5 705.8,432.4 706.1,432.6 706.5,432.7 706.8,432.9 707.2,433.0 707.6,433.2 707.9,433.1 708.3,433.1 708.7,432.7 709.0,432.0 709.4,431.2 709.8,430.4 710.1,429.7 710.5,429.0 710.9,428.5 711.2,428.3 711.6,428.1 712.0,427.9 712.3,427.4 712.7,426.9 713.0,426.3 713.4,425.6 713.8,424.8 714.1,424.2 714.5,423.7 714.9,423.3 715.2,422.9 715.6,422.4 716.0,422.3 716.3,422.2 716.7,422.2 717.1,422.0 717.4,421.8 717.8,421.4 718.2,421.0 718.5,420.3 718.9,419.7 719.2,419.5 719.6,419.6 720.0,419.8 720.3,420.3 720.7,420.8 721.1,421.2 721.4,421.5 721.8,421.8 722.2,422.1 722.5,422.4 722.9,423.0 723.3,423.7 723.6,424.6 724.0,425.2 724.4,426.1 724.7,426.9 725.1,427.8 725.5,428.7 725.8,429.7 726.2,430.6 726.5,431.4 726.9,432.4 727.3,433.2 727.6,433.5 728.0,433.5 728.4,433.4 728.7,433.3 729.1,433.1 729.5,433.4 729.8,433.6 730.2,433.8 730.6,433.8 730.9,433.7 731.3,433.9 731.7,434.0 732.0,434.2 732.4,434.5 732.7,434.6 733.1,434.7 733.5,435.0 733.8,435.2 734.2,435.1 734.6,435.1 734.9,435.1 735.3,435.5 735.7,436.0 736.0,436.5 736.4,437.3 736.8,437.4 737.1,437.4 737.5,437.3 737.9,437.3 738.2,437.4 738.6,437.4 739.0,437.4 739.3,437.4 739.7,437.3 740.0,437.3 740.4,437.3 740.8,437.2 741.1,437.2 741.5,437.2 741.9,437.1 742.2,437.1 742.6,437.2 743.0,437.3 743.3,437.3 743.7,437.3 744.1,437.3 744.4,437.5 744.8,437.5 745.2,437.3 745.5,437.1 745.9,436.9 746.2,436.6 746.6,436.3 747.0,436.0 747.3,435.7 747.7,435.5 748.1,435.3 748.4,434.9 748.8,434.4 749.2,434.1 749.5,433.9 749.9,434.0 750.3,434.7 750.6,435.0 751.0,435.5 751.4,436.1 751.7,436.7 752.1,437.4 752.5,438.2 752.8,439.0 753.2,439.8 753.5,440.7 753.9,441.5 754.3,442.4 754.6,443.4 755.0,444.3 755.4,445.0 755.7,446.0 756.1,447.0 756.5,447.9 756.8,448.8 757.2,449.3 757.6,449.2 757.9,449.3 758.3,449.3 758.7,449.2 759.0,449.1 759.4,449.0 759.7,448.9 760.1,448.9 760.5,448.8 760.8,448.7 761.2,448.6 761.6,448.5 761.9,448.2 762.3,448.0 762.7,447.7 763.0,447.5 763.4,447.3 763.8,447.3 764.1,447.2 764.5,447.1 764.9,447.1 765.2,447.1 765.6,447.2 765.9,447.3 766.3,447.3 766.7,447.4 767.0,447.4 767.4,447.4 767.8,447.5 768.1,447.6 768.5,447.7 768.9,447.8 769.2,447.9 769.6,448.1 770.0,448.3 770.3,448.5 770.7,448.7 771.1,448.6 771.4,448.6 771.8,448.5 772.2,448.4 772.5,448.3 772.9,448.2 773.2,448.0 773.6,447.5 774.0,446.9 774.3,446.0 774.7,445.1 775.1,444.2 775.4,443.2 775.8,442.3 776.2,441.4 776.5,440.1 776.9,438.8 777.3,437.5 777.6,436.2 778.0,435.0 778.4,433.6 778.7,432.4 779.1,431.0 779.4,429.8 779.8,428.4 780.2,427.2 780.5,426.1 780.9,425.1 781.3,424.4 781.6,423.8 782.0,423.3 782.4,422.9 782.7,422.6 783.1,422.1 783.5,421.7 783.8,421.8 784.2,422.1 784.6,422.3 784.9,422.5 785.3,422.7 785.7,422.9 786.0,422.6 786.4,422.5 786.7,422.2 787.1,422.0 787.5,421.7 787.8,421.3 788.2,421.2 788.6,421.0 788.9,420.9 789.3,420.9 789.7,420.9 790.0,420.7 790.4,420.7 790.8,420.6 791.1,420.2 791.5,419.8 791.9,419.7 792.2,419.6 792.6,419.5 792.9,419.4 793.3,419.9 793.7,420.3 794.0,421.2 794.4,422.1 794.8,422.9 795.1,423.5 795.5,423.5 795.9,423.4 796.2,423.3 796.6,422.9 797.0,422.0 797.3,421.3 797.7,420.3 798.1,419.3 798.4,418.4 798.8,417.6 799.1,416.3 799.5,415.2 799.9,414.1 800.2,412.9 800.6,411.9 801.0,410.7 801.3,409.0 801.7,407.4 802.1,405.7 802.4,404.4 802.8,403.5 803.2,402.9 803.5,402.1 803.9,401.4 804.3,401.3 804.6,401.1 805.0,401.1 805.4,401.0 805.7,400.7 806.1,400.0 806.4,399.7 806.8,399.1 807.2,398.5 807.5,398.0 807.9,397.3 808.3,396.8 808.6,396.4 809.0,396.2 809.4,396.3 809.7,396.5 810.1,396.6 810.5,396.6 810.8,396.8 811.2,396.8 811.6,396.7 811.9,396.3 812.3,396.1 812.6,395.9 813.0,395.9 813.4,396.4 813.7,396.6 814.1,396.9 814.5,397.3 814.8,397.5 815.2,397.8 815.6,398.0 815.9,398.5 816.3,398.8 816.7,398.9 817.0,399.0 817.4,399.2 817.8,399.4 818.1,399.5 818.5,399.7 818.9,400.0 819.2,400.5 819.6,401.0 819.9,401.5 820.3,402.0 820.7,402.2 821.0,402.6 821.4,403.0 821.8,403.5 822.1,404.2 822.5,404.7 822.9,405.0 823.2,404.9 823.6,404.9 824.0,404.9 824.3,404.8 824.7,404.8 825.1,404.7 825.4,404.7 825.8,404.7 826.1,405.0 826.5,405.0 826.9,405.1 827.2,405.2 827.6,405.3 828.0,405.5 828.3,405.7 828.7,406.0 829.1,406.1 829.4,406.4 829.8,406.6 830.2,406.7 830.5,407.1 830.9,407.4 831.3,407.5 831.6,407.3 832.0,406.6 832.4,406.1 832.7,405.3 833.1,404.6 833.4,403.6 833.8,402.9 834.2,402.0 834.5,401.2 834.9,400.4 835.3,399.4 835.6,398.4 836.0,397.4 836.4,396.3 836.7,395.1 837.1,394.1 837.5,393.3 837.8,392.5 838.2,391.7 838.6,391.0 838.9,390.5 839.3,390.4 839.6,390.3 840.0,390.1 840.4,390.2 840.7,390.2 841.1,390.2 841.5,390.3 841.8,390.4 842.2,390.5 842.6,390.6 842.9,390.8 843.3,391.0 843.7,391.2 844.0,391.5 844.4,391.8 844.8,391.9 845.1,392.1 845.5,392.4 845.8,392.5 846.2,392.8 846.6,393.1 846.9,393.2 847.3,393.7 847.7,393.9 848.0,394.2 848.4,394.5 848.8,394.7 849.1,394.8 849.5,394.9 849.9,394.9 850.2,395.0 850.6,395.1 851.0,395.2 851.3,395.2 851.7,395.2 852.1,395.2 852.4,395.3 852.8,395.9 853.1,396.6 853.5,397.3 853.9,397.9 854.2,398.7 854.6,399.3 855.0,399.9 855.3,400.5 855.7,401.2 856.1,401.8 856.4,402.5 856.8,403.2 857.2,403.6 857.5,404.1 857.9,404.8 858.3,405.6 858.6,406.3 859.0,407.0 859.3,407.7 859.7,408.4 860.1,408.6 860.4,408.5 860.8,408.6 861.2,408.6 861.5,408.7 861.9,408.9 862.3,409.0 862.6,409.0 863.0,408.9 863.4,408.7 863.7,408.6 864.1,408.6 864.5,408.8 864.8,408.8 865.2,408.5 865.6,408.4 865.9,408.2 866.3,408.1 866.6,408.0 867.0,407.9 867.4,407.8 867.7,407.8 868.1,407.5 868.5,407.3 868.8,407.1 869.2,406.5 869.6,406.1 869.9,405.8 870.3,405.6 870.7,405.4 871.0,405.1 871.4,404.8 871.8,404.6 872.1,404.5 872.5,404.4 872.8,404.4 873.2,404.3 873.6,404.3 873.9,404.1 874.3,404.0 874.7,403.5 875.0,403.0 875.4,402.7 875.8,402.4 876.1,401.8 876.5,401.4 876.9,400.9 877.2,399.7 877.6,398.4 878.0,396.9 878.3,395.6 878.7,394.3 879.0,393.0 879.4,391.5 879.8,390.0 880.1,388.4 880.5,386.5 880.9,384.8 881.2,383.1 881.6,381.5 882.0,380.1 882.3,378.7 882.7,377.2 883.1,375.7 883.4,374.2 883.8,372.6 884.2,371.1 884.5,370.3 884.9,369.7 885.3,369.5 885.6,368.7 886.0,368.3 886.3,367.7 886.7,367.3 887.1,366.7 887.4,366.1 887.8,366.0 888.2,365.5 888.5,364.9 888.9,364.4 889.3,363.8 889.6,363.3 890.0,362.9 890.4,362.4 890.7,362.2 891.1,362.1 891.5,361.8 891.8,361.3 892.2,360.5 892.5,359.2 892.9,357.8 893.3,356.2 893.6,354.8 894.0,353.2 894.4,351.9 894.7,350.5 895.1,349.4 895.5,348.5 895.8,347.3 896.2,346.2 896.6,345.3 896.9,344.3 897.3,343.4 897.7,342.4 898.0,341.5 898.4,340.2 898.8,339.1 899.1,338.2 899.5,337.4 899.8,337.2 900.2,337.3 900.6,337.5 900.9,337.5 901.3,337.8 901.7,338.2 902.0,338.5 902.4,338.3 902.8,337.7 903.1,337.3 903.5,337.3 903.9,336.8 904.2,336.4 904.6,335.9 905.0,335.6 905.3,334.6 905.7,334.1 906.0,333.5 906.4,333.0 906.8,333.2 907.1,333.2 907.5,333.6 907.9,333.6 908.2,333.7 908.6,333.6 909.0,333.8 909.3,333.9 909.7,334.1 910.1,334.6 910.4,335.8 910.8,336.4 911.2,337.3 911.5,338.2 911.9,338.6 912.3,339.0 912.6,340.1 913.0,340.7 913.3,341.4 913.7,342.2 914.1,342.2 914.4,342.1 914.8,341.9 915.2,341.8 915.5,341.9 915.9,341.9 916.3,341.2 916.6,340.4 917.0,339.3 917.4,338.0 917.7,336.1 918.1,334.0 918.5,331.9 918.8,329.4 919.2,327.3 919.5,325.1 919.9,323.1 920.3,321.2 920.6,319.3 921.0,317.3 921.4,315.4 921.7,313.7 922.1,312.1 922.5,310.2 922.8,308.2 923.2,305.8 923.6,303.1 923.9,299.5 924.3,296.5 924.7,293.4 925.0,290.5 925.4,287.7 925.7,283.7 926.1,281.2 926.5,278.2 926.8,275.0 927.2,271.5 927.6,268.0 927.9,264.4 928.3,260.2 928.7,256.0 929.0,251.4 929.4,247.0 929.8,243.2 930.1,240.4 930.5,237.4 930.9,235.2 931.2,235.3 931.6,233.9 932.0,233.2 932.3,232.9 932.7,232.7 933.0,232.9 933.4,231.6 933.8,230.8 934.1,230.2 934.5,229.7 934.9,229.4 935.2,229.3 935.6,229.5 936.0,229.8 936.3,231.5 936.7,232.6 937.1,232.8 937.4,232.3 937.8,232.2 938.2,231.8 938.5,229.7 938.9,229.5 939.2,228.4 939.6,227.0 940.0,226.4 940.3,227.1 940.7,228.0 941.1,229.4 941.4,230.6 941.8,232.6 942.2,234.0 942.5,235.2 942.9,236.5 943.3,237.5 943.6,237.2 944.0,237.2 944.4,238.0 944.7,238.8 945.1,239.8 945.5,241.1 945.8,242.9 946.2,244.0 946.5,246.1 946.9,248.6 947.3,250.4 947.6,250.6 948.0,250.9 948.4,250.8 948.7,250.9 949.1,250.4 949.5,250.9 949.8,251.0 950.2,251.8 950.6,252.3 950.9,252.6 951.3,253.4 951.7,253.9 952.0,253.6 952.4,253.2 952.7,252.5 953.1,251.9 953.5,250.1 953.8,247.8 954.2,245.3 954.6,243.3 954.9,242.3 955.3,241.8 955.7,241.2 956.0,240.7 956.4,239.7 956.8,238.6 957.1,238.2 957.5,237.0 957.9,236.1 958.2,235.5 958.6,234.6 958.9,233.1 959.3,232.3 959.7,231.1 960.0,230.3 960.4,229.5 960.8,230.0 961.1,230.6 961.5,230.7 961.9,230.9 962.2,230.9 962.6,230.3 963.0,230.5 963.3,230.4 963.7,231.5 964.1,231.5 964.4,231.5 964.8,232.3 965.2,233.3 965.5,234.0 965.9,235.9 966.2,238.3 966.6,240.3 967.0,242.5 967.3,244.6 967.7,247.0 968.1,248.6 968.4,249.7 968.8,251.2 969.2,253.1 969.5,254.9 969.9,256.7 970.3,258.6 970.6,260.6 971.0,262.2 971.4,264.0 971.7,265.8 972.1,266.8 972.4,267.8 972.8,269.7 973.2,269.8 973.5,269.1 973.9,269.0 974.3,268.3 974.6,268.0 975.0,266.7 975.4,266.3 975.7,266.1 976.1,265.2 976.5,263.7 976.8,261.9 977.2,260.5 977.6,258.9 977.9,257.0 978.3,255.9 978.7,254.1 979.0,251.8 979.4,249.9 979.7,248.3 980.1,246.4 980.5,244.8 980.8,244.7 981.2,245.0 981.6,246.2 981.9,248.0 982.3,250.4 982.7,252.4 983.0,252.9 983.4,253.8 983.8,254.3 984.1,256.1 984.5,257.7 984.9,259.1 985.2,261.0 985.6,261.8 985.9,263.7 986.3,265.6 986.7,267.9 987.0,268.9 987.4,270.1 987.8,271.3 988.1,271.0 988.5,270.0 988.9,268.8 989.2,266.6 989.6,264.5 990.0,263.5 990.3,264.0 990.7,265.5 991.1,266.5 991.4,266.6 991.8,267.4 992.2,267.8 992.5,267.6 992.9,267.4 993.2,268.4 993.6,269.4 994.0,269.7 994.3,271.0 994.7,271.4 995.1,272.6 995.4,274.3 995.8,275.9 996.2,276.6 996.5,277.5 996.9,278.4 997.3,278.1 997.6,277.9 998.0,276.8 998.4,275.8 998.7,274.7 999.1,271.8 999.4,270.5 999.8,269.3 1000.2,268.3 1000.5,266.3 1000.9,263.7 1001.3,261.3 1001.6,258.8 1002.0,257.2 1002.4,255.3 1002.7,254.1 1003.1,253.2 1003.5,253.2 1003.8,252.6 1004.2,252.5 1004.6,252.8 1004.9,252.4 1005.3,252.1 1005.6,252.0 1006.0,252.4 1006.4,253.3 1006.7,253.3 1007.1,252.5 1007.5,251.5 1007.8,250.6 1008.2,250.0 1008.6,249.6 1008.9,249.8 1009.3,248.9 1009.7,248.0 1010.0,246.3 1010.4,244.7 1010.8,242.4 1011.1,241.1 1011.5,239.3 1011.9,237.3 1012.2,234.5 1012.6,232.1 1012.9,229.9 1013.3,227.9 1013.7,226.4 1014.0,224.4 1014.4,224.0 1014.8,223.4 1015.1,222.9 1015.5,222.5 1015.9,220.5 1016.2,217.8 1016.6,216.0 1017.0,213.7 1017.3,211.1 1017.7,206.7 1018.1,203.0 1018.4,198.2 1018.8,194.0 1019.1,189.2 1019.5,186.0 1019.9,182.3 1020.2,178.4 1020.6,173.8 1021.0,168.8 1021.3,163.3 1021.7,157.0 1022.1,151.1 1022.4,145.0 1022.8,140.1 1023.2,136.8 1023.5,132.8" fill="none" stroke="#ff7f0e" stroke-width="2.2" stroke-linejoin="round" stroke-linecap="square"/>
<polyline points="108.1,457.4 108.5,457.0 108.9,456.8 109.2,456.6 109.6,456.5 110.0,456.4 110.3,456.2 110.7,456.1 111.1,456.1 111.4,456.1 111.8,456.2 112.2,456.4 112.5,456.9 112.9,457.3 113.3,457.7 113.6,458.1 114.0,458.7 114.3,459.3 114.7,459.9 115.1,460.7 115.4,461.5 115.8,462.5 116.2,463.6 116.5,464.5 116.9,465.4 117.3,466.0 117.6,466.6 118.0,467.1 118.4,467.6 118.7,468.0 119.1,468.4 119.5,468.8 119.8,469.1 120.2,469.5 120.5,469.8 120.9,470.1 121.3,470.4 121.6,470.6 122.0,470.9 122.4,471.3 122.7,471.7 123.1,472.3 123.5,472.9 123.8,473.5 124.2,473.9 124.6,474.3 124.9,474.6 125.3,474.9 125.7,475.1 126.0,475.2 126.4,475.5 126.7,475.8 127.1,475.9 127.5,476.0 127.8,476.2 128.2,476.5 128.6,476.8 128.9,477.1 129.3,477.2 129.7,477.5 130.0,477.8 130.4,478.1 130.8,478.4 131.1,478.7 131.5,479.0 131.9,479.2 132.2,479.4 132.6,479.5 133.0,479.7 133.3,479.7 133.7,479.7 134.0,479.7 134.4,479.6 134.8,479.6 135.1,479.6 135.5,479.7 135.9,479.8 136.2,480.0 136.6,480.1 137.0,480.3 137.3,480.5 137.7,480.8 138.1,481.1 138.4,481.3 138.8,481.6 139.2,482.0 139.5,482.3 139.9,482.6 140.2,482.9 140.6,483.0 141.0,483.2 141.3,483.3 141.7,483.4 142.1,483.6 142.4,483.7 142.8,483.9 143.2,484.1 143.5,484.3 143.9,484.5 144.3,484.7 144.6,484.8 145.0,485.0 145.4,485.1 145.7,485.1 146.1,485.1 146.5,485.0 146.8,485.0 147.2,485.0 147.5,484.9 147.9,484.8 148.3,484.6 148.6,484.5 149.0,484.3 149.4,484.2 149.7,484.1 150.1,484.0 150.5,484.0 150.8,484.0 151.2,483.9 151.6,483.9 151.9,483.9 152.3,483.9 152.7,483.8 153.0,483.8 153.4,483.7 153.7,483.6 154.1,483.5 154.5,483.4 154.8,483.3 155.2,483.3 155.6,483.2 155.9,483.2 156.3,483.1 156.7,483.1 157.0,483.0 157.4,483.0 157.8,482.9 158.1,482.9 158.5,483.0 158.9,483.0 159.2,483.1 159.6,483.1 160.0,483.1 160.3,483.2 160.7,483.3 161.0,483.3 161.4,483.5 161.8,483.7 162.1,483.9 162.5,484.1 162.9,484.4 163.2,484.6 163.6,484.8 164.0,485.0 164.3,485.3 164.7,485.5 165.1,485.7 165.4,486.0 165.8,486.3 166.2,486.6 166.5,486.9 166.9,487.2 167.2,487.5 167.6,487.8 168.0,488.0 168.3,488.4 168.7,488.6 169.1,488.9 169.4,489.1 169.8,489.2 170.2,489.4 170.5,489.5 170.9,489.7 171.3,489.8 171.6,490.0 172.0,490.2 172.4,490.3 172.7,490.5 173.1,490.6 173.4,490.7 173.8,490.7 174.2,490.8 174.5,490.9 174.9,491.0 175.3,491.0 175.6,491.0 176.0,490.9 176.4,490.9 176.7,490.9 177.1,490.8 177.5,490.8 177.8,490.7 178.2,490.6 178.6,490.5 178.9,490.4 179.3,490.3 179.7,490.1 180.0,490.0 180.4,490.0 180.7,489.9 181.1,489.9 181.5,489.8 181.8,489.8 182.2,489.7 182.6,489.7 182.9,489.7 183.3,489.7 183.7,489.7 184.0,489.8 184.4,489.8 184.8,489.7 185.1,489.7 185.5,489.7 185.9,489.7 186.2,489.7 186.6,489.6 186.9,489.6 187.3,489.6 187.7,489.6 188.0,489.6 188.4,489.6 188.8,489.6 189.1,489.6 189.5,489.6 189.9,489.6 190.2,489.5 190.6,489.5 191.0,489.5 191.3,489.4 191.7,489.4 192.1,489.3 192.4,489.3 192.8,489.2 193.2,489.2 193.5,489.2 193.9,489.2 194.2,489.3 194.6,489.4 195.0,489.6 195.3,489.7 195.7,489.9 196.1,490.1 196.4,490.3 196.8,490.5 197.2,490.6 197.5,490.8 197.9,490.9 198.3,491.0 198.6,491.1 199.0,491.2 199.4,491.2 199.7,491.3 200.1,491.3 200.4,491.3 200.8,491.3 201.2,491.3 201.5,491.3 201.9,491.3 202.3,491.2 202.6,491.2 203.0,491.2 203.4,491.2 203.7,491.1 204.1,491.1 204.5,491.1 204.8,491.1 205.2,491.0 205.6,491.0 205.9,491.0 206.3,491.0 206.6,491.0 207.0,491.0 207.4,491.0 207.7,491.1 208.1,491.1 208.5,491.1 208.8,491.1 209.2,491.2 209.6,491.2 209.9,491.2 210.3,491.3 210.7,491.3 211.0,491.4 211.4,491.5 211.8,491.5 212.1,491.6 212.5,491.6 212.9,491.6 213.2,491.6 213.6,491.6 213.9,491.6 214.3,491.6 214.7,491.6 215.0,491.6 215.4,491.6 215.8,491.6 216.1,491.7 216.5,491.7 216.9,491.7 217.2,491.7 217.6,491.7 218.0,491.6 218.3,491.6 218.7,491.7 219.1,491.8 219.4,491.8 219.8,492.0 220.1,492.1 220.5,492.3 220.9,492.4 221.2,492.6 221.6,492.8 222.0,493.0 222.3,493.2 222.7,493.4 223.1,493.7 223.4,493.9 223.8,494.1 224.2,494.3 224.5,494.5 224.9,494.7 225.3,494.9 225.6,495.1 226.0,495.4 226.4,495.6 226.7,495.9 227.1,496.1 227.4,496.4 227.8,496.6 228.2,496.9 228.5,497.1 228.9,497.4 229.3,497.6 229.6,497.9 230.0,498.1 230.4,498.4 230.7,498.7 231.1,498.9 231.5,499.1 231.8,499.4 232.2,499.6 232.6,499.8 232.9,500.0 233.3,500.2 233.6,500.4 234.0,500.6 234.4,500.8 234.7,501.0 235.1,501.2 235.5,501.5 235.8,501.7 236.2,502.0 236.6,502.2 236.9,502.4 237.3,502.6 237.7,502.7 238.0,502.8 238.4,502.9 238.8,503.0 239.1,503.1 239.5,503.2 239.9,503.2 240.2,503.3 240.6,503.3 240.9,503.4 241.3,503.4 241.7,503.4 242.0,503.5 242.4,503.6 242.8,503.6 243.1,503.6 243.5,503.6 243.9,503.7 244.2,503.7 244.6,503.7 245.0,503.7 245.3,503.7 245.7,503.7 246.1,503.7 246.4,503.7 246.8,503.8 247.1,503.8 247.5,503.8 247.9,503.7 248.2,503.7 248.6,503.7 249.0,503.7 249.3,503.7 249.7,503.7 250.1,503.7 250.4,503.7 250.8,503.7 251.2,503.7 251.5,503.8 251.9,503.8 252.3,503.8 252.6,503.8 253.0,503.8 253.3,503.8 253.7,503.8 254.1,503.8 254.4,503.8 254.8,503.8 255.2,503.8 255.5,503.8 255.9,503.8 256.3,503.8 256.6,503.9 257.0,503.9 257.4,503.9 257.7,503.9 258.1,503.9 258.5,503.9 258.8,503.9 259.2,503.8 259.6,503.8 259.9,503.8 260.3,503.8 260.6,503.7 261.0,503.7 261.4,503.7 261.7,503.6 262.1,503.6 262.5,503.6 262.8,503.5 263.2,503.5 263.6,503.5 263.9,503.4 264.3,503.4 264.7,503.3 265.0,503.3 265.4,503.2 265.8,503.2 266.1,503.1 266.5,503.1 266.8,503.1 267.2,503.0 267.6,503.0 267.9,503.0 268.3,502.9 268.7,502.9 269.0,502.9 269.4,502.8 269.8,502.7 270.1,502.6 270.5,502.5 270.9,502.4 271.2,502.3 271.6,502.2 272.0,502.1 272.3,502.0 272.7,501.9 273.1,501.8 273.4,501.7 273.8,501.6 274.1,501.5 274.5,501.4 274.9,501.3 275.2,501.2 275.6,501.0 276.0,500.9 276.3,500.8 276.7,500.6 277.1,500.5 277.4,500.4 277.8,500.2 278.2,500.1 278.5,500.0 278.9,499.9 279.3,499.8 279.6,499.7 280.0,499.6 280.3,499.5 280.7,499.3 281.1,499.2 281.4,499.0 281.8,498.9 282.2,498.7 282.5,498.6 282.9,498.4 283.3,498.2 283.6,498.0 284.0,497.8 284.4,497.5 284.7,497.2 285.1,496.9 285.5,496.5 285.8,496.2 286.2,495.9 286.5,495.7 286.9,495.3 287.3,495.0 287.6,494.7 288.0,494.4 288.4,494.2 288.7,493.9 289.1,493.7 289.5,493.3 289.8,493.0 290.2,492.8 290.6,492.5 290.9,492.2 291.3,491.9 291.7,491.6 292.0,491.3 292.4,491.0 292.8,490.8 293.1,490.6 293.5,490.4 293.8,490.1 294.2,489.9 294.6,489.7 294.9,489.5 295.3,489.3 295.7,489.0 296.0,488.8 296.4,488.5 296.8,488.2 297.1,487.9 297.5,487.5 297.9,487.2 298.2,486.9 298.6,486.5 299.0,486.1 299.3,485.7 299.7,485.2 300.0,484.8 300.4,484.3 300.8,483.7 301.1,483.2 301.5,482.7 301.9,482.2 302.2,481.9 302.6,481.6 303.0,481.3 303.3,481.0 303.7,480.8 304.1,480.5 304.4,480.2 304.8,479.8 305.2,479.5 305.5,479.1 305.9,478.7 306.3,478.4 306.6,478.1 307.0,477.8 307.3,477.6 307.7,477.4 308.1,477.4 308.4,477.3 308.8,477.1 309.2,476.9 309.5,476.7 309.9,476.5 310.3,476.4 310.6,476.3 311.0,476.1 311.4,475.9 311.7,475.7 312.1,475.6 312.5,475.5 312.8,475.3 313.2,475.2 313.5,475.0 313.9,474.8 314.3,474.6 314.6,474.4 315.0,474.2 315.4,474.0 315.7,473.8 316.1,473.6 316.5,473.3 316.8,473.1 317.2,473.1 317.6,473.0 317.9,472.9 318.3,472.9 318.7,473.1 319.0,473.3 319.4,473.4 319.8,473.6 320.1,473.7 320.5,473.7 320.8,473.7 321.2,473.8 321.6,473.9 321.9,474.0 322.3,474.0 322.7,474.1 323.0,474.2 323.4,474.4 323.8,474.6 324.1,474.9 324.5,475.0 324.9,475.2 325.2,475.3 325.6,475.3 326.0,475.4 326.3,475.3 326.7,475.2 327.0,475.2 327.4,475.2 327.8,475.3 328.1,475.3 328.5,475.3 328.9,475.3 329.2,475.2 329.6,475.2 330.0,475.2 330.3,475.1 330.7,475.0 331.1,475.0 331.4,474.9 331.8,474.9 332.2,474.9 332.5,475.0 332.9,475.0 333.2,475.1 333.6,475.4 334.0,475.7 334.3,476.0 334.7,476.3 335.1,476.6 335.4,476.9 335.8,477.2 336.2,477.4 336.5,477.7 336.9,477.8 337.3,478.0 337.6,478.2 338.0,478.4 338.4,478.6 338.7,478.8 339.1,479.0 339.5,479.1 339.8,479.3 340.2,479.4 340.5,479.6 340.9,479.7 341.3,479.9 341.6,480.1 342.0,480.2 342.4,480.4 342.7,480.5 343.1,480.6 343.5,480.8 343.8,481.0 344.2,481.2 344.6,481.5 344.9,481.7 345.3,481.7 345.7,481.8 346.0,481.9 346.4,482.0 346.7,482.1 347.1,482.2 347.5,482.3 347.8,482.3 348.2,482.4 348.6,482.5 348.9,482.6 349.3,482.7 349.7,482.8 350.0,482.9 350.4,483.0 350.8,483.1 351.1,483.2 351.5,483.3 351.9,483.2 352.2,483.2 352.6,483.2 353.0,483.2 353.3,483.1 353.7,483.1 354.0,483.1 354.4,483.2 354.8,483.2 355.1,483.3 355.5,483.4 355.9,483.5 356.2,483.6 356.6,483.6 357.0,483.7 357.3,483.8 357.7,483.9 358.1,483.9 358.4,484.0 358.8,484.1 359.2,484.2 359.5,484.3 359.9,484.3 360.2,484.4 360.6,484.4 361.0,484.4 361.3,484.5 361.7,484.6 362.1,484.7 362.4,484.7 362.8,484.7 363.2,484.8 363.5,485.0 363.9,485.2 364.3,485.5 364.6,485.6 365.0,485.8 365.4,486.0 365.7,486.2 366.1,486.3 366.4,486.5 366.8,486.7 367.2,486.8 367.5,487.0 367.9,487.2 368.3,487.3 368.6,487.4 369.0,487.6 369.4,487.7 369.7,487.9 370.1,488.0 370.5,488.1 370.8,488.2 371.2,488.3 371.6,488.4 371.9,488.4 372.3,488.4 372.7,488.4 373.0,488.3 373.4,488.3 373.7,488.2 374.1,488.1 374.5,488.0 374.8,487.8 375.2,487.7 375.6,487.6 375.9,487.5 376.3,487.4 376.7,487.3 377.0,487.2 377.4,487.1 377.8,487.0 378.1,486.9 378.5,486.8 378.9,486.7 379.2,486.6 379.6,486.4 379.9,486.3 380.3,486.1 380.7,485.9 381.0,485.7 381.4,485.5 381.8,485.3 382.1,485.1 382.5,484.9 382.9,484.7 383.2,484.4 383.6,484.2 384.0,484.0 384.3,483.8 384.7,483.5 385.1,483.2 385.4,483.0 385.8,482.7 386.2,482.5 386.5,482.3 386.9,482.1 387.2,481.8 387.6,481.6 388.0,481.4 388.3,481.2 388.7,481.0 389.1,480.8 389.4,480.6 389.8,480.5 390.2,480.4 390.5,480.3 390.9,480.3 391.3,480.2 391.6,480.2 392.0,480.1 392.4,480.1 392.7,480.1 393.1,480.1 393.4,480.0 393.8,480.0 394.2,480.1 394.5,480.2 394.9,480.2 395.3,480.3 395.6,480.6 396.0,480.8 396.4,481.1 396.7,481.4 397.1,481.7 397.5,482.0 397.8,482.3 398.2,482.6 398.6,482.9 398.9,483.2 399.3,483.5 399.7,483.7 400.0,483.9 400.4,484.1 400.7,484.4 401.1,484.7 401.5,485.0 401.8,485.3 402.2,485.6 402.6,485.9 402.9,486.2 403.3,486.5 403.7,486.8 404.0,487.1 404.4,487.4 404.8,487.6 405.1,487.8 405.5,488.0 405.9,488.2 406.2,488.5 406.6,488.7 406.9,488.9 407.3,489.2 407.7,489.4 408.0,489.7 408.4,489.8 408.8,490.0 409.1,490.1 409.5,490.2 409.9,490.3 410.2,490.5 410.6,490.6 411.0,490.8 411.3,490.9 411.7,491.0 412.1,491.1 412.4,491.2 412.8,491.2 413.1,491.1 413.5,491.0 413.9,490.7 414.2,490.4 414.6,490.1 415.0,489.8 415.3,489.5 415.7,489.1 416.1,488.7 416.4,488.4 416.8,488.1 417.2,487.9 417.5,487.7 417.9,487.5 418.3,487.2 418.6,487.0 419.0,486.8 419.4,486.5 419.7,486.2 420.1,485.9 420.4,485.6 420.8,485.4 421.2,485.2 421.5,485.0 421.9,484.7 422.3,484.6 422.6,484.4 423.0,484.3 423.4,484.1 423.7,483.9 424.1,483.7 424.5,483.5 424.8,483.3 425.2,483.0 425.6,482.8 425.9,482.5 426.3,482.3 426.6,482.0 427.0,481.8 427.4,481.6 427.7,481.4 428.1,481.2 428.5,480.9 428.8,480.7 429.2,480.5 429.6,480.4 429.9,480.2 430.3,480.1 430.7,479.9 431.0,479.8 431.4,479.7 431.8,479.7 432.1,479.6 432.5,479.6 432.9,479.5 433.2,479.5 433.6,479.5 433.9,479.4 434.3,479.5 434.7,479.6 435.0,479.6 435.4,479.6 435.8,479.5 436.1,479.5 436.5,479.5 436.9,479.6 437.2,479.6 437.6,479.6 438.0,479.7 438.3,479.7 438.7,479.7 439.1,479.8 439.4,479.7 439.8,479.7 440.1,479.7 440.5,479.7 440.9,479.7 441.2,479.6 441.6,479.6 442.0,479.7 442.3,479.7 442.7,479.7 443.1,479.8 443.4,479.8 443.8,479.8 444.2,479.8 444.5,479.8 444.9,479.8 445.3,479.8 445.6,479.7 446.0,479.6 446.3,479.5 446.7,479.4 447.1,479.2 447.4,479.0 447.8,478.9 448.2,478.7 448.5,478.6 448.9,478.4 449.3,478.2 449.6,478.0 450.0,477.8 450.4,477.6 450.7,477.4 451.1,477.2 451.5,477.1 451.8,476.9 452.2,476.7 452.6,476.4 452.9,476.2 453.3,475.9 453.6,475.7 454.0,475.5 454.4,475.2 454.7,475.0 455.1,474.8 455.5,474.6 455.8,474.4 456.2,474.2 456.6,474.0 456.9,473.8 457.3,473.7 457.7,473.5 458.0,473.3 458.4,473.1 458.8,472.8 459.1,472.6 459.5,472.5 459.8,472.4 460.2,472.3 460.6,472.3 460.9,472.2 461.3,472.1 461.7,472.0 462.0,471.9 462.4,471.9 462.8,471.8 463.1,471.7 463.5,471.7 463.9,471.7 464.2,471.7 464.6,471.7 465.0,471.7 465.3,471.7 465.7,471.8 466.1,471.9 466.4,471.9 466.8,472.0 467.1,472.1 467.5,472.2 467.9,472.3 468.2,472.3 468.6,472.4 469.0,472.5 469.3,472.6 469.7,472.6 470.1,472.7 470.4,472.8 470.8,472.9 471.2,473.0 471.5,473.2 471.9,473.3 472.3,473.4 472.6,473.4 473.0,473.5 473.3,473.5 473.7,473.5 474.1,473.5 474.4,473.5 474.8,473.5 475.2,473.5 475.5,473.5 475.9,473.5 476.3,473.5 476.6,473.5 477.0,473.4 477.4,473.3 477.7,473.1 478.1,472.8 478.5,472.6 478.8,472.4 479.2,472.1 479.6,471.8 479.9,471.5 480.3,471.3 480.6,471.0 481.0,470.7 481.4,470.4 481.7,470.1 482.1,469.9 482.5,469.5 482.8,469.1 483.2,468.7 483.6,468.4 483.9,468.0 484.3,467.6 484.7,467.2 485.0,466.6 485.4,466.2 485.8,465.7 486.1,465.3 486.5,464.8 486.8,464.2 487.2,463.6 487.6,463.0 487.9,462.3 488.3,461.6 488.7,461.0 489.0,460.3 489.4,459.6 489.8,458.9 490.1,458.3 490.5,457.8 490.9,457.3 491.2,456.7 491.6,456.0 492.0,455.4 492.3,454.7 492.7,454.0 493.0,453.4 493.4,452.7 493.8,452.1 494.1,451.4 494.5,450.9 494.9,450.3 495.2,449.8 495.6,449.4 496.0,448.9 496.3,448.4 496.7,447.9 497.1,447.3 497.4,446.7 497.8,445.9 498.2,445.0 498.5,444.2 498.9,443.3 499.3,442.6 499.6,441.7 500.0,440.9 500.3,440.1 500.7,439.3 501.1,438.4 501.4,437.5 501.8,436.5 502.2,435.4 502.5,434.3 502.9,433.2 503.3,432.1 503.6,430.7 504.0,429.3 504.4,427.9 504.7,426.5 505.1,424.9 505.5,423.0 505.8,421.1 506.2,419.2 506.5,417.6 506.9,416.1 507.3,414.8 507.6,413.3 508.0,411.5 508.4,409.9 508.7,408.3 509.1,406.7 509.5,405.2 509.8,403.8 510.2,402.4 510.6,401.4 510.9,400.2 511.3,399.1 511.7,398.0 512.0,396.9 512.4,395.7 512.8,394.7 513.1,393.4 513.5,392.1 513.8,390.7 514.2,389.5 514.6,388.3 514.9,386.9 515.3,385.4 515.7,384.0 516.0,382.7 516.4,381.4 516.8,380.1 517.1,378.2 517.5,376.1 517.9,374.4 518.2,372.3 518.6,370.2 519.0,368.3 519.3,366.5 519.7,364.6 520.0,362.8 520.4,360.7 520.8,358.7 521.1,356.4 521.5,354.2 521.9,352.0 522.2,350.2 522.6,348.8 523.0,347.5 523.3,346.6 523.7,346.0 524.1,345.5 524.4,345.1 524.8,344.2 525.2,343.1 525.5,341.7 525.9,340.7 526.2,339.9 526.6,338.9 527.0,337.6 527.3,336.2 527.7,334.6 528.1,333.0 528.4,331.1 528.8,328.8 529.2,326.4 529.5,324.2 529.9,322.2 530.3,320.1 530.6,317.9 531.0,315.6 531.4,313.5 531.7,311.4 532.1,309.5 532.5,307.7 532.8,305.9 533.2,304.4 533.5,303.3 533.9,301.7 534.3,300.2 534.6,298.8 535.0,297.2 535.4,296.1 535.7,295.1 536.1,293.9 536.5,293.0 536.8,292.2 537.2,291.2 537.6,290.3 537.9,289.5 538.3,288.9 538.7,288.4 539.0,287.8 539.4,287.5 539.7,287.2 540.1,287.0 540.5,286.2 540.8,285.0 541.2,283.8 541.6,282.6 541.9,281.4 542.3,280.6 542.7,279.7 543.0,279.1 543.4,278.6 543.8,278.5 544.1,278.3 544.5,278.2 544.9,278.2 545.2,277.9 545.6,277.7 546.0,277.7 546.3,277.9 546.7,277.9 547.0,277.9 547.4,278.3 547.8,278.4 548.1,278.6 548.5,278.6 548.9,278.8 549.2,278.8 549.6,278.7 550.0,278.7 550.3,278.9 550.7,278.7 551.1,279.1 551.4,279.4 551.8,279.5 552.2,280.2 552.5,281.0 552.9,282.1 553.2,283.4 553.6,285.2 554.0,286.7 554.3,288.6 554.7,290.4 555.1,292.3 555.4,293.9 555.8,295.7 556.2,297.3 556.5,298.7 556.9,300.6 557.3,302.7 557.6,304.7 558.0,306.6 558.4,308.6 558.7,310.8 559.1,312.8 559.5,315.0 559.8,317.3 560.2,319.3 560.5,321.2 560.9,323.1 561.3,324.8 561.6,326.2 562.0,327.4 562.4,328.7 562.7,329.7 563.1,330.4 563.5,331.6 563.8,333.0 564.2,334.4 564.6,335.9 564.9,337.8 565.3,339.7 565.7,341.8 566.0,343.9 566.4,345.5 566.7,347.5 567.1,349.6 567.5,351.7 567.8,353.8 568.2,355.8 568.6,357.5 568.9,359.3 569.3,360.6 569.7,362.0 570.0,363.3 570.4,364.2 570.8,365.3 571.1,366.1 571.5,366.8 571.9,367.2 572.2,367.8 572.6,368.1 572.9,368.4 573.3,368.5 573.7,369.0 574.0,369.5 574.4,370.1 574.8,370.7 575.1,371.1 575.5,371.3 575.9,371.7 576.2,372.4 576.6,372.8 577.0,373.2 577.3,373.7 577.7,373.9 578.1,373.9 578.4,373.8 578.8,373.3 579.2,372.8 579.5,372.5 579.9,372.1 580.2,371.7 580.6,371.3 581.0,371.3 581.3,371.5 581.7,371.6 582.1,371.3 582.4,370.9 582.8,370.2 583.2,369.5 583.5,368.6 583.9,367.4 584.3,366.3 584.6,365.4 585.0,364.3 585.4,363.0 585.7,361.7 586.1,360.8 586.4,359.9 586.8,359.2 587.2,358.2 587.5,356.8 587.9,355.6 588.3,354.3 588.6,353.1 589.0,351.9 589.4,350.7 589.7,349.6 590.1,348.2 590.5,346.9 590.8,345.6 591.2,344.5 591.6,343.3 591.9,342.0 592.3,340.6 592.7,339.0 593.0,337.5 593.4,335.7 593.7,334.0 594.1,332.6 594.5,331.2 594.8,330.0 595.2,329.0 595.6,328.0 595.9,327.0 596.3,326.2 596.7,325.3 597.0,324.6 597.4,323.9 597.8,323.3 598.1,322.8 598.5,322.3 598.9,322.0 599.2,321.9 599.6,321.5 599.9,321.0 600.3,320.9 600.7,320.9 601.0,321.0 601.4,321.1 601.8,321.6 602.1,321.9 602.5,322.1 602.9,321.7 603.2,321.7 603.6,321.7 604.0,321.5 604.3,321.0 604.7,320.1 605.1,319.3 605.4,318.7 605.8,318.2 606.1,317.7 606.5,317.0 606.9,316.5 607.2,315.7 607.6,315.0 608.0,313.7 608.3,312.7 608.7,311.6 609.1,310.5 609.4,309.1 609.8,307.5 610.2,306.3 610.5,305.4 610.9,304.4 611.3,303.5 611.6,302.5 612.0,301.9 612.4,300.9 612.7,299.6 613.1,298.3 613.4,296.8 613.8,295.5 614.2,294.2 614.5,292.7 614.9,291.3 615.3,290.2 615.6,289.1 616.0,287.9 616.4,286.6 616.7,284.9 617.1,282.9 617.5,280.8 617.8,279.0 618.2,277.4 618.6,275.5 618.9,273.6 619.3,271.9 619.6,270.3 620.0,268.7 620.4,267.4 620.7,266.2 621.1,265.2 621.5,264.3 621.8,263.6 622.2,262.9 622.6,262.4 622.9,262.1 623.3,262.1 623.7,262.0 624.0,261.9 624.4,261.6 624.8,261.6 625.1,261.5 625.5,261.6 625.9,261.9 626.2,263.0 626.6,263.9 626.9,264.9 627.3,265.8 627.7,267.0 628.0,268.6 628.4,269.8 628.8,270.8 629.1,271.8 629.5,273.0 629.9,274.2 630.2,275.2 630.6,276.1 631.0,277.3 631.3,278.6 631.7,279.9 632.1,281.1 632.4,282.2 632.8,283.4 633.1,284.4 633.5,285.4 633.9,286.2 634.2,287.1 634.6,288.2 635.0,289.9 635.3,291.6 635.7,293.2 636.1,294.7 636.4,296.1 636.8,297.6 637.2,299.2 637.5,300.7 637.9,302.1 638.3,303.6 638.6,304.9 639.0,306.2 639.3,307.8 639.7,309.2 640.1,310.3 640.4,311.5 640.8,312.7 641.2,314.1 641.5,315.0 641.9,316.0 642.3,317.2 642.6,318.5 643.0,319.8 643.4,321.2 643.7,322.9 644.1,324.5 644.5,325.6 644.8,326.7 645.2,327.9 645.6,329.0 645.9,330.2 646.3,331.0 646.6,331.7 647.0,332.7 647.4,333.7 647.7,334.4 648.1,335.4 648.5,336.3 648.8,336.8 649.2,337.3 649.6,337.6 649.9,337.9 650.3,338.1 650.7,338.5 651.0,338.9 651.4,339.6 651.8,340.3 652.1,341.1 652.5,341.8 652.8,342.3 653.2,342.6 653.6,343.1 653.9,343.7 654.3,344.2 654.7,345.0 655.0,345.9 655.4,346.6 655.8,347.3 656.1,347.7 656.5,348.1 656.9,348.3 657.2,348.6 657.6,348.5 658.0,348.3 658.3,348.2 658.7,348.3 659.1,348.6 659.4,348.9 659.8,349.3 660.1,349.8 660.5,350.1 660.9,350.1 661.2,350.3 661.6,350.5 662.0,350.3 662.3,350.0 662.7,349.7 663.1,349.5 663.4,349.2 663.8,348.8 664.2,348.4 664.5,348.0 664.9,347.8 665.3,347.5 665.6,347.2 666.0,346.8 666.3,346.2 666.7,345.6 667.1,345.4 667.4,344.9 667.8,344.5 668.2,344.2 668.5,344.0 668.9,343.9 669.3,343.6 669.6,343.3 670.0,343.0 670.4,342.6 670.7,342.4 671.1,342.5 671.5,342.5 671.8,342.4 672.2,342.1 672.6,342.0 672.9,341.9 673.3,341.6 673.6,341.4 674.0,341.1 674.4,340.9 674.7,340.8 675.1,340.8 675.5,340.5 675.8,340.7 676.2,340.9 676.6,341.2 676.9,341.5 677.3,341.4 677.7,341.4 678.0,341.2 678.4,341.2 678.8,341.2 679.1,341.4 679.5,341.5 679.8,341.5 680.2,341.6 680.6,341.5 680.9,341.7 681.3,341.6 681.7,342.0 682.0,342.5 682.4,343.0 682.8,343.7 683.1,344.6 683.5,345.4 683.9,346.6 684.2,347.8 684.6,349.0 685.0,350.2 685.3,351.3 685.7,352.8 686.0,354.2 686.4,355.8 686.8,357.2 687.1,358.6 687.5,360.0 687.9,361.3 688.2,362.8 688.6,364.2 689.0,365.6 689.3,366.8 689.7,368.0 690.1,369.1 690.4,370.3 690.8,371.2 691.2,371.8 691.5,372.7 691.9,373.6 692.3,374.5 692.6,375.4 693.0,376.3 693.3,377.0 693.7,377.8 694.1,378.7 694.4,379.7 694.8,380.7 695.2,381.6 695.5,382.7 695.9,384.2 696.3,385.7 696.6,387.0 697.0,388.6 697.4,390.2 697.7,391.9 698.1,393.3 698.5,394.9 698.8,396.4 699.2,397.9 699.5,399.4 699.9,400.8 700.3,402.0 700.6,403.2 701.0,404.4 701.4,405.2 701.7,406.1 702.1,406.9 702.5,407.7 702.8,408.6 703.2,409.5 703.6,410.4 703.9,411.3 704.3,412.1 704.7,412.7 705.0,413.4 705.4,414.1 705.8,414.8 706.1,415.7 706.5,416.5 706.8,417.3 707.2,418.1 707.6,418.8 707.9,419.4 708.3,420.1 708.7,420.7 709.0,421.4 709.4,422.1 709.8,422.7 710.1,423.4 710.5,424.0 710.9,424.6 711.2,425.3 711.6,426.2 712.0,426.9 712.3,427.4 712.7,428.0 713.0,428.4 713.4,428.9 713.8,429.2 714.1,429.1 714.5,429.1 714.9,429.1 715.2,428.8 715.6,428.6 716.0,428.3 716.3,428.0 716.7,427.8 717.1,427.5 717.4,427.2 717.8,426.9 718.2,426.6 718.5,426.4 718.9,426.1 719.2,425.8 719.6,425.6 720.0,425.3 720.3,425.2 720.7,425.1 721.1,424.9 721.4,424.7 721.8,424.6 722.2,424.5 722.5,424.4 722.9,424.5 723.3,424.7 723.6,424.8 724.0,424.9 724.4,424.9 724.7,424.8 725.1,424.8 725.5,424.9 725.8,425.0 726.2,425.1 726.5,425.2 726.9,425.5 727.3,425.8 727.6,426.2 728.0,426.3 728.4,426.4 728.7,426.4 729.1,426.5 729.5,426.5 729.8,426.6 730.2,426.9 730.6,427.2 730.9,427.6 731.3,427.9 731.7,428.2 732.0,428.6 732.4,429.0 732.7,429.3 733.1,429.5 733.5,429.9 733.8,430.3 734.2,430.6 734.6,431.0 734.9,431.3 735.3,431.7 735.7,432.1 736.0,432.5 736.4,433.0 736.8,433.4 737.1,433.7 737.5,434.0 737.9,434.3 738.2,434.6 738.6,434.7 739.0,434.9 739.3,435.1 739.7,435.3 740.0,435.5 740.4,435.6 740.8,435.8 741.1,435.9 741.5,436.0 741.9,436.0 742.2,436.1 742.6,436.2 743.0,436.2 743.3,436.3 743.7,436.4 744.1,436.4 744.4,436.5 744.8,436.4 745.2,436.3 745.5,436.2 745.9,436.1 746.2,436.1 746.6,436.2 747.0,436.3 747.3,436.5 747.7,436.5 748.1,436.5 748.4,436.4 748.8,436.3 749.2,436.2 749.5,436.1 749.9,436.2 750.3,436.4 750.6,436.5 751.0,436.7 751.4,436.9 751.7,437.1 752.1,437.3 752.5,437.5 752.8,437.7 753.2,437.9 753.5,438.2 753.9,438.4 754.3,438.7 754.6,438.9 755.0,439.2 755.4,439.6 755.7,439.9 756.1,440.1 756.5,440.4 756.8,440.6 757.2,440.9 757.6,441.1 757.9,441.3 758.3,441.5 758.7,441.7 759.0,441.9 759.4,442.0 759.7,442.2 760.1,442.4 760.5,442.6 760.8,442.8 761.2,443.0 761.6,443.1 761.9,443.3 762.3,443.5 762.7,443.7 763.0,443.8 763.4,444.1 763.8,444.5 764.1,444.8 764.5,445.1 764.9,445.5 765.2,445.8 765.6,446.1 765.9,446.4 766.3,446.7 766.7,447.0 767.0,447.4 767.4,447.8 767.8,448.1 768.1,448.3 768.5,448.2 768.9,448.3 769.2,448.3 769.6,448.3 770.0,448.3 770.3,448.3 770.7,448.3 771.1,448.3 771.4,448.3 771.8,448.3 772.2,448.2 772.5,448.1 772.9,448.0 773.2,447.9 773.6,447.7 774.0,447.4 774.3,447.0 774.7,446.6 775.1,446.2 775.4,445.8 775.8,445.5 776.2,445.1 776.5,444.6 776.9,444.2 777.3,443.7 777.6,443.2 778.0,442.7 778.4,442.2 778.7,441.7 779.1,441.2 779.4,440.7 779.8,440.1 780.2,439.6 780.5,439.1 780.9,438.6 781.3,438.1 781.6,437.6 782.0,437.1 782.4,436.5 782.7,436.0 783.1,435.4 783.5,434.9 783.8,434.5 784.2,434.1 784.6,433.7 784.9,433.2 785.3,432.8 785.7,432.4 786.0,431.7 786.4,431.1 786.7,430.5 787.1,429.8 787.5,429.1 787.8,428.4 788.2,427.8 788.6,427.1 788.9,426.5 789.3,426.0 789.7,425.5 790.0,424.9 790.4,424.4 790.8,423.8 791.1,423.3 791.5,422.9 791.9,422.6 792.2,422.3 792.6,422.2 792.9,422.1 793.3,422.0 793.7,422.0 794.0,422.0 794.4,422.1 794.8,422.2 795.1,422.3 795.5,422.2 795.9,422.0 796.2,421.9 796.6,421.7 797.0,421.3 797.3,421.0 797.7,420.6 798.1,420.2 798.4,419.8 798.8,419.4 799.1,419.0 799.5,418.7 799.9,418.3 800.2,417.9 800.6,417.6 801.0,417.2 801.3,416.8 801.7,416.3 802.1,415.8 802.4,415.2 802.8,414.7 803.2,414.2 803.5,413.6 803.9,413.1 804.3,412.8 804.6,412.4 805.0,412.1 805.4,411.8 805.7,411.4 806.1,410.9 806.4,410.4 806.8,409.9 807.2,409.4 807.5,408.8 807.9,408.1 808.3,407.6 808.6,407.1 809.0,406.6 809.4,406.2 809.7,405.9 810.1,405.4 810.5,405.0 810.8,404.5 811.2,404.0 811.6,403.5 811.9,402.8 812.3,402.1 812.6,401.3 813.0,400.6 813.4,400.1 813.7,399.7 814.1,399.3 814.5,399.0 814.8,398.6 815.2,398.5 815.6,398.3 815.9,398.4 816.3,398.4 816.7,398.4 817.0,398.4 817.4,398.6 817.8,398.6 818.1,398.7 818.5,398.7 818.9,398.8 819.2,398.7 819.6,398.9 819.9,399.0 820.3,399.1 820.7,399.2 821.0,399.3 821.4,399.4 821.8,399.5 822.1,399.7 822.5,399.8 822.9,399.9 823.2,399.9 823.6,399.9 824.0,400.1 824.3,400.4 824.7,400.6 825.1,400.9 825.4,401.2 825.8,401.4 826.1,401.8 826.5,402.0 826.9,402.4 827.2,402.6 827.6,402.7 828.0,402.8 828.3,403.0 828.7,403.1 829.1,403.3 829.4,403.5 829.8,403.8 830.2,404.0 830.5,404.3 830.9,404.5 831.3,404.7 831.6,404.7 832.0,404.6 832.4,404.5 832.7,404.4 833.1,404.3 833.4,404.1 833.8,404.0 834.2,403.7 834.5,403.5 834.9,403.3 835.3,403.0 835.6,402.7 836.0,402.4 836.4,402.0 836.7,401.7 837.1,401.4 837.5,401.2 837.8,400.9 838.2,400.6 838.6,400.3 838.9,400.0 839.3,399.7 839.6,399.4 840.0,399.0 840.4,398.7 840.7,398.4 841.1,398.1 841.5,397.9 841.8,397.7 842.2,397.5 842.6,397.3 842.9,397.1 843.3,396.8 843.7,396.6 844.0,396.4 844.4,396.1 844.8,395.9 845.1,395.7 845.5,395.5 845.8,395.2 846.2,394.9 846.6,394.6 846.9,394.3 847.3,394.0 847.7,393.7 848.0,393.4 848.4,393.2 848.8,393.0 849.1,392.7 849.5,392.5 849.9,392.4 850.2,392.4 850.6,392.5 851.0,392.6 851.3,392.7 851.7,392.8 852.1,392.9 852.4,393.0 852.8,393.3 853.1,393.7 853.5,394.1 853.9,394.4 854.2,394.8 854.6,395.3 855.0,395.6 855.3,396.0 855.7,396.3 856.1,396.7 856.4,397.0 856.8,397.4 857.2,397.6 857.5,397.9 857.9,398.3 858.3,398.8 858.6,399.1 859.0,399.5 859.3,399.9 859.7,400.2 860.1,400.6 860.4,400.9 860.8,401.2 861.2,401.6 861.5,401.9 861.9,402.3 862.3,402.6 862.6,402.9 863.0,403.1 863.4,403.3 863.7,403.6 864.1,403.8 864.5,404.0 864.8,404.2 865.2,404.4 865.6,404.6 865.9,404.8 866.3,405.1 866.6,405.3 867.0,405.5 867.4,405.8 867.7,406.1 868.1,406.3 868.5,406.5 868.8,406.7 869.2,406.8 869.6,407.0 869.9,407.1 870.3,407.3 870.7,407.4 871.0,407.3 871.4,407.1 871.8,406.9 872.1,406.8 872.5,406.7 872.8,406.6 873.2,406.6 873.6,406.5 873.9,406.5 874.3,406.4 874.7,406.2 875.0,406.0 875.4,405.9 875.8,405.8 876.1,405.5 876.5,405.1 876.9,404.8 877.2,404.2 877.6,403.5 878.0,402.8 878.3,402.1 878.7,401.4 879.0,400.7 879.4,400.0 879.8,399.2 880.1,398.4 880.5,397.6 880.9,396.9 881.2,396.2 881.6,395.5 882.0,394.7 882.3,394.0 882.7,393.3 883.1,392.6 883.4,391.8 883.8,390.9 884.2,390.0 884.5,389.1 884.9,388.2 885.3,387.4 885.6,386.4 886.0,385.6 886.3,384.8 886.7,384.0 887.1,383.1 887.4,382.3 887.8,381.6 888.2,380.7 888.5,379.9 888.9,379.1 889.3,378.2 889.6,377.4 890.0,376.6 890.4,375.8 890.7,374.9 891.1,374.0 891.5,372.9 891.8,371.9 892.2,370.8 892.5,369.5 892.9,368.2 893.3,366.9 893.6,365.6 894.0,364.3 894.4,363.1 894.7,361.9 895.1,361.0 895.5,360.3 895.8,359.5 896.2,358.8 896.6,358.1 896.9,357.4 897.3,356.8 897.7,356.1 898.0,355.5 898.4,354.7 898.8,354.0 899.1,353.2 899.5,352.5 899.8,351.8 900.2,351.1 900.6,350.4 900.9,349.7 901.3,349.2 901.7,348.7 902.0,348.3 902.4,347.9 902.8,347.2 903.1,346.5 903.5,345.9 903.9,345.4 904.2,344.7 904.6,344.1 905.0,343.4 905.3,342.6 905.7,341.9 906.0,341.0 906.4,340.2 906.8,339.8 907.1,339.3 907.5,339.0 907.9,338.6 908.2,338.1 908.6,337.6 909.0,337.3 909.3,337.0 909.7,336.8 910.1,336.6 910.4,336.6 910.8,336.8 911.2,337.1 911.5,337.5 911.9,337.6 912.3,337.8 912.6,337.9 913.0,338.0 913.3,337.8 913.7,337.7 914.1,337.7 914.4,337.7 914.8,337.6 915.2,337.6 915.5,337.5 915.9,337.4 916.3,337.2 916.6,337.1 917.0,336.8 917.4,336.5 917.7,336.1 918.1,335.5 918.5,335.0 918.8,334.2 919.2,333.5 919.5,332.7 919.9,331.9 920.3,331.0 920.6,330.2 921.0,329.5 921.4,329.0 921.7,328.2 922.1,327.7 922.5,327.1 922.8,326.4 923.2,325.5 923.6,324.6 923.9,323.3 924.3,322.0 924.7,320.7 925.0,319.0 925.4,317.3 925.7,315.1 926.1,313.2 926.5,311.3 926.8,309.2 927.2,307.0 927.6,304.7 927.9,302.4 928.3,299.8 928.7,297.1 929.0,294.2 929.4,291.6 929.8,289.1 930.1,287.1 930.5,284.9 930.9,282.7 931.2,281.1 931.6,279.0 932.0,277.1 932.3,275.3 932.7,273.5 933.0,271.5 933.4,269.2 933.8,266.8 934.1,264.6 934.5,262.4 934.9,260.3 935.2,258.4 935.6,256.4 936.0,254.5 936.3,253.2 936.7,251.9 937.1,250.4 937.4,249.1 937.8,247.7 938.2,246.2 938.5,244.5 938.9,243.0 939.2,241.5 939.6,239.9 940.0,238.6 940.3,237.5 940.7,236.3 941.1,235.3 941.4,234.5 941.8,234.1 942.2,234.1 942.5,233.8 942.9,233.6 943.3,233.4 943.6,233.1 944.0,233.2 944.4,233.2 944.7,233.3 945.1,233.6 945.5,234.0 945.8,234.5 946.2,234.9 946.5,235.9 946.9,237.0 947.3,238.2 947.6,238.9 948.0,239.4 948.4,239.5 948.7,239.9 949.1,240.2 949.5,240.3 949.8,240.7 950.2,241.1 950.6,241.1 950.9,241.0 951.3,241.4 951.7,242.1 952.0,242.4 952.4,242.8 952.7,243.1 953.1,243.5 953.5,243.2 953.8,243.2 954.2,243.2 954.6,242.9 954.9,242.8 955.3,243.0 955.7,243.0 956.0,243.3 956.4,243.4 956.8,243.8 957.1,244.2 957.5,244.5 957.9,244.7 958.2,244.7 958.6,244.4 958.9,244.2 959.3,243.6 959.7,243.0 960.0,242.2 960.4,241.7 960.8,241.1 961.1,240.8 961.5,240.4 961.9,240.4 962.2,240.3 962.6,239.9 963.0,239.7 963.3,239.6 963.7,239.5 964.1,239.3 964.4,239.1 964.8,239.0 965.2,238.6 965.5,238.2 965.9,238.5 966.2,239.1 966.6,239.4 967.0,239.6 967.3,239.9 967.7,240.1 968.1,240.2 968.4,240.0 968.8,240.0 969.2,240.6 969.5,240.9 969.9,241.0 970.3,241.8 970.6,242.5 971.0,243.4 971.4,244.1 971.7,245.5 972.1,246.6 972.4,247.6 972.8,248.7 973.2,249.6 973.5,250.0 973.9,250.5 974.3,250.6 974.6,251.2 975.0,251.4 975.4,251.4 975.7,251.6 976.1,251.6 976.5,251.9 976.8,251.8 977.2,252.0 977.6,252.4 977.9,252.9 978.3,253.7 978.7,253.9 979.0,254.2 979.4,254.3 979.7,254.7 980.1,254.9 980.5,255.1 980.8,255.7 981.2,256.3 981.6,257.0 981.9,257.8 982.3,258.9 982.7,259.8 983.0,259.9 983.4,259.8 983.8,260.0 984.1,259.9 984.5,259.7 984.9,259.9 985.2,260.3 985.6,260.6 985.9,260.6 986.3,261.0 986.7,261.6 987.0,261.8 987.4,261.7 987.8,261.7 988.1,261.5 988.5,260.9 988.9,260.3 989.2,259.6 989.6,259.1 990.0,258.9 990.3,258.7 990.7,258.9 991.1,258.7 991.4,258.6 991.8,259.1 992.2,259.4 992.5,260.0 992.9,260.3 993.2,261.3 993.6,262.2 994.0,263.0 994.3,264.1 994.7,264.8 995.1,266.0 995.4,267.0 995.8,267.6 996.2,268.1 996.5,268.2 996.9,268.8 997.3,269.4 997.6,269.9 998.0,270.3 998.4,270.4 998.7,270.6 999.1,269.9 999.4,269.7 999.8,269.2 1000.2,268.5 1000.5,267.6 1000.9,266.7 1001.3,266.4 1001.6,266.1 1002.0,266.0 1002.4,265.6 1002.7,265.5 1003.1,265.3 1003.5,265.0 1003.8,264.5 1004.2,264.3 1004.6,264.3 1004.9,263.7 1005.3,263.6 1005.6,263.2 1006.0,263.0 1006.4,262.9 1006.7,263.0 1007.1,262.7 1007.5,262.4 1007.8,262.1 1008.2,261.3 1008.6,260.6 1008.9,259.8 1009.3,258.9 1009.7,258.2 1010.0,257.1 1010.4,256.1 1010.8,254.9 1011.1,254.0 1011.5,252.7 1011.9,251.4 1012.2,249.6 1012.6,248.0 1012.9,246.6 1013.3,245.1 1013.7,243.7 1014.0,242.4 1014.4,241.7 1014.8,240.8 1015.1,239.9 1015.5,239.1 1015.9,237.6 1016.2,236.3 1016.6,235.0 1017.0,233.8 1017.3,232.8 1017.7,230.5 1018.1,228.4 1018.4,226.0 1018.8,223.8 1019.1,221.6 1019.5,219.5 1019.9,217.4 1020.2,215.0 1020.6,212.5 1021.0,209.6 1021.3,206.4 1021.7,203.2 1022.1,200.2 1022.4,196.9 1022.8,194.0 1023.2,191.4 1023.5,188.5" fill="none" stroke="#2ca02c" stroke-width="2.6" stroke-linejoin="round" stroke-linecap="square"/>
<path d="M59.4,519.50H63 M59.4,434.70H63 M59.4,349.90H63 M59.4,265.10H63 M59.4,180.30H63 M59.4,95.50H63 M103.4,531V535.4 M236.6,531V535.4 M369.7,531V535.4 M503.3,531V535.4 M636.4,531V535.4 M769.6,531V535.4 M902.7,531V535.4 M1036.3,531V535.4" stroke="#262626" stroke-width="1.1" fill="none"/>
<text x="56.0" y="524.3" font-size="13" text-anchor="end" textLength="7.4" lengthAdjust="spacingAndGlyphs">0</text>
<text x="55.2" y="439.5" font-size="13" text-anchor="end" textLength="40.6" lengthAdjust="spacingAndGlyphs">20000</text>
<text x="55.2" y="354.7" font-size="13" text-anchor="end" textLength="40.6" lengthAdjust="spacingAndGlyphs">40000</text>
<text x="55.2" y="269.9" font-size="13" text-anchor="end" textLength="40.6" lengthAdjust="spacingAndGlyphs">60000</text>
<text x="55.2" y="185.1" font-size="13" text-anchor="end" textLength="40.6" lengthAdjust="spacingAndGlyphs">80000</text>
<text x="55.2" y="100.3" font-size="13" text-anchor="end" textLength="47.3" lengthAdjust="spacingAndGlyphs">100000</text>
<text x="102.6" y="549.8" font-size="13" text-anchor="middle" textLength="31.5" lengthAdjust="spacingAndGlyphs">2018</text>
<text x="235.8" y="549.8" font-size="13" text-anchor="middle" textLength="31.5" lengthAdjust="spacingAndGlyphs">2019</text>
<text x="368.9" y="549.8" font-size="13" text-anchor="middle" textLength="31.5" lengthAdjust="spacingAndGlyphs">2020</text>
<text x="502.5" y="549.8" font-size="13" text-anchor="middle" textLength="31.5" lengthAdjust="spacingAndGlyphs">2021</text>
<text x="635.6" y="549.8" font-size="13" text-anchor="middle" textLength="31.5" lengthAdjust="spacingAndGlyphs">2022</text>
<text x="768.8" y="549.8" font-size="13" text-anchor="middle" textLength="31.5" lengthAdjust="spacingAndGlyphs">2023</text>
<text x="901.9" y="549.8" font-size="13" text-anchor="middle" textLength="31.5" lengthAdjust="spacingAndGlyphs">2024</text>
<text x="1035.5" y="549.8" font-size="13" text-anchor="middle" textLength="31.5" lengthAdjust="spacingAndGlyphs">2025</text>
<text x="352.4" y="23.9" font-size="18" textLength="428.8" lengthAdjust="spacingAndGlyphs">Bitcoin Price with Moving Averages and Bollinger Bands</text>
<rect x="71.05" y="38.2" width="146.25" height="80.6" rx="2.5" fill="#fff" fill-opacity="0.97" stroke="#d6d6d6" stroke-width="1"/>
<path d="M75,49.2H103.9" stroke="#1f77b4" stroke-width="2.2"/>
<path d="M75,68.8H103.9" stroke="#ff7f0e" stroke-width="2.2"/>
<path d="M75,88.3H103.9" stroke="#2ca02c" stroke-width="2.2"/>
<rect x="76.2" y="103.1" width="26.7" height="9.7" fill="#808080" fill-opacity="0.33"/>
<text x="112.7" y="53.5" font-size="13.2" textLength="69.4" lengthAdjust="spacingAndGlyphs">Close Price</text>
<text x="112.7" y="73.0" font-size="13.2" textLength="69.4" lengthAdjust="spacingAndGlyphs">20-Day MA</text>
<text x="112.7" y="92.6" font-size="13.2" textLength="69.4" lengthAdjust="spacingAndGlyphs">50-Day MA</text>
<text x="112.7" y="112.2" font-size="13.2" textLength="99.8" lengthAdjust="spacingAndGlyphs">Bollinger Bands</text>
<rect x="0" y="0" width="1080" height="1.7" fill="#000"/>
<rect x="1077.6" y="0" width="2.4" height="559" fill="#000"/>
</svg></body></html>
